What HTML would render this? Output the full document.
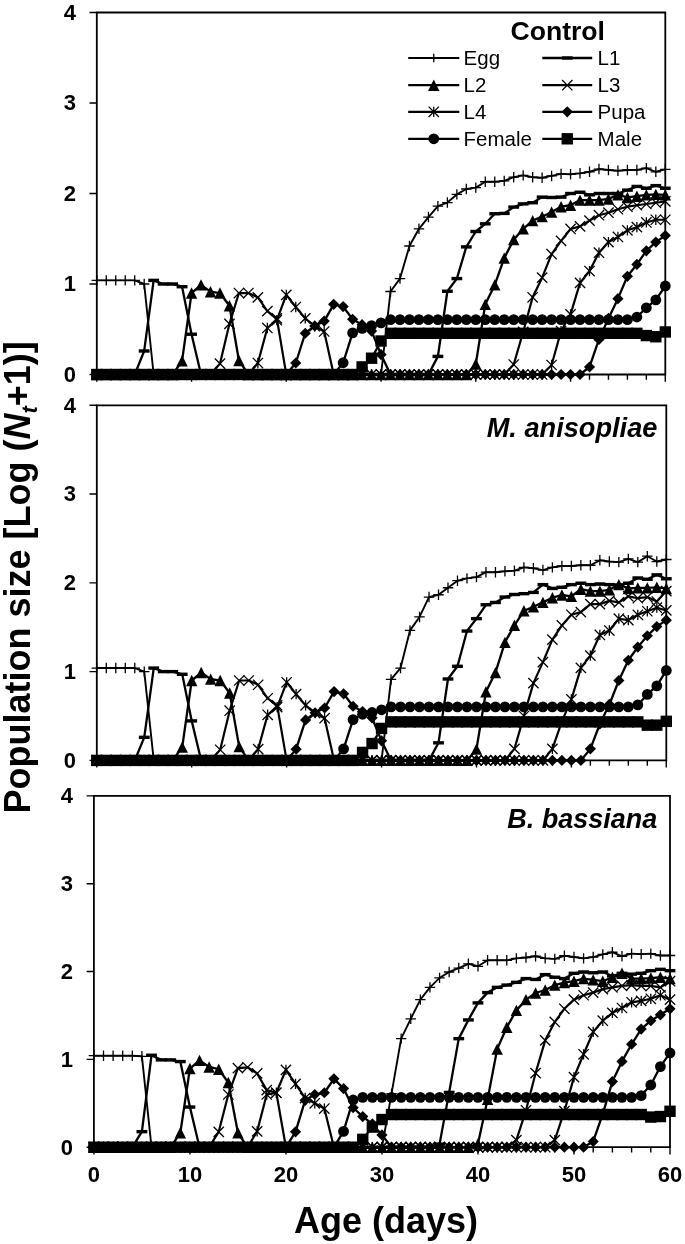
<!DOCTYPE html>
<html lang="en"><head><meta charset="utf-8"><title>Population size by stage</title>
<style>html,body{margin:0;padding:0;background:#fff}body{width:685px;height:1244px;overflow:hidden}svg{display:block}</style></head>
<body>
<svg width="685" height="1244" viewBox="0 0 685 1244" font-family="'Liberation Sans', sans-serif" fill="#000">
<rect width="685" height="1244" fill="#fff"/>
<g><path d="M96.8 374.5V12.5H665.3V374.5H96.8" fill="none" stroke="#000" stroke-width="1.8"/>
<path d="M89.50 374.50H96.8M89.50 284.00H96.8M89.50 193.50H96.8M89.50 103.00H96.8M89.50 12.50H96.8M96.80 374.5V381.70M115.75 374.5V379.80M134.70 374.5V379.80M153.65 374.5V379.80M172.60 374.5V379.80M191.55 374.5V381.70M210.50 374.5V379.80M229.45 374.5V379.80M248.40 374.5V379.80M267.35 374.5V379.80M286.30 374.5V381.70M305.25 374.5V379.80M324.20 374.5V379.80M343.15 374.5V379.80M362.10 374.5V379.80M381.05 374.5V381.70M400.00 374.5V379.80M418.95 374.5V379.80M437.90 374.5V379.80M456.85 374.5V379.80M475.80 374.5V381.70M494.75 374.5V379.80M513.70 374.5V379.80M532.65 374.5V379.80M551.60 374.5V379.80M570.55 374.5V381.70M589.50 374.5V379.80M608.45 374.5V379.80M627.40 374.5V379.80M646.35 374.5V379.80M665.30 374.5V381.70" fill="none" stroke="#000" stroke-width="1.4"/>
<text x="76.00" y="381.80" font-size="22" font-weight="bold" text-anchor="end">0</text>
<text x="76.00" y="291.30" font-size="22" font-weight="bold" text-anchor="end">1</text>
<text x="76.00" y="200.80" font-size="22" font-weight="bold" text-anchor="end">2</text>
<text x="76.00" y="110.30" font-size="22" font-weight="bold" text-anchor="end">3</text>
<text x="76.00" y="19.80" font-size="22" font-weight="bold" text-anchor="end">4</text>
<polyline fill="none" stroke="#000" stroke-width="1.9" stroke-linejoin="round" points="96.80,280.38 106.27,280.38 115.75,280.38 125.22,280.38 134.70,280.38 144.18,284.00 153.65,374.50 163.12,374.50 172.60,374.50 182.07,374.50 191.55,374.50 201.02,374.50 210.50,374.50 219.97,374.50 229.45,374.50 238.93,374.50 248.40,374.50 257.88,374.50 267.35,374.50 276.82,374.50 286.30,374.50 295.77,374.50 305.25,374.50 314.72,374.50 324.20,374.50 333.68,374.50 343.15,374.50 352.62,374.50 362.10,374.50 371.57,374.50 381.05,374.50 390.52,291.51 400.00,278.57 409.48,245.99 418.95,228.79 428.43,217.03 437.90,206.17 447.38,202.55 456.85,194.41 466.32,188.98 475.80,187.62 485.27,181.74 494.75,181.74 504.23,180.83 513.70,177.21 523.17,175.40 532.65,177.21 542.12,177.75 551.60,175.94 561.07,173.86 570.55,174.31 580.02,173.32 589.50,171.78 598.97,169.06 608.45,169.97 617.92,170.69 627.40,169.97 636.87,169.97 646.35,168.16 655.82,171.78 665.30,169.34"/>
<path d="M91.60 280.38H102.00M96.80 275.18V285.58" stroke="#000" stroke-width="1.3" fill="none"/><path d="M101.07 280.38H111.47M106.27 275.18V285.58" stroke="#000" stroke-width="1.3" fill="none"/><path d="M110.55 280.38H120.95M115.75 275.18V285.58" stroke="#000" stroke-width="1.3" fill="none"/><path d="M120.02 280.38H130.42M125.22 275.18V285.58" stroke="#000" stroke-width="1.3" fill="none"/><path d="M129.50 280.38H139.90M134.70 275.18V285.58" stroke="#000" stroke-width="1.3" fill="none"/><path d="M138.98 284.00H149.38M144.18 278.80V289.20" stroke="#000" stroke-width="1.3" fill="none"/><path d="M148.45 374.50H158.85M153.65 369.30V379.70" stroke="#000" stroke-width="1.3" fill="none"/><path d="M157.93 374.50H168.32M163.12 369.30V379.70" stroke="#000" stroke-width="1.3" fill="none"/><path d="M167.40 374.50H177.80M172.60 369.30V379.70" stroke="#000" stroke-width="1.3" fill="none"/><path d="M176.88 374.50H187.27M182.07 369.30V379.70" stroke="#000" stroke-width="1.3" fill="none"/><path d="M186.35 374.50H196.75M191.55 369.30V379.70" stroke="#000" stroke-width="1.3" fill="none"/><path d="M195.82 374.50H206.22M201.02 369.30V379.70" stroke="#000" stroke-width="1.3" fill="none"/><path d="M205.30 374.50H215.70M210.50 369.30V379.70" stroke="#000" stroke-width="1.3" fill="none"/><path d="M214.78 374.50H225.17M219.97 369.30V379.70" stroke="#000" stroke-width="1.3" fill="none"/><path d="M224.25 374.50H234.65M229.45 369.30V379.70" stroke="#000" stroke-width="1.3" fill="none"/><path d="M233.73 374.50H244.12M238.93 369.30V379.70" stroke="#000" stroke-width="1.3" fill="none"/><path d="M243.20 374.50H253.60M248.40 369.30V379.70" stroke="#000" stroke-width="1.3" fill="none"/><path d="M252.68 374.50H263.07M257.88 369.30V379.70" stroke="#000" stroke-width="1.3" fill="none"/><path d="M262.15 374.50H272.55M267.35 369.30V379.70" stroke="#000" stroke-width="1.3" fill="none"/><path d="M271.62 374.50H282.02M276.82 369.30V379.70" stroke="#000" stroke-width="1.3" fill="none"/><path d="M281.10 374.50H291.50M286.30 369.30V379.70" stroke="#000" stroke-width="1.3" fill="none"/><path d="M290.57 374.50H300.97M295.77 369.30V379.70" stroke="#000" stroke-width="1.3" fill="none"/><path d="M300.05 374.50H310.45M305.25 369.30V379.70" stroke="#000" stroke-width="1.3" fill="none"/><path d="M309.52 374.50H319.92M314.72 369.30V379.70" stroke="#000" stroke-width="1.3" fill="none"/><path d="M319.00 374.50H329.40M324.20 369.30V379.70" stroke="#000" stroke-width="1.3" fill="none"/><path d="M328.48 374.50H338.88M333.68 369.30V379.70" stroke="#000" stroke-width="1.3" fill="none"/><path d="M337.95 374.50H348.35M343.15 369.30V379.70" stroke="#000" stroke-width="1.3" fill="none"/><path d="M347.43 374.50H357.82M352.62 369.30V379.70" stroke="#000" stroke-width="1.3" fill="none"/><path d="M356.90 374.50H367.30M362.10 369.30V379.70" stroke="#000" stroke-width="1.3" fill="none"/><path d="M366.38 374.50H376.77M371.57 369.30V379.70" stroke="#000" stroke-width="1.3" fill="none"/><path d="M375.85 374.50H386.25M381.05 369.30V379.70" stroke="#000" stroke-width="1.3" fill="none"/><path d="M385.32 291.51H395.72M390.52 286.31V296.71" stroke="#000" stroke-width="1.3" fill="none"/><path d="M394.80 278.57H405.20M400.00 273.37V283.77" stroke="#000" stroke-width="1.3" fill="none"/><path d="M404.28 245.99H414.68M409.48 240.79V251.19" stroke="#000" stroke-width="1.3" fill="none"/><path d="M413.75 228.79H424.15M418.95 223.59V233.99" stroke="#000" stroke-width="1.3" fill="none"/><path d="M423.23 217.03H433.62M428.43 211.83V222.23" stroke="#000" stroke-width="1.3" fill="none"/><path d="M432.70 206.17H443.10M437.90 200.97V211.37" stroke="#000" stroke-width="1.3" fill="none"/><path d="M442.18 202.55H452.57M447.38 197.35V207.75" stroke="#000" stroke-width="1.3" fill="none"/><path d="M451.65 194.41H462.05M456.85 189.21V199.60" stroke="#000" stroke-width="1.3" fill="none"/><path d="M461.12 188.98H471.52M466.32 183.78V194.18" stroke="#000" stroke-width="1.3" fill="none"/><path d="M470.60 187.62H481.00M475.80 182.42V192.82" stroke="#000" stroke-width="1.3" fill="none"/><path d="M480.07 181.74H490.47M485.27 176.54V186.94" stroke="#000" stroke-width="1.3" fill="none"/><path d="M489.55 181.74H499.95M494.75 176.54V186.94" stroke="#000" stroke-width="1.3" fill="none"/><path d="M499.03 180.83H509.43M504.23 175.63V186.03" stroke="#000" stroke-width="1.3" fill="none"/><path d="M508.50 177.21H518.90M513.70 172.01V182.41" stroke="#000" stroke-width="1.3" fill="none"/><path d="M517.97 175.40H528.38M523.17 170.20V180.60" stroke="#000" stroke-width="1.3" fill="none"/><path d="M527.45 177.21H537.85M532.65 172.01V182.41" stroke="#000" stroke-width="1.3" fill="none"/><path d="M536.92 177.75H547.33M542.12 172.55V182.95" stroke="#000" stroke-width="1.3" fill="none"/><path d="M546.40 175.94H556.80M551.60 170.74V181.14" stroke="#000" stroke-width="1.3" fill="none"/><path d="M555.87 173.86H566.27M561.07 168.66V179.06" stroke="#000" stroke-width="1.3" fill="none"/><path d="M565.35 174.31H575.75M570.55 169.11V179.51" stroke="#000" stroke-width="1.3" fill="none"/><path d="M574.82 173.32H585.23M580.02 168.12V178.52" stroke="#000" stroke-width="1.3" fill="none"/><path d="M584.30 171.78H594.70M589.50 166.58V176.98" stroke="#000" stroke-width="1.3" fill="none"/><path d="M593.77 169.06H604.17M598.97 163.87V174.26" stroke="#000" stroke-width="1.3" fill="none"/><path d="M603.25 169.97H613.65M608.45 164.77V175.17" stroke="#000" stroke-width="1.3" fill="none"/><path d="M612.72 170.69H623.12M617.92 165.49V175.89" stroke="#000" stroke-width="1.3" fill="none"/><path d="M622.20 169.97H632.60M627.40 164.77V175.17" stroke="#000" stroke-width="1.3" fill="none"/><path d="M631.67 169.97H642.07M636.87 164.77V175.17" stroke="#000" stroke-width="1.3" fill="none"/><path d="M641.15 168.16H651.55M646.35 162.96V173.36" stroke="#000" stroke-width="1.3" fill="none"/><path d="M650.62 171.78H661.02M655.82 166.58V176.98" stroke="#000" stroke-width="1.3" fill="none"/><path d="M660.10 169.34H670.50M665.30 164.14V174.54" stroke="#000" stroke-width="1.3" fill="none"/>
<polyline fill="none" stroke="#000" stroke-width="2.3" stroke-linejoin="round" points="96.80,374.50 106.27,374.50 115.75,374.50 125.22,374.50 134.70,374.50 144.18,350.97 153.65,280.38 163.12,284.00 172.60,284.00 182.07,286.72 191.55,334.23 201.02,374.50 210.50,374.50 219.97,374.50 229.45,374.50 238.93,374.50 248.40,374.50 257.88,374.50 267.35,374.50 276.82,374.50 286.30,374.50 295.77,374.50 305.25,374.50 314.72,374.50 324.20,374.50 333.68,374.50 343.15,374.50 352.62,374.50 362.10,374.50 371.57,374.50 381.05,374.50 390.52,374.50 400.00,374.50 409.48,374.50 418.95,374.50 428.43,374.50 437.90,356.40 447.38,291.24 456.85,278.57 466.32,246.90 475.80,231.51 485.27,223.82 494.75,213.77 504.23,213.41 513.70,207.07 523.17,203.91 532.65,202.73 542.12,197.12 551.60,197.48 561.07,197.12 570.55,193.50 580.02,192.23 589.50,194.86 598.97,193.50 608.45,193.50 617.92,193.50 627.40,190.15 636.87,186.44 646.35,188.25 655.82,185.63 665.30,188.25"/>
<rect x="91.40" y="372.80" width="10.80" height="3.4" fill="#000"/><rect x="100.87" y="372.80" width="10.80" height="3.4" fill="#000"/><rect x="110.35" y="372.80" width="10.80" height="3.4" fill="#000"/><rect x="119.82" y="372.80" width="10.80" height="3.4" fill="#000"/><rect x="129.30" y="372.80" width="10.80" height="3.4" fill="#000"/><rect x="138.78" y="349.27" width="10.80" height="3.4" fill="#000"/><rect x="148.25" y="278.68" width="10.80" height="3.4" fill="#000"/><rect x="157.72" y="282.30" width="10.80" height="3.4" fill="#000"/><rect x="167.20" y="282.30" width="10.80" height="3.4" fill="#000"/><rect x="176.67" y="285.02" width="10.80" height="3.4" fill="#000"/><rect x="186.15" y="332.53" width="10.80" height="3.4" fill="#000"/><rect x="195.62" y="372.80" width="10.80" height="3.4" fill="#000"/><rect x="205.10" y="372.80" width="10.80" height="3.4" fill="#000"/><rect x="214.57" y="372.80" width="10.80" height="3.4" fill="#000"/><rect x="224.05" y="372.80" width="10.80" height="3.4" fill="#000"/><rect x="233.53" y="372.80" width="10.80" height="3.4" fill="#000"/><rect x="243.00" y="372.80" width="10.80" height="3.4" fill="#000"/><rect x="252.47" y="372.80" width="10.80" height="3.4" fill="#000"/><rect x="261.95" y="372.80" width="10.80" height="3.4" fill="#000"/><rect x="271.43" y="372.80" width="10.80" height="3.4" fill="#000"/><rect x="280.90" y="372.80" width="10.80" height="3.4" fill="#000"/><rect x="290.38" y="372.80" width="10.80" height="3.4" fill="#000"/><rect x="299.85" y="372.80" width="10.80" height="3.4" fill="#000"/><rect x="309.32" y="372.80" width="10.80" height="3.4" fill="#000"/><rect x="318.80" y="372.80" width="10.80" height="3.4" fill="#000"/><rect x="328.28" y="372.80" width="10.80" height="3.4" fill="#000"/><rect x="337.75" y="372.80" width="10.80" height="3.4" fill="#000"/><rect x="347.23" y="372.80" width="10.80" height="3.4" fill="#000"/><rect x="356.70" y="372.80" width="10.80" height="3.4" fill="#000"/><rect x="366.18" y="372.80" width="10.80" height="3.4" fill="#000"/><rect x="375.65" y="372.80" width="10.80" height="3.4" fill="#000"/><rect x="385.12" y="372.80" width="10.80" height="3.4" fill="#000"/><rect x="394.60" y="372.80" width="10.80" height="3.4" fill="#000"/><rect x="404.08" y="372.80" width="10.80" height="3.4" fill="#000"/><rect x="413.55" y="372.80" width="10.80" height="3.4" fill="#000"/><rect x="423.03" y="372.80" width="10.80" height="3.4" fill="#000"/><rect x="432.50" y="354.70" width="10.80" height="3.4" fill="#000"/><rect x="441.98" y="289.54" width="10.80" height="3.4" fill="#000"/><rect x="451.45" y="276.87" width="10.80" height="3.4" fill="#000"/><rect x="460.93" y="245.20" width="10.80" height="3.4" fill="#000"/><rect x="470.40" y="229.81" width="10.80" height="3.4" fill="#000"/><rect x="479.88" y="222.12" width="10.80" height="3.4" fill="#000"/><rect x="489.35" y="212.07" width="10.80" height="3.4" fill="#000"/><rect x="498.83" y="211.71" width="10.80" height="3.4" fill="#000"/><rect x="508.30" y="205.38" width="10.80" height="3.4" fill="#000"/><rect x="517.77" y="202.21" width="10.80" height="3.4" fill="#000"/><rect x="527.25" y="201.03" width="10.80" height="3.4" fill="#000"/><rect x="536.73" y="195.42" width="10.80" height="3.4" fill="#000"/><rect x="546.20" y="195.78" width="10.80" height="3.4" fill="#000"/><rect x="555.67" y="195.42" width="10.80" height="3.4" fill="#000"/><rect x="565.15" y="191.80" width="10.80" height="3.4" fill="#000"/><rect x="574.62" y="190.53" width="10.80" height="3.4" fill="#000"/><rect x="584.10" y="193.16" width="10.80" height="3.4" fill="#000"/><rect x="593.57" y="191.80" width="10.80" height="3.4" fill="#000"/><rect x="603.05" y="191.80" width="10.80" height="3.4" fill="#000"/><rect x="612.52" y="191.80" width="10.80" height="3.4" fill="#000"/><rect x="622.00" y="188.45" width="10.80" height="3.4" fill="#000"/><rect x="631.47" y="184.74" width="10.80" height="3.4" fill="#000"/><rect x="640.95" y="186.55" width="10.80" height="3.4" fill="#000"/><rect x="650.42" y="183.93" width="10.80" height="3.4" fill="#000"/><rect x="659.90" y="186.55" width="10.80" height="3.4" fill="#000"/>
<polyline fill="none" stroke="#000" stroke-width="2.3" stroke-linejoin="round" points="96.80,374.50 106.27,374.50 115.75,374.50 125.22,374.50 134.70,374.50 144.18,374.50 153.65,374.50 163.12,374.50 172.60,374.50 182.07,360.93 191.55,293.05 201.02,284.90 210.50,291.69 219.97,293.05 229.45,305.72 238.93,360.47 248.40,374.50 257.88,374.50 267.35,374.50 276.82,374.50 286.30,374.50 295.77,374.50 305.25,374.50 314.72,374.50 324.20,374.50 333.68,374.50 343.15,374.50 352.62,374.50 362.10,374.50 371.57,374.50 381.05,374.50 390.52,374.50 400.00,374.50 409.48,374.50 418.95,374.50 428.43,374.50 437.90,374.50 447.38,374.50 456.85,374.50 466.32,374.50 475.80,364.00 485.27,304.36 494.75,284.90 504.23,258.12 513.70,239.66 523.17,228.79 532.65,220.65 542.12,216.67 551.60,211.96 561.07,206.71 570.55,205.26 580.02,200.11 589.50,200.11 598.97,200.11 608.45,198.93 617.92,194.86 627.40,197.48 636.87,196.22 646.35,194.86 655.82,194.41 665.30,194.86"/>
<path d="M96.80 368.80L102.50 380.20H91.10Z" fill="#000"/><path d="M106.27 368.80L111.97 380.20H100.57Z" fill="#000"/><path d="M115.75 368.80L121.45 380.20H110.05Z" fill="#000"/><path d="M125.22 368.80L130.92 380.20H119.52Z" fill="#000"/><path d="M134.70 368.80L140.40 380.20H129.00Z" fill="#000"/><path d="M144.18 368.80L149.88 380.20H138.48Z" fill="#000"/><path d="M153.65 368.80L159.35 380.20H147.95Z" fill="#000"/><path d="M163.12 368.80L168.82 380.20H157.43Z" fill="#000"/><path d="M172.60 368.80L178.30 380.20H166.90Z" fill="#000"/><path d="M182.07 355.23L187.77 366.62H176.38Z" fill="#000"/><path d="M191.55 287.35L197.25 298.75H185.85Z" fill="#000"/><path d="M201.02 279.20L206.72 290.60H195.32Z" fill="#000"/><path d="M210.50 285.99L216.20 297.39H204.80Z" fill="#000"/><path d="M219.97 287.35L225.67 298.75H214.28Z" fill="#000"/><path d="M229.45 300.02L235.15 311.42H223.75Z" fill="#000"/><path d="M238.93 354.77L244.62 366.17H233.23Z" fill="#000"/><path d="M248.40 368.80L254.10 380.20H242.70Z" fill="#000"/><path d="M257.88 368.80L263.57 380.20H252.18Z" fill="#000"/><path d="M267.35 368.80L273.05 380.20H261.65Z" fill="#000"/><path d="M276.82 368.80L282.52 380.20H271.12Z" fill="#000"/><path d="M286.30 368.80L292.00 380.20H280.60Z" fill="#000"/><path d="M295.77 368.80L301.47 380.20H290.07Z" fill="#000"/><path d="M305.25 368.80L310.95 380.20H299.55Z" fill="#000"/><path d="M314.72 368.80L320.42 380.20H309.02Z" fill="#000"/><path d="M324.20 368.80L329.90 380.20H318.50Z" fill="#000"/><path d="M333.68 368.80L339.38 380.20H327.98Z" fill="#000"/><path d="M343.15 368.80L348.85 380.20H337.45Z" fill="#000"/><path d="M352.62 368.80L358.32 380.20H346.93Z" fill="#000"/><path d="M362.10 368.80L367.80 380.20H356.40Z" fill="#000"/><path d="M371.57 368.80L377.27 380.20H365.88Z" fill="#000"/><path d="M381.05 368.80L386.75 380.20H375.35Z" fill="#000"/><path d="M390.52 368.80L396.22 380.20H384.82Z" fill="#000"/><path d="M400.00 368.80L405.70 380.20H394.30Z" fill="#000"/><path d="M409.48 368.80L415.18 380.20H403.78Z" fill="#000"/><path d="M418.95 368.80L424.65 380.20H413.25Z" fill="#000"/><path d="M428.43 368.80L434.12 380.20H422.73Z" fill="#000"/><path d="M437.90 368.80L443.60 380.20H432.20Z" fill="#000"/><path d="M447.38 368.80L453.07 380.20H441.68Z" fill="#000"/><path d="M456.85 368.80L462.55 380.20H451.15Z" fill="#000"/><path d="M466.32 368.80L472.02 380.20H460.62Z" fill="#000"/><path d="M475.80 358.30L481.50 369.70H470.10Z" fill="#000"/><path d="M485.27 298.66L490.97 310.06H479.57Z" fill="#000"/><path d="M494.75 279.20L500.45 290.60H489.05Z" fill="#000"/><path d="M504.23 252.42L509.93 263.82H498.53Z" fill="#000"/><path d="M513.70 233.96L519.40 245.35H508.00Z" fill="#000"/><path d="M523.17 223.09L528.88 234.49H517.47Z" fill="#000"/><path d="M532.65 214.95L538.35 226.35H526.95Z" fill="#000"/><path d="M542.12 210.97L547.83 222.37H536.42Z" fill="#000"/><path d="M551.60 206.26L557.30 217.66H545.90Z" fill="#000"/><path d="M561.07 201.01L566.77 212.41H555.37Z" fill="#000"/><path d="M570.55 199.56L576.25 210.96H564.85Z" fill="#000"/><path d="M580.02 194.41L585.73 205.81H574.32Z" fill="#000"/><path d="M589.50 194.41L595.20 205.81H583.80Z" fill="#000"/><path d="M598.97 194.41L604.67 205.81H593.27Z" fill="#000"/><path d="M608.45 193.23L614.15 204.63H602.75Z" fill="#000"/><path d="M617.92 189.16L623.62 200.56H612.22Z" fill="#000"/><path d="M627.40 191.78L633.10 203.18H621.70Z" fill="#000"/><path d="M636.87 190.52L642.57 201.91H631.17Z" fill="#000"/><path d="M646.35 189.16L652.05 200.56H640.65Z" fill="#000"/><path d="M655.82 188.71L661.52 200.10H650.12Z" fill="#000"/><path d="M665.30 189.16L671.00 200.56H659.60Z" fill="#000"/>
<polyline fill="none" stroke="#000" stroke-width="2.2" stroke-linejoin="round" points="96.80,374.50 106.27,374.50 115.75,374.50 125.22,374.50 134.70,374.50 144.18,374.50 153.65,374.50 163.12,374.50 172.60,374.50 182.07,374.50 191.55,374.50 201.02,374.50 210.50,374.50 219.97,363.64 229.45,323.82 238.93,293.05 248.40,293.05 257.88,297.39 267.35,311.15 276.82,318.39 286.30,374.50 295.77,374.50 305.25,374.50 314.72,374.50 324.20,374.50 333.68,374.50 343.15,374.50 352.62,374.50 362.10,374.50 371.57,374.50 381.05,374.50 390.52,374.50 400.00,374.50 409.48,374.50 418.95,374.50 428.43,374.50 437.90,374.50 447.38,374.50 456.85,374.50 466.32,374.50 475.80,374.50 485.27,374.50 494.75,374.50 504.23,374.50 513.70,364.55 523.17,331.97 532.65,297.30 542.12,277.66 551.60,254.13 561.07,240.83 570.55,228.98 580.02,226.35 589.50,220.65 598.97,215.22 608.45,212.69 617.92,209.25 627.40,206.71 636.87,205.26 646.35,204.00 655.82,202.73 665.30,201.37"/>
<path d="M91.65 369.35L101.95 379.65M91.65 379.65L101.95 369.35" stroke="#000" stroke-width="1.3" fill="none"/><path d="M101.12 369.35L111.42 379.65M101.12 379.65L111.42 369.35" stroke="#000" stroke-width="1.3" fill="none"/><path d="M110.60 369.35L120.90 379.65M110.60 379.65L120.90 369.35" stroke="#000" stroke-width="1.3" fill="none"/><path d="M120.07 369.35L130.38 379.65M120.07 379.65L130.38 369.35" stroke="#000" stroke-width="1.3" fill="none"/><path d="M129.55 369.35L139.85 379.65M129.55 379.65L139.85 369.35" stroke="#000" stroke-width="1.3" fill="none"/><path d="M139.03 369.35L149.33 379.65M139.03 379.65L149.33 369.35" stroke="#000" stroke-width="1.3" fill="none"/><path d="M148.50 369.35L158.80 379.65M148.50 379.65L158.80 369.35" stroke="#000" stroke-width="1.3" fill="none"/><path d="M157.97 369.35L168.28 379.65M157.97 379.65L168.28 369.35" stroke="#000" stroke-width="1.3" fill="none"/><path d="M167.45 369.35L177.75 379.65M167.45 379.65L177.75 369.35" stroke="#000" stroke-width="1.3" fill="none"/><path d="M176.92 369.35L187.22 379.65M176.92 379.65L187.22 369.35" stroke="#000" stroke-width="1.3" fill="none"/><path d="M186.40 369.35L196.70 379.65M186.40 379.65L196.70 369.35" stroke="#000" stroke-width="1.3" fill="none"/><path d="M195.87 369.35L206.17 379.65M195.87 379.65L206.17 369.35" stroke="#000" stroke-width="1.3" fill="none"/><path d="M205.35 369.35L215.65 379.65M205.35 379.65L215.65 369.35" stroke="#000" stroke-width="1.3" fill="none"/><path d="M214.82 358.49L225.12 368.79M214.82 368.79L225.12 358.49" stroke="#000" stroke-width="1.3" fill="none"/><path d="M224.30 318.67L234.60 328.97M224.30 328.97L234.60 318.67" stroke="#000" stroke-width="1.3" fill="none"/><path d="M233.78 287.90L244.08 298.20M233.78 298.20L244.08 287.90" stroke="#000" stroke-width="1.3" fill="none"/><path d="M243.25 287.90L253.55 298.20M243.25 298.20L253.55 287.90" stroke="#000" stroke-width="1.3" fill="none"/><path d="M252.72 292.24L263.02 302.54M252.72 302.54L263.02 292.24" stroke="#000" stroke-width="1.3" fill="none"/><path d="M262.20 306.00L272.50 316.30M262.20 316.30L272.50 306.00" stroke="#000" stroke-width="1.3" fill="none"/><path d="M271.68 313.24L281.97 323.54M271.68 323.54L281.97 313.24" stroke="#000" stroke-width="1.3" fill="none"/><path d="M281.15 369.35L291.45 379.65M281.15 379.65L291.45 369.35" stroke="#000" stroke-width="1.3" fill="none"/><path d="M290.62 369.35L300.92 379.65M290.62 379.65L300.92 369.35" stroke="#000" stroke-width="1.3" fill="none"/><path d="M300.10 369.35L310.40 379.65M300.10 379.65L310.40 369.35" stroke="#000" stroke-width="1.3" fill="none"/><path d="M309.57 369.35L319.87 379.65M309.57 379.65L319.87 369.35" stroke="#000" stroke-width="1.3" fill="none"/><path d="M319.05 369.35L329.35 379.65M319.05 379.65L329.35 369.35" stroke="#000" stroke-width="1.3" fill="none"/><path d="M328.53 369.35L338.82 379.65M328.53 379.65L338.82 369.35" stroke="#000" stroke-width="1.3" fill="none"/><path d="M338.00 369.35L348.30 379.65M338.00 379.65L348.30 369.35" stroke="#000" stroke-width="1.3" fill="none"/><path d="M347.48 369.35L357.77 379.65M347.48 379.65L357.77 369.35" stroke="#000" stroke-width="1.3" fill="none"/><path d="M356.95 369.35L367.25 379.65M356.95 379.65L367.25 369.35" stroke="#000" stroke-width="1.3" fill="none"/><path d="M366.43 369.35L376.72 379.65M366.43 379.65L376.72 369.35" stroke="#000" stroke-width="1.3" fill="none"/><path d="M375.90 369.35L386.20 379.65M375.90 379.65L386.20 369.35" stroke="#000" stroke-width="1.3" fill="none"/><path d="M385.38 369.35L395.67 379.65M385.38 379.65L395.67 369.35" stroke="#000" stroke-width="1.3" fill="none"/><path d="M394.85 369.35L405.15 379.65M394.85 379.65L405.15 369.35" stroke="#000" stroke-width="1.3" fill="none"/><path d="M404.33 369.35L414.62 379.65M404.33 379.65L414.62 369.35" stroke="#000" stroke-width="1.3" fill="none"/><path d="M413.80 369.35L424.10 379.65M413.80 379.65L424.10 369.35" stroke="#000" stroke-width="1.3" fill="none"/><path d="M423.28 369.35L433.57 379.65M423.28 379.65L433.57 369.35" stroke="#000" stroke-width="1.3" fill="none"/><path d="M432.75 369.35L443.05 379.65M432.75 379.65L443.05 369.35" stroke="#000" stroke-width="1.3" fill="none"/><path d="M442.23 369.35L452.52 379.65M442.23 379.65L452.52 369.35" stroke="#000" stroke-width="1.3" fill="none"/><path d="M451.70 369.35L462.00 379.65M451.70 379.65L462.00 369.35" stroke="#000" stroke-width="1.3" fill="none"/><path d="M461.18 369.35L471.47 379.65M461.18 379.65L471.47 369.35" stroke="#000" stroke-width="1.3" fill="none"/><path d="M470.65 369.35L480.95 379.65M470.65 379.65L480.95 369.35" stroke="#000" stroke-width="1.3" fill="none"/><path d="M480.12 369.35L490.42 379.65M480.12 379.65L490.42 369.35" stroke="#000" stroke-width="1.3" fill="none"/><path d="M489.60 369.35L499.90 379.65M489.60 379.65L499.90 369.35" stroke="#000" stroke-width="1.3" fill="none"/><path d="M499.08 369.35L509.38 379.65M499.08 379.65L509.38 369.35" stroke="#000" stroke-width="1.3" fill="none"/><path d="M508.55 359.40L518.85 369.69M508.55 369.69L518.85 359.40" stroke="#000" stroke-width="1.3" fill="none"/><path d="M518.02 326.82L528.32 337.12M518.02 337.12L528.32 326.82" stroke="#000" stroke-width="1.3" fill="none"/><path d="M527.50 292.15L537.80 302.45M527.50 302.45L537.80 292.15" stroke="#000" stroke-width="1.3" fill="none"/><path d="M536.98 272.51L547.27 282.81M536.98 282.81L547.27 272.51" stroke="#000" stroke-width="1.3" fill="none"/><path d="M546.45 248.98L556.75 259.28M546.45 259.28L556.75 248.98" stroke="#000" stroke-width="1.3" fill="none"/><path d="M555.92 235.68L566.22 245.98M555.92 245.98L566.22 235.68" stroke="#000" stroke-width="1.3" fill="none"/><path d="M565.40 223.83L575.70 234.13M565.40 234.13L575.70 223.83" stroke="#000" stroke-width="1.3" fill="none"/><path d="M574.88 221.20L585.17 231.50M574.88 231.50L585.17 221.20" stroke="#000" stroke-width="1.3" fill="none"/><path d="M584.35 215.50L594.65 225.80M584.35 225.80L594.65 215.50" stroke="#000" stroke-width="1.3" fill="none"/><path d="M593.82 210.07L604.12 220.37M593.82 220.37L604.12 210.07" stroke="#000" stroke-width="1.3" fill="none"/><path d="M603.30 207.54L613.60 217.84M603.30 217.84L613.60 207.54" stroke="#000" stroke-width="1.3" fill="none"/><path d="M612.77 204.10L623.07 214.40M612.77 214.40L623.07 204.10" stroke="#000" stroke-width="1.3" fill="none"/><path d="M622.25 201.56L632.55 211.86M622.25 211.86L632.55 201.56" stroke="#000" stroke-width="1.3" fill="none"/><path d="M631.72 200.11L642.02 210.41M631.72 210.41L642.02 200.11" stroke="#000" stroke-width="1.3" fill="none"/><path d="M641.20 198.85L651.50 209.15M641.20 209.15L651.50 198.85" stroke="#000" stroke-width="1.3" fill="none"/><path d="M650.67 197.58L660.97 207.88M650.67 207.88L660.97 197.58" stroke="#000" stroke-width="1.3" fill="none"/><path d="M660.15 196.22L670.45 206.52M660.15 206.52L670.45 196.22" stroke="#000" stroke-width="1.3" fill="none"/>
<polyline fill="none" stroke="#000" stroke-width="2.2" stroke-linejoin="round" points="96.80,374.50 106.27,374.50 115.75,374.50 125.22,374.50 134.70,374.50 144.18,374.50 153.65,374.50 163.12,374.50 172.60,374.50 182.07,374.50 191.55,374.50 201.02,374.50 210.50,374.50 219.97,374.50 229.45,374.50 238.93,374.50 248.40,374.50 257.88,363.01 267.35,327.98 276.82,320.20 286.30,294.86 295.77,306.99 305.25,318.39 314.72,326.26 324.20,331.51 333.68,374.50 343.15,374.50 352.62,374.50 362.10,374.50 371.57,374.50 381.05,374.50 390.52,374.50 400.00,374.50 409.48,374.50 418.95,374.50 428.43,374.50 437.90,374.50 447.38,374.50 456.85,374.50 466.32,374.50 475.80,374.50 485.27,374.50 494.75,374.50 504.23,374.50 513.70,374.50 523.17,374.50 532.65,374.50 542.12,374.50 551.60,365.00 561.07,331.06 570.55,314.32 580.02,282.87 589.50,271.06 598.97,252.69 608.45,242.10 617.92,236.94 627.40,230.33 636.87,227.17 646.35,222.46 655.82,219.75 665.30,219.75"/>
<path d="M91.65 369.35L101.95 379.65M91.65 379.65L101.95 369.35M96.80 369.35V379.65" stroke="#000" stroke-width="1.3" fill="none"/><path d="M101.12 369.35L111.42 379.65M101.12 379.65L111.42 369.35M106.27 369.35V379.65" stroke="#000" stroke-width="1.3" fill="none"/><path d="M110.60 369.35L120.90 379.65M110.60 379.65L120.90 369.35M115.75 369.35V379.65" stroke="#000" stroke-width="1.3" fill="none"/><path d="M120.07 369.35L130.38 379.65M120.07 379.65L130.38 369.35M125.22 369.35V379.65" stroke="#000" stroke-width="1.3" fill="none"/><path d="M129.55 369.35L139.85 379.65M129.55 379.65L139.85 369.35M134.70 369.35V379.65" stroke="#000" stroke-width="1.3" fill="none"/><path d="M139.03 369.35L149.33 379.65M139.03 379.65L149.33 369.35M144.18 369.35V379.65" stroke="#000" stroke-width="1.3" fill="none"/><path d="M148.50 369.35L158.80 379.65M148.50 379.65L158.80 369.35M153.65 369.35V379.65" stroke="#000" stroke-width="1.3" fill="none"/><path d="M157.97 369.35L168.28 379.65M157.97 379.65L168.28 369.35M163.12 369.35V379.65" stroke="#000" stroke-width="1.3" fill="none"/><path d="M167.45 369.35L177.75 379.65M167.45 379.65L177.75 369.35M172.60 369.35V379.65" stroke="#000" stroke-width="1.3" fill="none"/><path d="M176.92 369.35L187.22 379.65M176.92 379.65L187.22 369.35M182.07 369.35V379.65" stroke="#000" stroke-width="1.3" fill="none"/><path d="M186.40 369.35L196.70 379.65M186.40 379.65L196.70 369.35M191.55 369.35V379.65" stroke="#000" stroke-width="1.3" fill="none"/><path d="M195.87 369.35L206.17 379.65M195.87 379.65L206.17 369.35M201.02 369.35V379.65" stroke="#000" stroke-width="1.3" fill="none"/><path d="M205.35 369.35L215.65 379.65M205.35 379.65L215.65 369.35M210.50 369.35V379.65" stroke="#000" stroke-width="1.3" fill="none"/><path d="M214.82 369.35L225.12 379.65M214.82 379.65L225.12 369.35M219.97 369.35V379.65" stroke="#000" stroke-width="1.3" fill="none"/><path d="M224.30 369.35L234.60 379.65M224.30 379.65L234.60 369.35M229.45 369.35V379.65" stroke="#000" stroke-width="1.3" fill="none"/><path d="M233.78 369.35L244.08 379.65M233.78 379.65L244.08 369.35M238.93 369.35V379.65" stroke="#000" stroke-width="1.3" fill="none"/><path d="M243.25 369.35L253.55 379.65M243.25 379.65L253.55 369.35M248.40 369.35V379.65" stroke="#000" stroke-width="1.3" fill="none"/><path d="M252.72 357.86L263.02 368.16M252.72 368.16L263.02 357.86M257.88 357.86V368.16" stroke="#000" stroke-width="1.3" fill="none"/><path d="M262.20 322.83L272.50 333.13M262.20 333.13L272.50 322.83M267.35 322.83V333.13" stroke="#000" stroke-width="1.3" fill="none"/><path d="M271.68 315.05L281.97 325.35M271.68 325.35L281.97 315.05M276.82 315.05V325.35" stroke="#000" stroke-width="1.3" fill="none"/><path d="M281.15 289.71L291.45 300.01M281.15 300.01L291.45 289.71M286.30 289.71V300.01" stroke="#000" stroke-width="1.3" fill="none"/><path d="M290.62 301.84L300.92 312.14M290.62 312.14L300.92 301.84M295.77 301.84V312.14" stroke="#000" stroke-width="1.3" fill="none"/><path d="M300.10 313.24L310.40 323.54M300.10 323.54L310.40 313.24M305.25 313.24V323.54" stroke="#000" stroke-width="1.3" fill="none"/><path d="M309.57 321.11L319.87 331.41M309.57 331.41L319.87 321.11M314.72 321.11V331.41" stroke="#000" stroke-width="1.3" fill="none"/><path d="M319.05 326.36L329.35 336.66M319.05 336.66L329.35 326.36M324.20 326.36V336.66" stroke="#000" stroke-width="1.3" fill="none"/><path d="M328.53 369.35L338.82 379.65M328.53 379.65L338.82 369.35M333.68 369.35V379.65" stroke="#000" stroke-width="1.3" fill="none"/><path d="M338.00 369.35L348.30 379.65M338.00 379.65L348.30 369.35M343.15 369.35V379.65" stroke="#000" stroke-width="1.3" fill="none"/><path d="M347.48 369.35L357.77 379.65M347.48 379.65L357.77 369.35M352.62 369.35V379.65" stroke="#000" stroke-width="1.3" fill="none"/><path d="M356.95 369.35L367.25 379.65M356.95 379.65L367.25 369.35M362.10 369.35V379.65" stroke="#000" stroke-width="1.3" fill="none"/><path d="M366.43 369.35L376.72 379.65M366.43 379.65L376.72 369.35M371.57 369.35V379.65" stroke="#000" stroke-width="1.3" fill="none"/><path d="M375.90 369.35L386.20 379.65M375.90 379.65L386.20 369.35M381.05 369.35V379.65" stroke="#000" stroke-width="1.3" fill="none"/><path d="M385.38 369.35L395.67 379.65M385.38 379.65L395.67 369.35M390.52 369.35V379.65" stroke="#000" stroke-width="1.3" fill="none"/><path d="M394.85 369.35L405.15 379.65M394.85 379.65L405.15 369.35M400.00 369.35V379.65" stroke="#000" stroke-width="1.3" fill="none"/><path d="M404.33 369.35L414.62 379.65M404.33 379.65L414.62 369.35M409.48 369.35V379.65" stroke="#000" stroke-width="1.3" fill="none"/><path d="M413.80 369.35L424.10 379.65M413.80 379.65L424.10 369.35M418.95 369.35V379.65" stroke="#000" stroke-width="1.3" fill="none"/><path d="M423.28 369.35L433.57 379.65M423.28 379.65L433.57 369.35M428.43 369.35V379.65" stroke="#000" stroke-width="1.3" fill="none"/><path d="M432.75 369.35L443.05 379.65M432.75 379.65L443.05 369.35M437.90 369.35V379.65" stroke="#000" stroke-width="1.3" fill="none"/><path d="M442.23 369.35L452.52 379.65M442.23 379.65L452.52 369.35M447.38 369.35V379.65" stroke="#000" stroke-width="1.3" fill="none"/><path d="M451.70 369.35L462.00 379.65M451.70 379.65L462.00 369.35M456.85 369.35V379.65" stroke="#000" stroke-width="1.3" fill="none"/><path d="M461.18 369.35L471.47 379.65M461.18 379.65L471.47 369.35M466.32 369.35V379.65" stroke="#000" stroke-width="1.3" fill="none"/><path d="M470.65 369.35L480.95 379.65M470.65 379.65L480.95 369.35M475.80 369.35V379.65" stroke="#000" stroke-width="1.3" fill="none"/><path d="M480.12 369.35L490.42 379.65M480.12 379.65L490.42 369.35M485.27 369.35V379.65" stroke="#000" stroke-width="1.3" fill="none"/><path d="M489.60 369.35L499.90 379.65M489.60 379.65L499.90 369.35M494.75 369.35V379.65" stroke="#000" stroke-width="1.3" fill="none"/><path d="M499.08 369.35L509.38 379.65M499.08 379.65L509.38 369.35M504.23 369.35V379.65" stroke="#000" stroke-width="1.3" fill="none"/><path d="M508.55 369.35L518.85 379.65M508.55 379.65L518.85 369.35M513.70 369.35V379.65" stroke="#000" stroke-width="1.3" fill="none"/><path d="M518.02 369.35L528.32 379.65M518.02 379.65L528.32 369.35M523.17 369.35V379.65" stroke="#000" stroke-width="1.3" fill="none"/><path d="M527.50 369.35L537.80 379.65M527.50 379.65L537.80 369.35M532.65 369.35V379.65" stroke="#000" stroke-width="1.3" fill="none"/><path d="M536.98 369.35L547.27 379.65M536.98 379.65L547.27 369.35M542.12 369.35V379.65" stroke="#000" stroke-width="1.3" fill="none"/><path d="M546.45 359.85L556.75 370.15M546.45 370.15L556.75 359.85M551.60 359.85V370.15" stroke="#000" stroke-width="1.3" fill="none"/><path d="M555.92 325.91L566.22 336.21M555.92 336.21L566.22 325.91M561.07 325.91V336.21" stroke="#000" stroke-width="1.3" fill="none"/><path d="M565.40 309.17L575.70 319.47M565.40 319.47L575.70 309.17M570.55 309.17V319.47" stroke="#000" stroke-width="1.3" fill="none"/><path d="M574.88 277.72L585.17 288.02M574.88 288.02L585.17 277.72M580.02 277.72V288.02" stroke="#000" stroke-width="1.3" fill="none"/><path d="M584.35 265.91L594.65 276.21M584.35 276.21L594.65 265.91M589.50 265.91V276.21" stroke="#000" stroke-width="1.3" fill="none"/><path d="M593.82 247.54L604.12 257.84M593.82 257.84L604.12 247.54M598.97 247.54V257.84" stroke="#000" stroke-width="1.3" fill="none"/><path d="M603.30 236.95L613.60 247.25M603.30 247.25L613.60 236.95M608.45 236.95V247.25" stroke="#000" stroke-width="1.3" fill="none"/><path d="M612.77 231.79L623.07 242.09M612.77 242.09L623.07 231.79M617.92 231.79V242.09" stroke="#000" stroke-width="1.3" fill="none"/><path d="M622.25 225.18L632.55 235.48M622.25 235.48L632.55 225.18M627.40 225.18V235.48" stroke="#000" stroke-width="1.3" fill="none"/><path d="M631.72 222.02L642.02 232.32M631.72 232.32L642.02 222.02M636.87 222.02V232.32" stroke="#000" stroke-width="1.3" fill="none"/><path d="M641.20 217.31L651.50 227.61M641.20 227.61L651.50 217.31M646.35 217.31V227.61" stroke="#000" stroke-width="1.3" fill="none"/><path d="M650.67 214.59L660.97 224.90M650.67 224.90L660.97 214.59M655.82 214.59V224.90" stroke="#000" stroke-width="1.3" fill="none"/><path d="M660.15 214.59L670.45 224.90M660.15 224.90L670.45 214.59M665.30 214.59V224.90" stroke="#000" stroke-width="1.3" fill="none"/>
<polyline fill="none" stroke="#000" stroke-width="2.3" stroke-linejoin="round" points="96.80,374.50 106.27,374.50 115.75,374.50 125.22,374.50 134.70,374.50 144.18,374.50 153.65,374.50 163.12,374.50 172.60,374.50 182.07,374.50 191.55,374.50 201.02,374.50 210.50,374.50 219.97,374.50 229.45,374.50 238.93,374.50 248.40,374.50 257.88,374.50 267.35,374.50 276.82,374.50 286.30,374.50 295.77,363.01 305.25,333.23 314.72,325.90 324.20,321.11 333.68,304.36 343.15,306.62 352.62,319.30 362.10,324.73 371.57,331.06 381.05,354.59 390.52,374.50 400.00,374.50 409.48,374.50 418.95,374.50 428.43,374.50 437.90,374.50 447.38,374.50 456.85,374.50 466.32,374.50 475.80,374.50 485.27,374.50 494.75,374.50 504.23,374.50 513.70,374.50 523.17,374.50 532.65,374.50 542.12,374.50 551.60,374.50 561.07,374.50 570.55,374.50 580.02,374.50 589.50,366.99 598.97,339.39 608.45,318.39 617.92,298.66 627.40,276.31 636.87,264.45 646.35,250.79 655.82,242.10 665.30,235.58"/>
<path d="M96.80 368.90L102.40 374.50L96.80 380.10L91.20 374.50Z" fill="#000"/><path d="M106.27 368.90L111.87 374.50L106.27 380.10L100.67 374.50Z" fill="#000"/><path d="M115.75 368.90L121.35 374.50L115.75 380.10L110.15 374.50Z" fill="#000"/><path d="M125.22 368.90L130.82 374.50L125.22 380.10L119.62 374.50Z" fill="#000"/><path d="M134.70 368.90L140.30 374.50L134.70 380.10L129.10 374.50Z" fill="#000"/><path d="M144.18 368.90L149.78 374.50L144.18 380.10L138.58 374.50Z" fill="#000"/><path d="M153.65 368.90L159.25 374.50L153.65 380.10L148.05 374.50Z" fill="#000"/><path d="M163.12 368.90L168.72 374.50L163.12 380.10L157.53 374.50Z" fill="#000"/><path d="M172.60 368.90L178.20 374.50L172.60 380.10L167.00 374.50Z" fill="#000"/><path d="M182.07 368.90L187.67 374.50L182.07 380.10L176.47 374.50Z" fill="#000"/><path d="M191.55 368.90L197.15 374.50L191.55 380.10L185.95 374.50Z" fill="#000"/><path d="M201.02 368.90L206.62 374.50L201.02 380.10L195.42 374.50Z" fill="#000"/><path d="M210.50 368.90L216.10 374.50L210.50 380.10L204.90 374.50Z" fill="#000"/><path d="M219.97 368.90L225.57 374.50L219.97 380.10L214.38 374.50Z" fill="#000"/><path d="M229.45 368.90L235.05 374.50L229.45 380.10L223.85 374.50Z" fill="#000"/><path d="M238.93 368.90L244.53 374.50L238.93 380.10L233.33 374.50Z" fill="#000"/><path d="M248.40 368.90L254.00 374.50L248.40 380.10L242.80 374.50Z" fill="#000"/><path d="M257.88 368.90L263.48 374.50L257.88 380.10L252.28 374.50Z" fill="#000"/><path d="M267.35 368.90L272.95 374.50L267.35 380.10L261.75 374.50Z" fill="#000"/><path d="M276.82 368.90L282.43 374.50L276.82 380.10L271.22 374.50Z" fill="#000"/><path d="M286.30 368.90L291.90 374.50L286.30 380.10L280.70 374.50Z" fill="#000"/><path d="M295.77 357.41L301.38 363.01L295.77 368.61L290.17 363.01Z" fill="#000"/><path d="M305.25 327.63L310.85 333.23L305.25 338.83L299.65 333.23Z" fill="#000"/><path d="M314.72 320.30L320.32 325.90L314.72 331.50L309.12 325.90Z" fill="#000"/><path d="M324.20 315.50L329.80 321.11L324.20 326.71L318.60 321.11Z" fill="#000"/><path d="M333.68 298.76L339.28 304.36L333.68 309.96L328.07 304.36Z" fill="#000"/><path d="M343.15 301.02L348.75 306.62L343.15 312.23L337.55 306.62Z" fill="#000"/><path d="M352.62 313.69L358.23 319.30L352.62 324.90L347.02 319.30Z" fill="#000"/><path d="M362.10 319.12L367.70 324.73L362.10 330.33L356.50 324.73Z" fill="#000"/><path d="M371.57 325.46L377.18 331.06L371.57 336.66L365.97 331.06Z" fill="#000"/><path d="M381.05 348.99L386.65 354.59L381.05 360.19L375.45 354.59Z" fill="#000"/><path d="M390.52 368.90L396.12 374.50L390.52 380.10L384.92 374.50Z" fill="#000"/><path d="M400.00 368.90L405.60 374.50L400.00 380.10L394.40 374.50Z" fill="#000"/><path d="M409.48 368.90L415.08 374.50L409.48 380.10L403.88 374.50Z" fill="#000"/><path d="M418.95 368.90L424.55 374.50L418.95 380.10L413.35 374.50Z" fill="#000"/><path d="M428.43 368.90L434.03 374.50L428.43 380.10L422.82 374.50Z" fill="#000"/><path d="M437.90 368.90L443.50 374.50L437.90 380.10L432.30 374.50Z" fill="#000"/><path d="M447.38 368.90L452.98 374.50L447.38 380.10L441.77 374.50Z" fill="#000"/><path d="M456.85 368.90L462.45 374.50L456.85 380.10L451.25 374.50Z" fill="#000"/><path d="M466.32 368.90L471.93 374.50L466.32 380.10L460.72 374.50Z" fill="#000"/><path d="M475.80 368.90L481.40 374.50L475.80 380.10L470.20 374.50Z" fill="#000"/><path d="M485.27 368.90L490.88 374.50L485.27 380.10L479.67 374.50Z" fill="#000"/><path d="M494.75 368.90L500.35 374.50L494.75 380.10L489.15 374.50Z" fill="#000"/><path d="M504.23 368.90L509.83 374.50L504.23 380.10L498.62 374.50Z" fill="#000"/><path d="M513.70 368.90L519.30 374.50L513.70 380.10L508.10 374.50Z" fill="#000"/><path d="M523.17 368.90L528.77 374.50L523.17 380.10L517.57 374.50Z" fill="#000"/><path d="M532.65 368.90L538.25 374.50L532.65 380.10L527.05 374.50Z" fill="#000"/><path d="M542.12 368.90L547.73 374.50L542.12 380.10L536.52 374.50Z" fill="#000"/><path d="M551.60 368.90L557.20 374.50L551.60 380.10L546.00 374.50Z" fill="#000"/><path d="M561.07 368.90L566.67 374.50L561.07 380.10L555.47 374.50Z" fill="#000"/><path d="M570.55 368.90L576.15 374.50L570.55 380.10L564.95 374.50Z" fill="#000"/><path d="M580.02 368.90L585.62 374.50L580.02 380.10L574.42 374.50Z" fill="#000"/><path d="M589.50 361.39L595.10 366.99L589.50 372.59L583.90 366.99Z" fill="#000"/><path d="M598.97 333.79L604.57 339.39L598.97 344.99L593.37 339.39Z" fill="#000"/><path d="M608.45 312.79L614.05 318.39L608.45 323.99L602.85 318.39Z" fill="#000"/><path d="M617.92 293.06L623.52 298.66L617.92 304.26L612.32 298.66Z" fill="#000"/><path d="M627.40 270.71L633.00 276.31L627.40 281.91L621.80 276.31Z" fill="#000"/><path d="M636.87 258.85L642.47 264.45L636.87 270.05L631.27 264.45Z" fill="#000"/><path d="M646.35 245.19L651.95 250.79L646.35 256.39L640.75 250.79Z" fill="#000"/><path d="M655.82 236.50L661.42 242.10L655.82 247.70L650.22 242.10Z" fill="#000"/><path d="M665.30 229.98L670.90 235.58L665.30 241.18L659.70 235.58Z" fill="#000"/>
<polyline fill="none" stroke="#000" stroke-width="2.3" stroke-linejoin="round" points="96.80,374.50 106.27,374.50 115.75,374.50 125.22,374.50 134.70,374.50 144.18,374.50 153.65,374.50 163.12,374.50 172.60,374.50 182.07,374.50 191.55,374.50 201.02,374.50 210.50,374.50 219.97,374.50 229.45,374.50 238.93,374.50 248.40,374.50 257.88,374.50 267.35,374.50 276.82,374.50 286.30,374.50 295.77,374.50 305.25,374.50 314.72,374.50 324.20,374.50 333.68,374.50 343.15,362.74 352.62,332.87 362.10,328.35 371.57,325.63 381.05,322.92 390.52,319.66 400.00,319.66 409.48,319.66 418.95,319.66 428.43,319.66 437.90,319.66 447.38,319.66 456.85,319.66 466.32,319.66 475.80,319.66 485.27,319.66 494.75,319.66 504.23,319.66 513.70,319.66 523.17,319.66 532.65,319.66 542.12,319.66 551.60,319.66 561.07,319.66 570.55,319.66 580.02,319.66 589.50,319.66 598.97,319.66 608.45,319.66 617.92,319.66 627.40,319.66 636.87,317.03 646.35,307.80 655.82,299.93 665.30,285.99"/>
<circle cx="96.80" cy="374.50" r="5.40" fill="#000"/><circle cx="106.27" cy="374.50" r="5.40" fill="#000"/><circle cx="115.75" cy="374.50" r="5.40" fill="#000"/><circle cx="125.22" cy="374.50" r="5.40" fill="#000"/><circle cx="134.70" cy="374.50" r="5.40" fill="#000"/><circle cx="144.18" cy="374.50" r="5.40" fill="#000"/><circle cx="153.65" cy="374.50" r="5.40" fill="#000"/><circle cx="163.12" cy="374.50" r="5.40" fill="#000"/><circle cx="172.60" cy="374.50" r="5.40" fill="#000"/><circle cx="182.07" cy="374.50" r="5.40" fill="#000"/><circle cx="191.55" cy="374.50" r="5.40" fill="#000"/><circle cx="201.02" cy="374.50" r="5.40" fill="#000"/><circle cx="210.50" cy="374.50" r="5.40" fill="#000"/><circle cx="219.97" cy="374.50" r="5.40" fill="#000"/><circle cx="229.45" cy="374.50" r="5.40" fill="#000"/><circle cx="238.93" cy="374.50" r="5.40" fill="#000"/><circle cx="248.40" cy="374.50" r="5.40" fill="#000"/><circle cx="257.88" cy="374.50" r="5.40" fill="#000"/><circle cx="267.35" cy="374.50" r="5.40" fill="#000"/><circle cx="276.82" cy="374.50" r="5.40" fill="#000"/><circle cx="286.30" cy="374.50" r="5.40" fill="#000"/><circle cx="295.77" cy="374.50" r="5.40" fill="#000"/><circle cx="305.25" cy="374.50" r="5.40" fill="#000"/><circle cx="314.72" cy="374.50" r="5.40" fill="#000"/><circle cx="324.20" cy="374.50" r="5.40" fill="#000"/><circle cx="333.68" cy="374.50" r="5.40" fill="#000"/><circle cx="343.15" cy="362.74" r="5.40" fill="#000"/><circle cx="352.62" cy="332.87" r="5.40" fill="#000"/><circle cx="362.10" cy="328.35" r="5.40" fill="#000"/><circle cx="371.57" cy="325.63" r="5.40" fill="#000"/><circle cx="381.05" cy="322.92" r="5.40" fill="#000"/><circle cx="390.52" cy="319.66" r="5.40" fill="#000"/><circle cx="400.00" cy="319.66" r="5.40" fill="#000"/><circle cx="409.48" cy="319.66" r="5.40" fill="#000"/><circle cx="418.95" cy="319.66" r="5.40" fill="#000"/><circle cx="428.43" cy="319.66" r="5.40" fill="#000"/><circle cx="437.90" cy="319.66" r="5.40" fill="#000"/><circle cx="447.38" cy="319.66" r="5.40" fill="#000"/><circle cx="456.85" cy="319.66" r="5.40" fill="#000"/><circle cx="466.32" cy="319.66" r="5.40" fill="#000"/><circle cx="475.80" cy="319.66" r="5.40" fill="#000"/><circle cx="485.27" cy="319.66" r="5.40" fill="#000"/><circle cx="494.75" cy="319.66" r="5.40" fill="#000"/><circle cx="504.23" cy="319.66" r="5.40" fill="#000"/><circle cx="513.70" cy="319.66" r="5.40" fill="#000"/><circle cx="523.17" cy="319.66" r="5.40" fill="#000"/><circle cx="532.65" cy="319.66" r="5.40" fill="#000"/><circle cx="542.12" cy="319.66" r="5.40" fill="#000"/><circle cx="551.60" cy="319.66" r="5.40" fill="#000"/><circle cx="561.07" cy="319.66" r="5.40" fill="#000"/><circle cx="570.55" cy="319.66" r="5.40" fill="#000"/><circle cx="580.02" cy="319.66" r="5.40" fill="#000"/><circle cx="589.50" cy="319.66" r="5.40" fill="#000"/><circle cx="598.97" cy="319.66" r="5.40" fill="#000"/><circle cx="608.45" cy="319.66" r="5.40" fill="#000"/><circle cx="617.92" cy="319.66" r="5.40" fill="#000"/><circle cx="627.40" cy="319.66" r="5.40" fill="#000"/><circle cx="636.87" cy="317.03" r="5.40" fill="#000"/><circle cx="646.35" cy="307.80" r="5.40" fill="#000"/><circle cx="655.82" cy="299.93" r="5.40" fill="#000"/><circle cx="665.30" cy="285.99" r="5.40" fill="#000"/>
<polyline fill="none" stroke="#000" stroke-width="2.3" stroke-linejoin="round" points="96.80,374.50 106.27,374.50 115.75,374.50 125.22,374.50 134.70,374.50 144.18,374.50 153.65,374.50 163.12,374.50 172.60,374.50 182.07,374.50 191.55,374.50 201.02,374.50 210.50,374.50 219.97,374.50 229.45,374.50 238.93,374.50 248.40,374.50 257.88,374.50 267.35,374.50 276.82,374.50 286.30,374.50 295.77,374.50 305.25,374.50 314.72,374.50 324.20,374.50 333.68,374.50 343.15,374.50 352.62,374.50 362.10,366.90 371.57,358.21 381.05,341.01 390.52,333.32 400.00,333.32 409.48,333.32 418.95,333.32 428.43,333.32 437.90,333.32 447.38,333.32 456.85,333.32 466.32,333.32 475.80,333.32 485.27,333.32 494.75,333.32 504.23,333.32 513.70,333.32 523.17,333.32 532.65,333.32 542.12,333.32 551.60,333.32 561.07,333.32 570.55,333.32 580.02,333.32 589.50,333.32 598.97,333.32 608.45,333.32 617.92,333.32 627.40,333.32 636.87,333.32 646.35,335.58 655.82,336.76 665.30,331.97"/>
<rect x="91.10" y="368.80" width="11.40" height="11.40" fill="#000"/><rect x="100.57" y="368.80" width="11.40" height="11.40" fill="#000"/><rect x="110.05" y="368.80" width="11.40" height="11.40" fill="#000"/><rect x="119.52" y="368.80" width="11.40" height="11.40" fill="#000"/><rect x="129.00" y="368.80" width="11.40" height="11.40" fill="#000"/><rect x="138.48" y="368.80" width="11.40" height="11.40" fill="#000"/><rect x="147.95" y="368.80" width="11.40" height="11.40" fill="#000"/><rect x="157.43" y="368.80" width="11.40" height="11.40" fill="#000"/><rect x="166.90" y="368.80" width="11.40" height="11.40" fill="#000"/><rect x="176.38" y="368.80" width="11.40" height="11.40" fill="#000"/><rect x="185.85" y="368.80" width="11.40" height="11.40" fill="#000"/><rect x="195.32" y="368.80" width="11.40" height="11.40" fill="#000"/><rect x="204.80" y="368.80" width="11.40" height="11.40" fill="#000"/><rect x="214.28" y="368.80" width="11.40" height="11.40" fill="#000"/><rect x="223.75" y="368.80" width="11.40" height="11.40" fill="#000"/><rect x="233.23" y="368.80" width="11.40" height="11.40" fill="#000"/><rect x="242.70" y="368.80" width="11.40" height="11.40" fill="#000"/><rect x="252.18" y="368.80" width="11.40" height="11.40" fill="#000"/><rect x="261.65" y="368.80" width="11.40" height="11.40" fill="#000"/><rect x="271.12" y="368.80" width="11.40" height="11.40" fill="#000"/><rect x="280.60" y="368.80" width="11.40" height="11.40" fill="#000"/><rect x="290.07" y="368.80" width="11.40" height="11.40" fill="#000"/><rect x="299.55" y="368.80" width="11.40" height="11.40" fill="#000"/><rect x="309.02" y="368.80" width="11.40" height="11.40" fill="#000"/><rect x="318.50" y="368.80" width="11.40" height="11.40" fill="#000"/><rect x="327.98" y="368.80" width="11.40" height="11.40" fill="#000"/><rect x="337.45" y="368.80" width="11.40" height="11.40" fill="#000"/><rect x="346.93" y="368.80" width="11.40" height="11.40" fill="#000"/><rect x="356.40" y="361.20" width="11.40" height="11.40" fill="#000"/><rect x="365.88" y="352.51" width="11.40" height="11.40" fill="#000"/><rect x="375.35" y="335.31" width="11.40" height="11.40" fill="#000"/><rect x="384.82" y="327.62" width="11.40" height="11.40" fill="#000"/><rect x="394.30" y="327.62" width="11.40" height="11.40" fill="#000"/><rect x="403.78" y="327.62" width="11.40" height="11.40" fill="#000"/><rect x="413.25" y="327.62" width="11.40" height="11.40" fill="#000"/><rect x="422.73" y="327.62" width="11.40" height="11.40" fill="#000"/><rect x="432.20" y="327.62" width="11.40" height="11.40" fill="#000"/><rect x="441.68" y="327.62" width="11.40" height="11.40" fill="#000"/><rect x="451.15" y="327.62" width="11.40" height="11.40" fill="#000"/><rect x="460.62" y="327.62" width="11.40" height="11.40" fill="#000"/><rect x="470.10" y="327.62" width="11.40" height="11.40" fill="#000"/><rect x="479.57" y="327.62" width="11.40" height="11.40" fill="#000"/><rect x="489.05" y="327.62" width="11.40" height="11.40" fill="#000"/><rect x="498.53" y="327.62" width="11.40" height="11.40" fill="#000"/><rect x="508.00" y="327.62" width="11.40" height="11.40" fill="#000"/><rect x="517.47" y="327.62" width="11.40" height="11.40" fill="#000"/><rect x="526.95" y="327.62" width="11.40" height="11.40" fill="#000"/><rect x="536.42" y="327.62" width="11.40" height="11.40" fill="#000"/><rect x="545.90" y="327.62" width="11.40" height="11.40" fill="#000"/><rect x="555.37" y="327.62" width="11.40" height="11.40" fill="#000"/><rect x="564.85" y="327.62" width="11.40" height="11.40" fill="#000"/><rect x="574.32" y="327.62" width="11.40" height="11.40" fill="#000"/><rect x="583.80" y="327.62" width="11.40" height="11.40" fill="#000"/><rect x="593.27" y="327.62" width="11.40" height="11.40" fill="#000"/><rect x="602.75" y="327.62" width="11.40" height="11.40" fill="#000"/><rect x="612.22" y="327.62" width="11.40" height="11.40" fill="#000"/><rect x="621.70" y="327.62" width="11.40" height="11.40" fill="#000"/><rect x="631.17" y="327.62" width="11.40" height="11.40" fill="#000"/><rect x="640.65" y="329.88" width="11.40" height="11.40" fill="#000"/><rect x="650.12" y="331.06" width="11.40" height="11.40" fill="#000"/><rect x="659.60" y="326.27" width="11.40" height="11.40" fill="#000"/></g>
<g><path d="M96.8 760.4V405.3H666.3V760.4H96.8" fill="none" stroke="#000" stroke-width="1.8"/>
<path d="M89.50 760.40H96.8M89.50 671.62H96.8M89.50 582.85H96.8M89.50 494.07H96.8M89.50 405.30H96.8M96.80 760.4V767.60M115.78 760.4V765.70M134.77 760.4V765.70M153.75 760.4V765.70M172.73 760.4V765.70M191.72 760.4V767.60M210.70 760.4V765.70M229.68 760.4V765.70M248.67 760.4V765.70M267.65 760.4V765.70M286.63 760.4V767.60M305.62 760.4V765.70M324.60 760.4V765.70M343.58 760.4V765.70M362.57 760.4V765.70M381.55 760.4V767.60M400.53 760.4V765.70M419.52 760.4V765.70M438.50 760.4V765.70M457.48 760.4V765.70M476.47 760.4V767.60M495.45 760.4V765.70M514.43 760.4V765.70M533.42 760.4V765.70M552.40 760.4V765.70M571.38 760.4V767.60M590.37 760.4V765.70M609.35 760.4V765.70M628.33 760.4V765.70M647.32 760.4V765.70M666.30 760.4V767.60" fill="none" stroke="#000" stroke-width="1.4"/>
<text x="76.00" y="767.70" font-size="22" font-weight="bold" text-anchor="end">0</text>
<text x="76.00" y="678.92" font-size="22" font-weight="bold" text-anchor="end">1</text>
<text x="76.00" y="590.15" font-size="22" font-weight="bold" text-anchor="end">2</text>
<text x="76.00" y="501.38" font-size="22" font-weight="bold" text-anchor="end">3</text>
<text x="76.00" y="412.60" font-size="22" font-weight="bold" text-anchor="end">4</text>
<polyline fill="none" stroke="#000" stroke-width="1.9" stroke-linejoin="round" points="96.80,668.07 106.29,668.07 115.78,668.07 125.28,668.07 134.77,668.07 144.26,671.62 153.75,760.40 163.24,760.40 172.73,760.40 182.23,760.40 191.72,760.40 201.21,760.40 210.70,760.40 220.19,760.40 229.68,760.40 239.18,760.40 248.67,760.40 258.16,760.40 267.65,760.40 277.14,760.40 286.63,760.40 296.12,760.40 305.62,760.40 315.11,760.40 324.60,760.40 334.09,760.40 343.58,760.40 353.08,760.40 362.57,760.40 372.06,760.40 381.55,760.40 391.04,679.44 400.53,668.07 410.03,630.34 419.52,616.94 429.01,597.05 438.50,594.75 447.99,587.73 457.48,580.72 466.98,578.41 476.47,577.17 485.96,572.20 495.45,572.20 504.94,571.31 514.43,570.69 523.92,567.40 533.42,568.20 542.91,570.07 552.40,567.40 561.89,565.98 571.38,565.98 580.88,565.27 590.37,565.27 599.86,560.30 609.35,561.54 618.84,562.17 628.33,558.88 637.82,562.17 647.32,556.22 656.81,561.54 666.30,559.50"/>
<path d="M91.60 668.07H102.00M96.80 662.87V673.27" stroke="#000" stroke-width="1.3" fill="none"/><path d="M101.09 668.07H111.49M106.29 662.87V673.27" stroke="#000" stroke-width="1.3" fill="none"/><path d="M110.58 668.07H120.98M115.78 662.87V673.27" stroke="#000" stroke-width="1.3" fill="none"/><path d="M120.08 668.07H130.47M125.28 662.87V673.27" stroke="#000" stroke-width="1.3" fill="none"/><path d="M129.57 668.07H139.97M134.77 662.87V673.27" stroke="#000" stroke-width="1.3" fill="none"/><path d="M139.06 671.62H149.46M144.26 666.42V676.83" stroke="#000" stroke-width="1.3" fill="none"/><path d="M148.55 760.40H158.95M153.75 755.20V765.60" stroke="#000" stroke-width="1.3" fill="none"/><path d="M158.04 760.40H168.44M163.24 755.20V765.60" stroke="#000" stroke-width="1.3" fill="none"/><path d="M167.53 760.40H177.93M172.73 755.20V765.60" stroke="#000" stroke-width="1.3" fill="none"/><path d="M177.03 760.40H187.43M182.23 755.20V765.60" stroke="#000" stroke-width="1.3" fill="none"/><path d="M186.52 760.40H196.92M191.72 755.20V765.60" stroke="#000" stroke-width="1.3" fill="none"/><path d="M196.01 760.40H206.41M201.21 755.20V765.60" stroke="#000" stroke-width="1.3" fill="none"/><path d="M205.50 760.40H215.90M210.70 755.20V765.60" stroke="#000" stroke-width="1.3" fill="none"/><path d="M214.99 760.40H225.39M220.19 755.20V765.60" stroke="#000" stroke-width="1.3" fill="none"/><path d="M224.48 760.40H234.88M229.68 755.20V765.60" stroke="#000" stroke-width="1.3" fill="none"/><path d="M233.98 760.40H244.38M239.18 755.20V765.60" stroke="#000" stroke-width="1.3" fill="none"/><path d="M243.47 760.40H253.87M248.67 755.20V765.60" stroke="#000" stroke-width="1.3" fill="none"/><path d="M252.96 760.40H263.36M258.16 755.20V765.60" stroke="#000" stroke-width="1.3" fill="none"/><path d="M262.45 760.40H272.85M267.65 755.20V765.60" stroke="#000" stroke-width="1.3" fill="none"/><path d="M271.94 760.40H282.34M277.14 755.20V765.60" stroke="#000" stroke-width="1.3" fill="none"/><path d="M281.43 760.40H291.83M286.63 755.20V765.60" stroke="#000" stroke-width="1.3" fill="none"/><path d="M290.93 760.40H301.32M296.12 755.20V765.60" stroke="#000" stroke-width="1.3" fill="none"/><path d="M300.42 760.40H310.82M305.62 755.20V765.60" stroke="#000" stroke-width="1.3" fill="none"/><path d="M309.91 760.40H320.31M315.11 755.20V765.60" stroke="#000" stroke-width="1.3" fill="none"/><path d="M319.40 760.40H329.80M324.60 755.20V765.60" stroke="#000" stroke-width="1.3" fill="none"/><path d="M328.89 760.40H339.29M334.09 755.20V765.60" stroke="#000" stroke-width="1.3" fill="none"/><path d="M338.38 760.40H348.78M343.58 755.20V765.60" stroke="#000" stroke-width="1.3" fill="none"/><path d="M347.88 760.40H358.28M353.08 755.20V765.60" stroke="#000" stroke-width="1.3" fill="none"/><path d="M357.37 760.40H367.77M362.57 755.20V765.60" stroke="#000" stroke-width="1.3" fill="none"/><path d="M366.86 760.40H377.26M372.06 755.20V765.60" stroke="#000" stroke-width="1.3" fill="none"/><path d="M376.35 760.40H386.75M381.55 755.20V765.60" stroke="#000" stroke-width="1.3" fill="none"/><path d="M385.84 679.44H396.24M391.04 674.24V684.64" stroke="#000" stroke-width="1.3" fill="none"/><path d="M395.33 668.07H405.73M400.53 662.87V673.27" stroke="#000" stroke-width="1.3" fill="none"/><path d="M404.83 630.34H415.23M410.03 625.14V635.54" stroke="#000" stroke-width="1.3" fill="none"/><path d="M414.32 616.94H424.72M419.52 611.74V622.14" stroke="#000" stroke-width="1.3" fill="none"/><path d="M423.81 597.05H434.21M429.01 591.85V602.25" stroke="#000" stroke-width="1.3" fill="none"/><path d="M433.30 594.75H443.70M438.50 589.55V599.95" stroke="#000" stroke-width="1.3" fill="none"/><path d="M442.79 587.73H453.19M447.99 582.53V592.93" stroke="#000" stroke-width="1.3" fill="none"/><path d="M452.28 580.72H462.68M457.48 575.52V585.92" stroke="#000" stroke-width="1.3" fill="none"/><path d="M461.78 578.41H472.18M466.98 573.21V583.61" stroke="#000" stroke-width="1.3" fill="none"/><path d="M471.27 577.17H481.67M476.47 571.97V582.37" stroke="#000" stroke-width="1.3" fill="none"/><path d="M480.76 572.20H491.16M485.96 567.00V577.40" stroke="#000" stroke-width="1.3" fill="none"/><path d="M490.25 572.20H500.65M495.45 567.00V577.40" stroke="#000" stroke-width="1.3" fill="none"/><path d="M499.74 571.31H510.14M504.94 566.11V576.51" stroke="#000" stroke-width="1.3" fill="none"/><path d="M509.23 570.69H519.63M514.43 565.49V575.89" stroke="#000" stroke-width="1.3" fill="none"/><path d="M518.72 567.40H529.12M523.92 562.20V572.60" stroke="#000" stroke-width="1.3" fill="none"/><path d="M528.22 568.20H538.62M533.42 563.00V573.40" stroke="#000" stroke-width="1.3" fill="none"/><path d="M537.71 570.07H548.11M542.91 564.87V575.27" stroke="#000" stroke-width="1.3" fill="none"/><path d="M547.20 567.40H557.60M552.40 562.20V572.60" stroke="#000" stroke-width="1.3" fill="none"/><path d="M556.69 565.98H567.09M561.89 560.78V571.18" stroke="#000" stroke-width="1.3" fill="none"/><path d="M566.18 565.98H576.58M571.38 560.78V571.18" stroke="#000" stroke-width="1.3" fill="none"/><path d="M575.67 565.27H586.08M580.88 560.07V570.47" stroke="#000" stroke-width="1.3" fill="none"/><path d="M585.17 565.27H595.57M590.37 560.07V570.47" stroke="#000" stroke-width="1.3" fill="none"/><path d="M594.66 560.30H605.06M599.86 555.10V565.50" stroke="#000" stroke-width="1.3" fill="none"/><path d="M604.15 561.54H614.55M609.35 556.34V566.74" stroke="#000" stroke-width="1.3" fill="none"/><path d="M613.64 562.17H624.04M618.84 556.97V567.37" stroke="#000" stroke-width="1.3" fill="none"/><path d="M623.13 558.88H633.53M628.33 553.68V564.08" stroke="#000" stroke-width="1.3" fill="none"/><path d="M632.62 562.17H643.02M637.82 556.97V567.37" stroke="#000" stroke-width="1.3" fill="none"/><path d="M642.12 556.22H652.52M647.32 551.02V561.42" stroke="#000" stroke-width="1.3" fill="none"/><path d="M651.61 561.54H662.01M656.81 556.34V566.74" stroke="#000" stroke-width="1.3" fill="none"/><path d="M661.10 559.50H671.50M666.30 554.30V564.70" stroke="#000" stroke-width="1.3" fill="none"/>
<polyline fill="none" stroke="#000" stroke-width="2.3" stroke-linejoin="round" points="96.80,760.40 106.29,760.40 115.78,760.40 125.28,760.40 134.77,760.40 144.26,737.32 153.75,668.07 163.24,671.62 172.73,671.62 182.23,674.29 191.72,720.90 201.21,760.40 210.70,760.40 220.19,760.40 229.68,760.40 239.18,760.40 248.67,760.40 258.16,760.40 267.65,760.40 277.14,760.40 286.63,760.40 296.12,760.40 305.62,760.40 315.11,760.40 324.60,760.40 334.09,760.40 343.58,760.40 353.08,760.40 362.57,760.40 372.06,760.40 381.55,760.40 391.04,760.40 400.53,760.40 410.03,760.40 419.52,760.40 429.01,760.40 438.50,742.82 447.99,678.99 457.48,666.30 466.98,631.05 476.47,618.63 485.96,604.78 495.45,602.47 504.94,597.05 514.43,594.48 523.92,593.68 533.42,592.44 542.91,584.63 552.40,588.44 561.89,587.29 571.38,584.63 580.88,583.21 590.37,584.63 599.86,584.00 609.35,584.63 618.84,585.07 628.33,583.21 637.82,577.97 647.32,579.30 656.81,574.86 666.30,578.77"/>
<rect x="91.40" y="758.70" width="10.80" height="3.4" fill="#000"/><rect x="100.89" y="758.70" width="10.80" height="3.4" fill="#000"/><rect x="110.38" y="758.70" width="10.80" height="3.4" fill="#000"/><rect x="119.88" y="758.70" width="10.80" height="3.4" fill="#000"/><rect x="129.37" y="758.70" width="10.80" height="3.4" fill="#000"/><rect x="138.86" y="735.62" width="10.80" height="3.4" fill="#000"/><rect x="148.35" y="666.37" width="10.80" height="3.4" fill="#000"/><rect x="157.84" y="669.92" width="10.80" height="3.4" fill="#000"/><rect x="167.33" y="669.92" width="10.80" height="3.4" fill="#000"/><rect x="176.83" y="672.59" width="10.80" height="3.4" fill="#000"/><rect x="186.32" y="719.20" width="10.80" height="3.4" fill="#000"/><rect x="195.81" y="758.70" width="10.80" height="3.4" fill="#000"/><rect x="205.30" y="758.70" width="10.80" height="3.4" fill="#000"/><rect x="214.79" y="758.70" width="10.80" height="3.4" fill="#000"/><rect x="224.28" y="758.70" width="10.80" height="3.4" fill="#000"/><rect x="233.78" y="758.70" width="10.80" height="3.4" fill="#000"/><rect x="243.27" y="758.70" width="10.80" height="3.4" fill="#000"/><rect x="252.76" y="758.70" width="10.80" height="3.4" fill="#000"/><rect x="262.25" y="758.70" width="10.80" height="3.4" fill="#000"/><rect x="271.74" y="758.70" width="10.80" height="3.4" fill="#000"/><rect x="281.23" y="758.70" width="10.80" height="3.4" fill="#000"/><rect x="290.73" y="758.70" width="10.80" height="3.4" fill="#000"/><rect x="300.22" y="758.70" width="10.80" height="3.4" fill="#000"/><rect x="309.71" y="758.70" width="10.80" height="3.4" fill="#000"/><rect x="319.20" y="758.70" width="10.80" height="3.4" fill="#000"/><rect x="328.69" y="758.70" width="10.80" height="3.4" fill="#000"/><rect x="338.18" y="758.70" width="10.80" height="3.4" fill="#000"/><rect x="347.68" y="758.70" width="10.80" height="3.4" fill="#000"/><rect x="357.17" y="758.70" width="10.80" height="3.4" fill="#000"/><rect x="366.66" y="758.70" width="10.80" height="3.4" fill="#000"/><rect x="376.15" y="758.70" width="10.80" height="3.4" fill="#000"/><rect x="385.64" y="758.70" width="10.80" height="3.4" fill="#000"/><rect x="395.13" y="758.70" width="10.80" height="3.4" fill="#000"/><rect x="404.63" y="758.70" width="10.80" height="3.4" fill="#000"/><rect x="414.12" y="758.70" width="10.80" height="3.4" fill="#000"/><rect x="423.61" y="758.70" width="10.80" height="3.4" fill="#000"/><rect x="433.10" y="741.12" width="10.80" height="3.4" fill="#000"/><rect x="442.59" y="677.29" width="10.80" height="3.4" fill="#000"/><rect x="452.08" y="664.60" width="10.80" height="3.4" fill="#000"/><rect x="461.58" y="629.35" width="10.80" height="3.4" fill="#000"/><rect x="471.07" y="616.93" width="10.80" height="3.4" fill="#000"/><rect x="480.56" y="603.08" width="10.80" height="3.4" fill="#000"/><rect x="490.05" y="600.77" width="10.80" height="3.4" fill="#000"/><rect x="499.54" y="595.35" width="10.80" height="3.4" fill="#000"/><rect x="509.03" y="592.78" width="10.80" height="3.4" fill="#000"/><rect x="518.52" y="591.98" width="10.80" height="3.4" fill="#000"/><rect x="528.02" y="590.74" width="10.80" height="3.4" fill="#000"/><rect x="537.51" y="582.93" width="10.80" height="3.4" fill="#000"/><rect x="547.00" y="586.74" width="10.80" height="3.4" fill="#000"/><rect x="556.49" y="585.59" width="10.80" height="3.4" fill="#000"/><rect x="565.98" y="582.93" width="10.80" height="3.4" fill="#000"/><rect x="575.48" y="581.51" width="10.80" height="3.4" fill="#000"/><rect x="584.97" y="582.93" width="10.80" height="3.4" fill="#000"/><rect x="594.46" y="582.30" width="10.80" height="3.4" fill="#000"/><rect x="603.95" y="582.93" width="10.80" height="3.4" fill="#000"/><rect x="613.44" y="583.37" width="10.80" height="3.4" fill="#000"/><rect x="622.93" y="581.51" width="10.80" height="3.4" fill="#000"/><rect x="632.42" y="576.27" width="10.80" height="3.4" fill="#000"/><rect x="641.92" y="577.60" width="10.80" height="3.4" fill="#000"/><rect x="651.41" y="573.16" width="10.80" height="3.4" fill="#000"/><rect x="660.90" y="577.07" width="10.80" height="3.4" fill="#000"/>
<polyline fill="none" stroke="#000" stroke-width="2.3" stroke-linejoin="round" points="96.80,760.40 106.29,760.40 115.78,760.40 125.28,760.40 134.77,760.40 144.26,760.40 153.75,760.40 163.24,760.40 172.73,760.40 182.23,747.08 191.72,680.50 201.21,672.51 210.70,679.17 220.19,680.50 229.68,692.93 239.18,746.64 248.67,760.40 258.16,760.40 267.65,760.40 277.14,760.40 286.63,760.40 296.12,760.40 305.62,760.40 315.11,760.40 324.60,760.40 334.09,760.40 343.58,760.40 353.08,760.40 362.57,760.40 372.06,760.40 381.55,760.40 391.04,760.40 400.53,760.40 410.03,760.40 419.52,760.40 429.01,760.40 438.50,760.40 447.99,760.40 457.48,760.40 466.98,760.40 476.47,749.13 485.96,691.78 495.45,672.60 504.94,642.33 514.43,625.28 523.92,610.81 533.42,606.82 542.91,602.38 552.40,597.68 561.89,595.01 571.38,596.34 580.88,589.24 590.37,591.11 599.86,591.11 609.35,589.77 618.84,584.63 628.33,588.44 637.82,587.91 647.32,587.91 656.81,587.29 666.30,588.44"/>
<path d="M96.80 754.70L102.50 766.10H91.10Z" fill="#000"/><path d="M106.29 754.70L111.99 766.10H100.59Z" fill="#000"/><path d="M115.78 754.70L121.48 766.10H110.08Z" fill="#000"/><path d="M125.28 754.70L130.97 766.10H119.58Z" fill="#000"/><path d="M134.77 754.70L140.47 766.10H129.07Z" fill="#000"/><path d="M144.26 754.70L149.96 766.10H138.56Z" fill="#000"/><path d="M153.75 754.70L159.45 766.10H148.05Z" fill="#000"/><path d="M163.24 754.70L168.94 766.10H157.54Z" fill="#000"/><path d="M172.73 754.70L178.43 766.10H167.03Z" fill="#000"/><path d="M182.23 741.38L187.93 752.78H176.53Z" fill="#000"/><path d="M191.72 674.80L197.42 686.20H186.02Z" fill="#000"/><path d="M201.21 666.81L206.91 678.21H195.51Z" fill="#000"/><path d="M210.70 673.47L216.40 684.87H205.00Z" fill="#000"/><path d="M220.19 674.80L225.89 686.20H214.49Z" fill="#000"/><path d="M229.68 687.23L235.38 698.63H223.98Z" fill="#000"/><path d="M239.18 740.94L244.88 752.34H233.48Z" fill="#000"/><path d="M248.67 754.70L254.37 766.10H242.97Z" fill="#000"/><path d="M258.16 754.70L263.86 766.10H252.46Z" fill="#000"/><path d="M267.65 754.70L273.35 766.10H261.95Z" fill="#000"/><path d="M277.14 754.70L282.84 766.10H271.44Z" fill="#000"/><path d="M286.63 754.70L292.33 766.10H280.93Z" fill="#000"/><path d="M296.12 754.70L301.82 766.10H290.43Z" fill="#000"/><path d="M305.62 754.70L311.32 766.10H299.92Z" fill="#000"/><path d="M315.11 754.70L320.81 766.10H309.41Z" fill="#000"/><path d="M324.60 754.70L330.30 766.10H318.90Z" fill="#000"/><path d="M334.09 754.70L339.79 766.10H328.39Z" fill="#000"/><path d="M343.58 754.70L349.28 766.10H337.88Z" fill="#000"/><path d="M353.08 754.70L358.78 766.10H347.38Z" fill="#000"/><path d="M362.57 754.70L368.27 766.10H356.87Z" fill="#000"/><path d="M372.06 754.70L377.76 766.10H366.36Z" fill="#000"/><path d="M381.55 754.70L387.25 766.10H375.85Z" fill="#000"/><path d="M391.04 754.70L396.74 766.10H385.34Z" fill="#000"/><path d="M400.53 754.70L406.23 766.10H394.83Z" fill="#000"/><path d="M410.03 754.70L415.73 766.10H404.33Z" fill="#000"/><path d="M419.52 754.70L425.22 766.10H413.82Z" fill="#000"/><path d="M429.01 754.70L434.71 766.10H423.31Z" fill="#000"/><path d="M438.50 754.70L444.20 766.10H432.80Z" fill="#000"/><path d="M447.99 754.70L453.69 766.10H442.29Z" fill="#000"/><path d="M457.48 754.70L463.18 766.10H451.78Z" fill="#000"/><path d="M466.98 754.70L472.68 766.10H461.28Z" fill="#000"/><path d="M476.47 743.43L482.17 754.83H470.77Z" fill="#000"/><path d="M485.96 686.08L491.66 697.48H480.26Z" fill="#000"/><path d="M495.45 666.90L501.15 678.30H489.75Z" fill="#000"/><path d="M504.94 636.63L510.64 648.03H499.24Z" fill="#000"/><path d="M514.43 619.58L520.13 630.98H508.73Z" fill="#000"/><path d="M523.92 605.11L529.62 616.51H518.22Z" fill="#000"/><path d="M533.42 601.12L539.12 612.52H527.72Z" fill="#000"/><path d="M542.91 596.68L548.61 608.08H537.21Z" fill="#000"/><path d="M552.40 591.98L558.10 603.38H546.70Z" fill="#000"/><path d="M561.89 589.31L567.59 600.71H556.19Z" fill="#000"/><path d="M571.38 590.64L577.08 602.04H565.68Z" fill="#000"/><path d="M580.88 583.54L586.58 594.94H575.17Z" fill="#000"/><path d="M590.37 585.41L596.07 596.81H584.67Z" fill="#000"/><path d="M599.86 585.41L605.56 596.81H594.16Z" fill="#000"/><path d="M609.35 584.07L615.05 595.47H603.65Z" fill="#000"/><path d="M618.84 578.93L624.54 590.33H613.14Z" fill="#000"/><path d="M628.33 582.74L634.03 594.14H622.63Z" fill="#000"/><path d="M637.82 582.21L643.52 593.61H632.12Z" fill="#000"/><path d="M647.32 582.21L653.02 593.61H641.62Z" fill="#000"/><path d="M656.81 581.59L662.51 592.99H651.11Z" fill="#000"/><path d="M666.30 582.74L672.00 594.14H660.60Z" fill="#000"/>
<polyline fill="none" stroke="#000" stroke-width="2.2" stroke-linejoin="round" points="96.80,760.40 106.29,760.40 115.78,760.40 125.28,760.40 134.77,760.40 144.26,760.40 153.75,760.40 163.24,760.40 172.73,760.40 182.23,760.40 191.72,760.40 201.21,760.40 210.70,760.40 220.19,749.75 229.68,710.69 239.18,680.50 248.67,680.50 258.16,684.76 267.65,698.26 277.14,705.36 286.63,760.40 296.12,760.40 305.62,760.40 315.11,760.40 324.60,760.40 334.09,760.40 343.58,760.40 353.08,760.40 362.57,760.40 372.06,760.40 381.55,760.40 391.04,760.40 400.53,760.40 410.03,760.40 419.52,760.40 429.01,760.40 438.50,760.40 447.99,760.40 457.48,760.40 466.98,760.40 476.47,760.40 485.96,760.40 495.45,760.40 504.94,760.40 514.43,748.86 523.92,716.01 533.42,683.17 542.91,662.13 552.40,639.67 561.89,625.46 571.38,614.81 580.88,612.15 590.37,604.16 599.86,604.16 609.35,600.87 618.84,602.38 628.33,596.34 637.82,598.21 647.32,597.05 656.81,601.49 666.30,591.11"/>
<path d="M91.65 755.25L101.95 765.55M91.65 765.55L101.95 755.25" stroke="#000" stroke-width="1.3" fill="none"/><path d="M101.14 755.25L111.44 765.55M101.14 765.55L111.44 755.25" stroke="#000" stroke-width="1.3" fill="none"/><path d="M110.63 755.25L120.93 765.55M110.63 765.55L120.93 755.25" stroke="#000" stroke-width="1.3" fill="none"/><path d="M120.12 755.25L130.43 765.55M120.12 765.55L130.43 755.25" stroke="#000" stroke-width="1.3" fill="none"/><path d="M129.62 755.25L139.92 765.55M129.62 765.55L139.92 755.25" stroke="#000" stroke-width="1.3" fill="none"/><path d="M139.11 755.25L149.41 765.55M139.11 765.55L149.41 755.25" stroke="#000" stroke-width="1.3" fill="none"/><path d="M148.60 755.25L158.90 765.55M148.60 765.55L158.90 755.25" stroke="#000" stroke-width="1.3" fill="none"/><path d="M158.09 755.25L168.39 765.55M158.09 765.55L168.39 755.25" stroke="#000" stroke-width="1.3" fill="none"/><path d="M167.58 755.25L177.88 765.55M167.58 765.55L177.88 755.25" stroke="#000" stroke-width="1.3" fill="none"/><path d="M177.08 755.25L187.38 765.55M177.08 765.55L187.38 755.25" stroke="#000" stroke-width="1.3" fill="none"/><path d="M186.57 755.25L196.87 765.55M186.57 765.55L196.87 755.25" stroke="#000" stroke-width="1.3" fill="none"/><path d="M196.06 755.25L206.36 765.55M196.06 765.55L206.36 755.25" stroke="#000" stroke-width="1.3" fill="none"/><path d="M205.55 755.25L215.85 765.55M205.55 765.55L215.85 755.25" stroke="#000" stroke-width="1.3" fill="none"/><path d="M215.04 744.60L225.34 754.90M215.04 754.90L225.34 744.60" stroke="#000" stroke-width="1.3" fill="none"/><path d="M224.53 705.54L234.83 715.84M224.53 715.84L234.83 705.54" stroke="#000" stroke-width="1.3" fill="none"/><path d="M234.03 675.35L244.33 685.65M234.03 685.65L244.33 675.35" stroke="#000" stroke-width="1.3" fill="none"/><path d="M243.52 675.35L253.82 685.65M243.52 685.65L253.82 675.35" stroke="#000" stroke-width="1.3" fill="none"/><path d="M253.01 679.61L263.31 689.91M253.01 689.91L263.31 679.61" stroke="#000" stroke-width="1.3" fill="none"/><path d="M262.50 693.11L272.80 703.41M262.50 703.41L272.80 693.11" stroke="#000" stroke-width="1.3" fill="none"/><path d="M271.99 700.21L282.29 710.51M271.99 710.51L282.29 700.21" stroke="#000" stroke-width="1.3" fill="none"/><path d="M281.48 755.25L291.78 765.55M281.48 765.55L291.78 755.25" stroke="#000" stroke-width="1.3" fill="none"/><path d="M290.98 755.25L301.27 765.55M290.98 765.55L301.27 755.25" stroke="#000" stroke-width="1.3" fill="none"/><path d="M300.47 755.25L310.77 765.55M300.47 765.55L310.77 755.25" stroke="#000" stroke-width="1.3" fill="none"/><path d="M309.96 755.25L320.26 765.55M309.96 765.55L320.26 755.25" stroke="#000" stroke-width="1.3" fill="none"/><path d="M319.45 755.25L329.75 765.55M319.45 765.55L329.75 755.25" stroke="#000" stroke-width="1.3" fill="none"/><path d="M328.94 755.25L339.24 765.55M328.94 765.55L339.24 755.25" stroke="#000" stroke-width="1.3" fill="none"/><path d="M338.43 755.25L348.73 765.55M338.43 765.55L348.73 755.25" stroke="#000" stroke-width="1.3" fill="none"/><path d="M347.93 755.25L358.23 765.55M347.93 765.55L358.23 755.25" stroke="#000" stroke-width="1.3" fill="none"/><path d="M357.42 755.25L367.72 765.55M357.42 765.55L367.72 755.25" stroke="#000" stroke-width="1.3" fill="none"/><path d="M366.91 755.25L377.21 765.55M366.91 765.55L377.21 755.25" stroke="#000" stroke-width="1.3" fill="none"/><path d="M376.40 755.25L386.70 765.55M376.40 765.55L386.70 755.25" stroke="#000" stroke-width="1.3" fill="none"/><path d="M385.89 755.25L396.19 765.55M385.89 765.55L396.19 755.25" stroke="#000" stroke-width="1.3" fill="none"/><path d="M395.38 755.25L405.68 765.55M395.38 765.55L405.68 755.25" stroke="#000" stroke-width="1.3" fill="none"/><path d="M404.88 755.25L415.18 765.55M404.88 765.55L415.18 755.25" stroke="#000" stroke-width="1.3" fill="none"/><path d="M414.37 755.25L424.67 765.55M414.37 765.55L424.67 755.25" stroke="#000" stroke-width="1.3" fill="none"/><path d="M423.86 755.25L434.16 765.55M423.86 765.55L434.16 755.25" stroke="#000" stroke-width="1.3" fill="none"/><path d="M433.35 755.25L443.65 765.55M433.35 765.55L443.65 755.25" stroke="#000" stroke-width="1.3" fill="none"/><path d="M442.84 755.25L453.14 765.55M442.84 765.55L453.14 755.25" stroke="#000" stroke-width="1.3" fill="none"/><path d="M452.33 755.25L462.63 765.55M452.33 765.55L462.63 755.25" stroke="#000" stroke-width="1.3" fill="none"/><path d="M461.83 755.25L472.12 765.55M461.83 765.55L472.12 755.25" stroke="#000" stroke-width="1.3" fill="none"/><path d="M471.32 755.25L481.62 765.55M471.32 765.55L481.62 755.25" stroke="#000" stroke-width="1.3" fill="none"/><path d="M480.81 755.25L491.11 765.55M480.81 765.55L491.11 755.25" stroke="#000" stroke-width="1.3" fill="none"/><path d="M490.30 755.25L500.60 765.55M490.30 765.55L500.60 755.25" stroke="#000" stroke-width="1.3" fill="none"/><path d="M499.79 755.25L510.09 765.55M499.79 765.55L510.09 755.25" stroke="#000" stroke-width="1.3" fill="none"/><path d="M509.28 743.71L519.58 754.01M509.28 754.01L519.58 743.71" stroke="#000" stroke-width="1.3" fill="none"/><path d="M518.77 710.86L529.07 721.16M518.77 721.16L529.07 710.86" stroke="#000" stroke-width="1.3" fill="none"/><path d="M528.27 678.02L538.57 688.32M528.27 688.32L538.57 678.02" stroke="#000" stroke-width="1.3" fill="none"/><path d="M537.76 656.98L548.06 667.28M537.76 667.28L548.06 656.98" stroke="#000" stroke-width="1.3" fill="none"/><path d="M547.25 634.52L557.55 644.82M547.25 644.82L557.55 634.52" stroke="#000" stroke-width="1.3" fill="none"/><path d="M556.74 620.31L567.04 630.61M556.74 630.61L567.04 620.31" stroke="#000" stroke-width="1.3" fill="none"/><path d="M566.23 609.66L576.53 619.96M566.23 619.96L576.53 609.66" stroke="#000" stroke-width="1.3" fill="none"/><path d="M575.73 607.00L586.02 617.30M575.73 617.30L586.02 607.00" stroke="#000" stroke-width="1.3" fill="none"/><path d="M585.22 599.01L595.52 609.31M585.22 609.31L595.52 599.01" stroke="#000" stroke-width="1.3" fill="none"/><path d="M594.71 599.01L605.01 609.31M594.71 609.31L605.01 599.01" stroke="#000" stroke-width="1.3" fill="none"/><path d="M604.20 595.72L614.50 606.02M604.20 606.02L614.50 595.72" stroke="#000" stroke-width="1.3" fill="none"/><path d="M613.69 597.23L623.99 607.53M613.69 607.53L623.99 597.23" stroke="#000" stroke-width="1.3" fill="none"/><path d="M623.18 591.19L633.48 601.49M623.18 601.49L633.48 591.19" stroke="#000" stroke-width="1.3" fill="none"/><path d="M632.67 593.06L642.97 603.36M632.67 603.36L642.97 593.06" stroke="#000" stroke-width="1.3" fill="none"/><path d="M642.17 591.90L652.47 602.20M642.17 602.20L652.47 591.90" stroke="#000" stroke-width="1.3" fill="none"/><path d="M651.66 596.34L661.96 606.64M651.66 606.64L661.96 596.34" stroke="#000" stroke-width="1.3" fill="none"/><path d="M661.15 585.96L671.45 596.26M661.15 596.26L671.45 585.96" stroke="#000" stroke-width="1.3" fill="none"/>
<polyline fill="none" stroke="#000" stroke-width="2.2" stroke-linejoin="round" points="96.80,760.40 106.29,760.40 115.78,760.40 125.28,760.40 134.77,760.40 144.26,760.40 153.75,760.40 163.24,760.40 172.73,760.40 182.23,760.40 191.72,760.40 201.21,760.40 210.70,760.40 220.19,760.40 229.68,760.40 239.18,760.40 248.67,760.40 258.16,749.13 267.65,714.77 277.14,707.13 286.63,682.28 296.12,694.17 305.62,705.36 315.11,713.08 324.60,718.23 334.09,760.40 343.58,760.40 353.08,760.40 362.57,760.40 372.06,760.40 381.55,760.40 391.04,760.40 400.53,760.40 410.03,760.40 419.52,760.40 429.01,760.40 438.50,760.40 447.99,760.40 457.48,760.40 466.98,760.40 476.47,760.40 485.96,760.40 495.45,760.40 504.94,760.40 514.43,760.40 523.92,760.40 533.42,760.40 542.91,760.40 552.40,748.86 561.89,721.34 571.38,699.41 580.88,667.90 590.37,655.65 599.86,634.96 609.35,630.52 618.84,618.72 628.33,620.14 637.82,614.81 647.32,611.26 656.81,607.71 666.30,610.37"/>
<path d="M91.65 755.25L101.95 765.55M91.65 765.55L101.95 755.25M96.80 755.25V765.55" stroke="#000" stroke-width="1.3" fill="none"/><path d="M101.14 755.25L111.44 765.55M101.14 765.55L111.44 755.25M106.29 755.25V765.55" stroke="#000" stroke-width="1.3" fill="none"/><path d="M110.63 755.25L120.93 765.55M110.63 765.55L120.93 755.25M115.78 755.25V765.55" stroke="#000" stroke-width="1.3" fill="none"/><path d="M120.12 755.25L130.43 765.55M120.12 765.55L130.43 755.25M125.28 755.25V765.55" stroke="#000" stroke-width="1.3" fill="none"/><path d="M129.62 755.25L139.92 765.55M129.62 765.55L139.92 755.25M134.77 755.25V765.55" stroke="#000" stroke-width="1.3" fill="none"/><path d="M139.11 755.25L149.41 765.55M139.11 765.55L149.41 755.25M144.26 755.25V765.55" stroke="#000" stroke-width="1.3" fill="none"/><path d="M148.60 755.25L158.90 765.55M148.60 765.55L158.90 755.25M153.75 755.25V765.55" stroke="#000" stroke-width="1.3" fill="none"/><path d="M158.09 755.25L168.39 765.55M158.09 765.55L168.39 755.25M163.24 755.25V765.55" stroke="#000" stroke-width="1.3" fill="none"/><path d="M167.58 755.25L177.88 765.55M167.58 765.55L177.88 755.25M172.73 755.25V765.55" stroke="#000" stroke-width="1.3" fill="none"/><path d="M177.08 755.25L187.38 765.55M177.08 765.55L187.38 755.25M182.23 755.25V765.55" stroke="#000" stroke-width="1.3" fill="none"/><path d="M186.57 755.25L196.87 765.55M186.57 765.55L196.87 755.25M191.72 755.25V765.55" stroke="#000" stroke-width="1.3" fill="none"/><path d="M196.06 755.25L206.36 765.55M196.06 765.55L206.36 755.25M201.21 755.25V765.55" stroke="#000" stroke-width="1.3" fill="none"/><path d="M205.55 755.25L215.85 765.55M205.55 765.55L215.85 755.25M210.70 755.25V765.55" stroke="#000" stroke-width="1.3" fill="none"/><path d="M215.04 755.25L225.34 765.55M215.04 765.55L225.34 755.25M220.19 755.25V765.55" stroke="#000" stroke-width="1.3" fill="none"/><path d="M224.53 755.25L234.83 765.55M224.53 765.55L234.83 755.25M229.68 755.25V765.55" stroke="#000" stroke-width="1.3" fill="none"/><path d="M234.03 755.25L244.33 765.55M234.03 765.55L244.33 755.25M239.18 755.25V765.55" stroke="#000" stroke-width="1.3" fill="none"/><path d="M243.52 755.25L253.82 765.55M243.52 765.55L253.82 755.25M248.67 755.25V765.55" stroke="#000" stroke-width="1.3" fill="none"/><path d="M253.01 743.98L263.31 754.28M253.01 754.28L263.31 743.98M258.16 743.98V754.28" stroke="#000" stroke-width="1.3" fill="none"/><path d="M262.50 709.62L272.80 719.92M262.50 719.92L272.80 709.62M267.65 709.62V719.92" stroke="#000" stroke-width="1.3" fill="none"/><path d="M271.99 701.99L282.29 712.28M271.99 712.28L282.29 701.99M277.14 701.99V712.28" stroke="#000" stroke-width="1.3" fill="none"/><path d="M281.48 677.13L291.78 687.43M281.48 687.43L291.78 677.13M286.63 677.13V687.43" stroke="#000" stroke-width="1.3" fill="none"/><path d="M290.98 689.02L301.27 699.32M290.98 699.32L301.27 689.02M296.12 689.02V699.32" stroke="#000" stroke-width="1.3" fill="none"/><path d="M300.47 700.21L310.77 710.51M300.47 710.51L310.77 700.21M305.62 700.21V710.51" stroke="#000" stroke-width="1.3" fill="none"/><path d="M309.96 707.93L320.26 718.23M309.96 718.23L320.26 707.93M315.11 707.93V718.23" stroke="#000" stroke-width="1.3" fill="none"/><path d="M319.45 713.08L329.75 723.38M319.45 723.38L329.75 713.08M324.60 713.08V723.38" stroke="#000" stroke-width="1.3" fill="none"/><path d="M328.94 755.25L339.24 765.55M328.94 765.55L339.24 755.25M334.09 755.25V765.55" stroke="#000" stroke-width="1.3" fill="none"/><path d="M338.43 755.25L348.73 765.55M338.43 765.55L348.73 755.25M343.58 755.25V765.55" stroke="#000" stroke-width="1.3" fill="none"/><path d="M347.93 755.25L358.23 765.55M347.93 765.55L358.23 755.25M353.08 755.25V765.55" stroke="#000" stroke-width="1.3" fill="none"/><path d="M357.42 755.25L367.72 765.55M357.42 765.55L367.72 755.25M362.57 755.25V765.55" stroke="#000" stroke-width="1.3" fill="none"/><path d="M366.91 755.25L377.21 765.55M366.91 765.55L377.21 755.25M372.06 755.25V765.55" stroke="#000" stroke-width="1.3" fill="none"/><path d="M376.40 755.25L386.70 765.55M376.40 765.55L386.70 755.25M381.55 755.25V765.55" stroke="#000" stroke-width="1.3" fill="none"/><path d="M385.89 755.25L396.19 765.55M385.89 765.55L396.19 755.25M391.04 755.25V765.55" stroke="#000" stroke-width="1.3" fill="none"/><path d="M395.38 755.25L405.68 765.55M395.38 765.55L405.68 755.25M400.53 755.25V765.55" stroke="#000" stroke-width="1.3" fill="none"/><path d="M404.88 755.25L415.18 765.55M404.88 765.55L415.18 755.25M410.03 755.25V765.55" stroke="#000" stroke-width="1.3" fill="none"/><path d="M414.37 755.25L424.67 765.55M414.37 765.55L424.67 755.25M419.52 755.25V765.55" stroke="#000" stroke-width="1.3" fill="none"/><path d="M423.86 755.25L434.16 765.55M423.86 765.55L434.16 755.25M429.01 755.25V765.55" stroke="#000" stroke-width="1.3" fill="none"/><path d="M433.35 755.25L443.65 765.55M433.35 765.55L443.65 755.25M438.50 755.25V765.55" stroke="#000" stroke-width="1.3" fill="none"/><path d="M442.84 755.25L453.14 765.55M442.84 765.55L453.14 755.25M447.99 755.25V765.55" stroke="#000" stroke-width="1.3" fill="none"/><path d="M452.33 755.25L462.63 765.55M452.33 765.55L462.63 755.25M457.48 755.25V765.55" stroke="#000" stroke-width="1.3" fill="none"/><path d="M461.83 755.25L472.12 765.55M461.83 765.55L472.12 755.25M466.98 755.25V765.55" stroke="#000" stroke-width="1.3" fill="none"/><path d="M471.32 755.25L481.62 765.55M471.32 765.55L481.62 755.25M476.47 755.25V765.55" stroke="#000" stroke-width="1.3" fill="none"/><path d="M480.81 755.25L491.11 765.55M480.81 765.55L491.11 755.25M485.96 755.25V765.55" stroke="#000" stroke-width="1.3" fill="none"/><path d="M490.30 755.25L500.60 765.55M490.30 765.55L500.60 755.25M495.45 755.25V765.55" stroke="#000" stroke-width="1.3" fill="none"/><path d="M499.79 755.25L510.09 765.55M499.79 765.55L510.09 755.25M504.94 755.25V765.55" stroke="#000" stroke-width="1.3" fill="none"/><path d="M509.28 755.25L519.58 765.55M509.28 765.55L519.58 755.25M514.43 755.25V765.55" stroke="#000" stroke-width="1.3" fill="none"/><path d="M518.77 755.25L529.07 765.55M518.77 765.55L529.07 755.25M523.92 755.25V765.55" stroke="#000" stroke-width="1.3" fill="none"/><path d="M528.27 755.25L538.57 765.55M528.27 765.55L538.57 755.25M533.42 755.25V765.55" stroke="#000" stroke-width="1.3" fill="none"/><path d="M537.76 755.25L548.06 765.55M537.76 765.55L548.06 755.25M542.91 755.25V765.55" stroke="#000" stroke-width="1.3" fill="none"/><path d="M547.25 743.71L557.55 754.01M547.25 754.01L557.55 743.71M552.40 743.71V754.01" stroke="#000" stroke-width="1.3" fill="none"/><path d="M556.74 716.19L567.04 726.49M556.74 726.49L567.04 716.19M561.89 716.19V726.49" stroke="#000" stroke-width="1.3" fill="none"/><path d="M566.23 694.26L576.53 704.56M566.23 704.56L576.53 694.26M571.38 694.26V704.56" stroke="#000" stroke-width="1.3" fill="none"/><path d="M575.73 662.75L586.02 673.05M575.73 673.05L586.02 662.75M580.88 662.75V673.05" stroke="#000" stroke-width="1.3" fill="none"/><path d="M585.22 650.50L595.52 660.80M585.22 660.80L595.52 650.50M590.37 650.50V660.80" stroke="#000" stroke-width="1.3" fill="none"/><path d="M594.71 629.81L605.01 640.11M594.71 640.11L605.01 629.81M599.86 629.81V640.11" stroke="#000" stroke-width="1.3" fill="none"/><path d="M604.20 625.37L614.50 635.67M604.20 635.67L614.50 625.37M609.35 625.37V635.67" stroke="#000" stroke-width="1.3" fill="none"/><path d="M613.69 613.57L623.99 623.87M613.69 623.87L623.99 613.57M618.84 613.57V623.87" stroke="#000" stroke-width="1.3" fill="none"/><path d="M623.18 614.99L633.48 625.29M623.18 625.29L633.48 614.99M628.33 614.99V625.29" stroke="#000" stroke-width="1.3" fill="none"/><path d="M632.67 609.66L642.97 619.96M632.67 619.96L642.97 609.66M637.82 609.66V619.96" stroke="#000" stroke-width="1.3" fill="none"/><path d="M642.17 606.11L652.47 616.41M642.17 616.41L652.47 606.11M647.32 606.11V616.41" stroke="#000" stroke-width="1.3" fill="none"/><path d="M651.66 602.56L661.96 612.86M651.66 612.86L661.96 602.56M656.81 602.56V612.86" stroke="#000" stroke-width="1.3" fill="none"/><path d="M661.15 605.22L671.45 615.52M661.15 615.52L671.45 605.22M666.30 605.22V615.52" stroke="#000" stroke-width="1.3" fill="none"/>
<polyline fill="none" stroke="#000" stroke-width="2.3" stroke-linejoin="round" points="96.80,760.40 106.29,760.40 115.78,760.40 125.28,760.40 134.77,760.40 144.26,760.40 153.75,760.40 163.24,760.40 172.73,760.40 182.23,760.40 191.72,760.40 201.21,760.40 210.70,760.40 220.19,760.40 229.68,760.40 239.18,760.40 248.67,760.40 258.16,760.40 267.65,760.40 277.14,760.40 286.63,760.40 296.12,749.13 305.62,719.92 315.11,712.73 324.60,708.02 334.09,691.60 343.58,693.82 353.08,706.25 362.57,711.57 372.06,717.79 381.55,740.87 391.04,760.40 400.53,760.40 410.03,760.40 419.52,760.40 429.01,760.40 438.50,760.40 447.99,760.40 457.48,760.40 466.98,760.40 476.47,760.40 485.96,760.40 495.45,760.40 504.94,760.40 514.43,760.40 523.92,760.40 533.42,760.40 542.91,760.40 552.40,760.40 561.89,760.40 571.38,760.40 580.88,760.40 590.37,748.86 599.86,724.00 609.35,704.47 618.84,680.50 628.33,660.26 637.82,647.12 647.32,635.76 656.81,626.62 666.30,620.14"/>
<path d="M96.80 754.80L102.40 760.40L96.80 766.00L91.20 760.40Z" fill="#000"/><path d="M106.29 754.80L111.89 760.40L106.29 766.00L100.69 760.40Z" fill="#000"/><path d="M115.78 754.80L121.38 760.40L115.78 766.00L110.18 760.40Z" fill="#000"/><path d="M125.28 754.80L130.88 760.40L125.28 766.00L119.68 760.40Z" fill="#000"/><path d="M134.77 754.80L140.37 760.40L134.77 766.00L129.17 760.40Z" fill="#000"/><path d="M144.26 754.80L149.86 760.40L144.26 766.00L138.66 760.40Z" fill="#000"/><path d="M153.75 754.80L159.35 760.40L153.75 766.00L148.15 760.40Z" fill="#000"/><path d="M163.24 754.80L168.84 760.40L163.24 766.00L157.64 760.40Z" fill="#000"/><path d="M172.73 754.80L178.33 760.40L172.73 766.00L167.13 760.40Z" fill="#000"/><path d="M182.23 754.80L187.83 760.40L182.23 766.00L176.63 760.40Z" fill="#000"/><path d="M191.72 754.80L197.32 760.40L191.72 766.00L186.12 760.40Z" fill="#000"/><path d="M201.21 754.80L206.81 760.40L201.21 766.00L195.61 760.40Z" fill="#000"/><path d="M210.70 754.80L216.30 760.40L210.70 766.00L205.10 760.40Z" fill="#000"/><path d="M220.19 754.80L225.79 760.40L220.19 766.00L214.59 760.40Z" fill="#000"/><path d="M229.68 754.80L235.28 760.40L229.68 766.00L224.08 760.40Z" fill="#000"/><path d="M239.18 754.80L244.78 760.40L239.18 766.00L233.58 760.40Z" fill="#000"/><path d="M248.67 754.80L254.27 760.40L248.67 766.00L243.07 760.40Z" fill="#000"/><path d="M258.16 754.80L263.76 760.40L258.16 766.00L252.56 760.40Z" fill="#000"/><path d="M267.65 754.80L273.25 760.40L267.65 766.00L262.05 760.40Z" fill="#000"/><path d="M277.14 754.80L282.74 760.40L277.14 766.00L271.54 760.40Z" fill="#000"/><path d="M286.63 754.80L292.23 760.40L286.63 766.00L281.03 760.40Z" fill="#000"/><path d="M296.12 743.53L301.73 749.13L296.12 754.73L290.52 749.13Z" fill="#000"/><path d="M305.62 714.32L311.22 719.92L305.62 725.52L300.02 719.92Z" fill="#000"/><path d="M315.11 707.13L320.71 712.73L315.11 718.33L309.51 712.73Z" fill="#000"/><path d="M324.60 702.42L330.20 708.02L324.60 713.62L319.00 708.02Z" fill="#000"/><path d="M334.09 686.00L339.69 691.60L334.09 697.20L328.49 691.60Z" fill="#000"/><path d="M343.58 688.22L349.18 693.82L343.58 699.42L337.98 693.82Z" fill="#000"/><path d="M353.08 700.65L358.68 706.25L353.08 711.85L347.48 706.25Z" fill="#000"/><path d="M362.57 705.97L368.17 711.57L362.57 717.17L356.97 711.57Z" fill="#000"/><path d="M372.06 712.19L377.66 717.79L372.06 723.39L366.46 717.79Z" fill="#000"/><path d="M381.55 735.27L387.15 740.87L381.55 746.47L375.95 740.87Z" fill="#000"/><path d="M391.04 754.80L396.64 760.40L391.04 766.00L385.44 760.40Z" fill="#000"/><path d="M400.53 754.80L406.13 760.40L400.53 766.00L394.93 760.40Z" fill="#000"/><path d="M410.03 754.80L415.63 760.40L410.03 766.00L404.43 760.40Z" fill="#000"/><path d="M419.52 754.80L425.12 760.40L419.52 766.00L413.92 760.40Z" fill="#000"/><path d="M429.01 754.80L434.61 760.40L429.01 766.00L423.41 760.40Z" fill="#000"/><path d="M438.50 754.80L444.10 760.40L438.50 766.00L432.90 760.40Z" fill="#000"/><path d="M447.99 754.80L453.59 760.40L447.99 766.00L442.39 760.40Z" fill="#000"/><path d="M457.48 754.80L463.08 760.40L457.48 766.00L451.88 760.40Z" fill="#000"/><path d="M466.98 754.80L472.58 760.40L466.98 766.00L461.38 760.40Z" fill="#000"/><path d="M476.47 754.80L482.07 760.40L476.47 766.00L470.87 760.40Z" fill="#000"/><path d="M485.96 754.80L491.56 760.40L485.96 766.00L480.36 760.40Z" fill="#000"/><path d="M495.45 754.80L501.05 760.40L495.45 766.00L489.85 760.40Z" fill="#000"/><path d="M504.94 754.80L510.54 760.40L504.94 766.00L499.34 760.40Z" fill="#000"/><path d="M514.43 754.80L520.03 760.40L514.43 766.00L508.83 760.40Z" fill="#000"/><path d="M523.92 754.80L529.52 760.40L523.92 766.00L518.32 760.40Z" fill="#000"/><path d="M533.42 754.80L539.02 760.40L533.42 766.00L527.82 760.40Z" fill="#000"/><path d="M542.91 754.80L548.51 760.40L542.91 766.00L537.31 760.40Z" fill="#000"/><path d="M552.40 754.80L558.00 760.40L552.40 766.00L546.80 760.40Z" fill="#000"/><path d="M561.89 754.80L567.49 760.40L561.89 766.00L556.29 760.40Z" fill="#000"/><path d="M571.38 754.80L576.98 760.40L571.38 766.00L565.78 760.40Z" fill="#000"/><path d="M580.88 754.80L586.48 760.40L580.88 766.00L575.27 760.40Z" fill="#000"/><path d="M590.37 743.26L595.97 748.86L590.37 754.46L584.77 748.86Z" fill="#000"/><path d="M599.86 718.40L605.46 724.00L599.86 729.60L594.26 724.00Z" fill="#000"/><path d="M609.35 698.87L614.95 704.47L609.35 710.07L603.75 704.47Z" fill="#000"/><path d="M618.84 674.90L624.44 680.50L618.84 686.10L613.24 680.50Z" fill="#000"/><path d="M628.33 654.66L633.93 660.26L628.33 665.86L622.73 660.26Z" fill="#000"/><path d="M637.82 641.52L643.42 647.12L637.82 652.72L632.22 647.12Z" fill="#000"/><path d="M647.32 630.16L652.92 635.76L647.32 641.36L641.72 635.76Z" fill="#000"/><path d="M656.81 621.02L662.41 626.62L656.81 632.22L651.21 626.62Z" fill="#000"/><path d="M666.30 614.54L671.90 620.14L666.30 625.74L660.70 620.14Z" fill="#000"/>
<polyline fill="none" stroke="#000" stroke-width="2.3" stroke-linejoin="round" points="96.80,760.40 106.29,760.40 115.78,760.40 125.28,760.40 134.77,760.40 144.26,760.40 153.75,760.40 163.24,760.40 172.73,760.40 182.23,760.40 191.72,760.40 201.21,760.40 210.70,760.40 220.19,760.40 229.68,760.40 239.18,760.40 248.67,760.40 258.16,760.40 267.65,760.40 277.14,760.40 286.63,760.40 296.12,760.40 305.62,760.40 315.11,760.40 324.60,760.40 334.09,760.40 343.58,748.86 353.08,719.56 362.57,714.24 372.06,712.46 381.55,709.80 391.04,706.87 400.53,706.87 410.03,706.87 419.52,706.87 429.01,706.87 438.50,706.87 447.99,706.87 457.48,706.87 466.98,706.87 476.47,706.87 485.96,706.87 495.45,706.87 504.94,706.87 514.43,706.87 523.92,706.87 533.42,706.87 542.91,706.87 552.40,706.87 561.89,706.87 571.38,706.87 580.88,706.87 590.37,706.87 599.86,706.87 609.35,706.87 618.84,706.87 628.33,706.87 637.82,704.92 647.32,694.44 656.81,685.83 666.30,670.47"/>
<circle cx="96.80" cy="760.40" r="5.40" fill="#000"/><circle cx="106.29" cy="760.40" r="5.40" fill="#000"/><circle cx="115.78" cy="760.40" r="5.40" fill="#000"/><circle cx="125.28" cy="760.40" r="5.40" fill="#000"/><circle cx="134.77" cy="760.40" r="5.40" fill="#000"/><circle cx="144.26" cy="760.40" r="5.40" fill="#000"/><circle cx="153.75" cy="760.40" r="5.40" fill="#000"/><circle cx="163.24" cy="760.40" r="5.40" fill="#000"/><circle cx="172.73" cy="760.40" r="5.40" fill="#000"/><circle cx="182.23" cy="760.40" r="5.40" fill="#000"/><circle cx="191.72" cy="760.40" r="5.40" fill="#000"/><circle cx="201.21" cy="760.40" r="5.40" fill="#000"/><circle cx="210.70" cy="760.40" r="5.40" fill="#000"/><circle cx="220.19" cy="760.40" r="5.40" fill="#000"/><circle cx="229.68" cy="760.40" r="5.40" fill="#000"/><circle cx="239.18" cy="760.40" r="5.40" fill="#000"/><circle cx="248.67" cy="760.40" r="5.40" fill="#000"/><circle cx="258.16" cy="760.40" r="5.40" fill="#000"/><circle cx="267.65" cy="760.40" r="5.40" fill="#000"/><circle cx="277.14" cy="760.40" r="5.40" fill="#000"/><circle cx="286.63" cy="760.40" r="5.40" fill="#000"/><circle cx="296.12" cy="760.40" r="5.40" fill="#000"/><circle cx="305.62" cy="760.40" r="5.40" fill="#000"/><circle cx="315.11" cy="760.40" r="5.40" fill="#000"/><circle cx="324.60" cy="760.40" r="5.40" fill="#000"/><circle cx="334.09" cy="760.40" r="5.40" fill="#000"/><circle cx="343.58" cy="748.86" r="5.40" fill="#000"/><circle cx="353.08" cy="719.56" r="5.40" fill="#000"/><circle cx="362.57" cy="714.24" r="5.40" fill="#000"/><circle cx="372.06" cy="712.46" r="5.40" fill="#000"/><circle cx="381.55" cy="709.80" r="5.40" fill="#000"/><circle cx="391.04" cy="706.87" r="5.40" fill="#000"/><circle cx="400.53" cy="706.87" r="5.40" fill="#000"/><circle cx="410.03" cy="706.87" r="5.40" fill="#000"/><circle cx="419.52" cy="706.87" r="5.40" fill="#000"/><circle cx="429.01" cy="706.87" r="5.40" fill="#000"/><circle cx="438.50" cy="706.87" r="5.40" fill="#000"/><circle cx="447.99" cy="706.87" r="5.40" fill="#000"/><circle cx="457.48" cy="706.87" r="5.40" fill="#000"/><circle cx="466.98" cy="706.87" r="5.40" fill="#000"/><circle cx="476.47" cy="706.87" r="5.40" fill="#000"/><circle cx="485.96" cy="706.87" r="5.40" fill="#000"/><circle cx="495.45" cy="706.87" r="5.40" fill="#000"/><circle cx="504.94" cy="706.87" r="5.40" fill="#000"/><circle cx="514.43" cy="706.87" r="5.40" fill="#000"/><circle cx="523.92" cy="706.87" r="5.40" fill="#000"/><circle cx="533.42" cy="706.87" r="5.40" fill="#000"/><circle cx="542.91" cy="706.87" r="5.40" fill="#000"/><circle cx="552.40" cy="706.87" r="5.40" fill="#000"/><circle cx="561.89" cy="706.87" r="5.40" fill="#000"/><circle cx="571.38" cy="706.87" r="5.40" fill="#000"/><circle cx="580.88" cy="706.87" r="5.40" fill="#000"/><circle cx="590.37" cy="706.87" r="5.40" fill="#000"/><circle cx="599.86" cy="706.87" r="5.40" fill="#000"/><circle cx="609.35" cy="706.87" r="5.40" fill="#000"/><circle cx="618.84" cy="706.87" r="5.40" fill="#000"/><circle cx="628.33" cy="706.87" r="5.40" fill="#000"/><circle cx="637.82" cy="704.92" r="5.40" fill="#000"/><circle cx="647.32" cy="694.44" r="5.40" fill="#000"/><circle cx="656.81" cy="685.83" r="5.40" fill="#000"/><circle cx="666.30" cy="670.47" r="5.40" fill="#000"/>
<polyline fill="none" stroke="#000" stroke-width="2.3" stroke-linejoin="round" points="96.80,760.40 106.29,760.40 115.78,760.40 125.28,760.40 134.77,760.40 144.26,760.40 153.75,760.40 163.24,760.40 172.73,760.40 182.23,760.40 191.72,760.40 201.21,760.40 210.70,760.40 220.19,760.40 229.68,760.40 239.18,760.40 248.67,760.40 258.16,760.40 267.65,760.40 277.14,760.40 286.63,760.40 296.12,760.40 305.62,760.40 315.11,760.40 324.60,760.40 334.09,760.40 343.58,760.40 353.08,760.40 362.57,752.41 372.06,743.53 381.55,728.44 391.04,721.87 400.53,721.87 410.03,721.87 419.52,721.87 429.01,721.87 438.50,721.87 447.99,721.87 457.48,721.87 466.98,721.87 476.47,721.87 485.96,721.87 495.45,721.87 504.94,721.87 514.43,721.87 523.92,721.87 533.42,721.87 542.91,721.87 552.40,721.87 561.89,721.87 571.38,721.87 580.88,721.87 590.37,721.87 599.86,721.87 609.35,721.87 618.84,721.87 628.33,721.87 637.82,721.87 647.32,725.16 656.81,725.16 666.30,721.34"/>
<rect x="91.10" y="754.70" width="11.40" height="11.40" fill="#000"/><rect x="100.59" y="754.70" width="11.40" height="11.40" fill="#000"/><rect x="110.08" y="754.70" width="11.40" height="11.40" fill="#000"/><rect x="119.58" y="754.70" width="11.40" height="11.40" fill="#000"/><rect x="129.07" y="754.70" width="11.40" height="11.40" fill="#000"/><rect x="138.56" y="754.70" width="11.40" height="11.40" fill="#000"/><rect x="148.05" y="754.70" width="11.40" height="11.40" fill="#000"/><rect x="157.54" y="754.70" width="11.40" height="11.40" fill="#000"/><rect x="167.03" y="754.70" width="11.40" height="11.40" fill="#000"/><rect x="176.53" y="754.70" width="11.40" height="11.40" fill="#000"/><rect x="186.02" y="754.70" width="11.40" height="11.40" fill="#000"/><rect x="195.51" y="754.70" width="11.40" height="11.40" fill="#000"/><rect x="205.00" y="754.70" width="11.40" height="11.40" fill="#000"/><rect x="214.49" y="754.70" width="11.40" height="11.40" fill="#000"/><rect x="223.98" y="754.70" width="11.40" height="11.40" fill="#000"/><rect x="233.48" y="754.70" width="11.40" height="11.40" fill="#000"/><rect x="242.97" y="754.70" width="11.40" height="11.40" fill="#000"/><rect x="252.46" y="754.70" width="11.40" height="11.40" fill="#000"/><rect x="261.95" y="754.70" width="11.40" height="11.40" fill="#000"/><rect x="271.44" y="754.70" width="11.40" height="11.40" fill="#000"/><rect x="280.93" y="754.70" width="11.40" height="11.40" fill="#000"/><rect x="290.43" y="754.70" width="11.40" height="11.40" fill="#000"/><rect x="299.92" y="754.70" width="11.40" height="11.40" fill="#000"/><rect x="309.41" y="754.70" width="11.40" height="11.40" fill="#000"/><rect x="318.90" y="754.70" width="11.40" height="11.40" fill="#000"/><rect x="328.39" y="754.70" width="11.40" height="11.40" fill="#000"/><rect x="337.88" y="754.70" width="11.40" height="11.40" fill="#000"/><rect x="347.38" y="754.70" width="11.40" height="11.40" fill="#000"/><rect x="356.87" y="746.71" width="11.40" height="11.40" fill="#000"/><rect x="366.36" y="737.83" width="11.40" height="11.40" fill="#000"/><rect x="375.85" y="722.74" width="11.40" height="11.40" fill="#000"/><rect x="385.34" y="716.17" width="11.40" height="11.40" fill="#000"/><rect x="394.83" y="716.17" width="11.40" height="11.40" fill="#000"/><rect x="404.33" y="716.17" width="11.40" height="11.40" fill="#000"/><rect x="413.82" y="716.17" width="11.40" height="11.40" fill="#000"/><rect x="423.31" y="716.17" width="11.40" height="11.40" fill="#000"/><rect x="432.80" y="716.17" width="11.40" height="11.40" fill="#000"/><rect x="442.29" y="716.17" width="11.40" height="11.40" fill="#000"/><rect x="451.78" y="716.17" width="11.40" height="11.40" fill="#000"/><rect x="461.28" y="716.17" width="11.40" height="11.40" fill="#000"/><rect x="470.77" y="716.17" width="11.40" height="11.40" fill="#000"/><rect x="480.26" y="716.17" width="11.40" height="11.40" fill="#000"/><rect x="489.75" y="716.17" width="11.40" height="11.40" fill="#000"/><rect x="499.24" y="716.17" width="11.40" height="11.40" fill="#000"/><rect x="508.73" y="716.17" width="11.40" height="11.40" fill="#000"/><rect x="518.22" y="716.17" width="11.40" height="11.40" fill="#000"/><rect x="527.72" y="716.17" width="11.40" height="11.40" fill="#000"/><rect x="537.21" y="716.17" width="11.40" height="11.40" fill="#000"/><rect x="546.70" y="716.17" width="11.40" height="11.40" fill="#000"/><rect x="556.19" y="716.17" width="11.40" height="11.40" fill="#000"/><rect x="565.68" y="716.17" width="11.40" height="11.40" fill="#000"/><rect x="575.17" y="716.17" width="11.40" height="11.40" fill="#000"/><rect x="584.67" y="716.17" width="11.40" height="11.40" fill="#000"/><rect x="594.16" y="716.17" width="11.40" height="11.40" fill="#000"/><rect x="603.65" y="716.17" width="11.40" height="11.40" fill="#000"/><rect x="613.14" y="716.17" width="11.40" height="11.40" fill="#000"/><rect x="622.63" y="716.17" width="11.40" height="11.40" fill="#000"/><rect x="632.12" y="716.17" width="11.40" height="11.40" fill="#000"/><rect x="641.62" y="719.46" width="11.40" height="11.40" fill="#000"/><rect x="651.11" y="719.46" width="11.40" height="11.40" fill="#000"/><rect x="660.60" y="715.64" width="11.40" height="11.40" fill="#000"/></g>
<g><path d="M93.9 1147.2V795.9H670.0V1147.2H93.9" fill="none" stroke="#000" stroke-width="1.8"/>
<path d="M86.60 1147.20H93.9M86.60 1059.38H93.9M86.60 971.55H93.9M86.60 883.73H93.9M86.60 795.90H93.9M93.90 1147.2V1154.40M113.10 1147.2V1152.50M132.31 1147.2V1152.50M151.51 1147.2V1152.50M170.71 1147.2V1152.50M189.92 1147.2V1154.40M209.12 1147.2V1152.50M228.32 1147.2V1152.50M247.53 1147.2V1152.50M266.73 1147.2V1152.50M285.93 1147.2V1154.40M305.14 1147.2V1152.50M324.34 1147.2V1152.50M343.54 1147.2V1152.50M362.75 1147.2V1152.50M381.95 1147.2V1154.40M401.15 1147.2V1152.50M420.36 1147.2V1152.50M439.56 1147.2V1152.50M458.76 1147.2V1152.50M477.97 1147.2V1154.40M497.17 1147.2V1152.50M516.37 1147.2V1152.50M535.58 1147.2V1152.50M554.78 1147.2V1152.50M573.98 1147.2V1154.40M593.19 1147.2V1152.50M612.39 1147.2V1152.50M631.59 1147.2V1152.50M650.80 1147.2V1152.50M670.00 1147.2V1154.40" fill="none" stroke="#000" stroke-width="1.4"/>
<text x="73.10" y="1154.50" font-size="22" font-weight="bold" text-anchor="end">0</text>
<text x="73.10" y="1066.67" font-size="22" font-weight="bold" text-anchor="end">1</text>
<text x="73.10" y="978.85" font-size="22" font-weight="bold" text-anchor="end">2</text>
<text x="73.10" y="891.02" font-size="22" font-weight="bold" text-anchor="end">3</text>
<text x="73.10" y="803.20" font-size="22" font-weight="bold" text-anchor="end">4</text>
<polyline fill="none" stroke="#000" stroke-width="1.9" stroke-linejoin="round" points="93.90,1055.69 103.50,1055.69 113.10,1055.69 122.71,1055.69 132.31,1055.69 141.91,1056.30 151.51,1147.20 161.11,1147.20 170.71,1147.20 180.31,1147.20 189.92,1147.20 199.52,1147.20 209.12,1147.20 218.72,1147.20 228.32,1147.20 237.93,1147.20 247.53,1147.20 257.13,1147.20 266.73,1147.20 276.33,1147.20 285.93,1147.20 295.53,1147.20 305.14,1147.20 314.74,1147.20 324.34,1147.20 333.94,1147.20 343.54,1147.20 353.14,1147.20 362.75,1147.20 372.35,1147.20 381.95,1147.20 391.55,1093.63 401.15,1038.65 410.75,1018.80 420.36,999.65 429.96,987.36 439.56,977.87 449.16,971.99 458.76,968.04 468.37,963.82 477.97,966.28 487.57,960.31 497.17,960.31 506.77,960.31 516.37,958.38 525.98,957.50 535.58,956.27 545.18,958.38 554.78,958.90 564.38,955.74 573.98,957.06 583.59,958.38 593.19,957.06 602.79,954.42 612.39,952.23 621.99,956.27 631.59,953.63 641.19,954.16 650.80,953.63 660.40,955.48 670.00,955.48"/>
<path d="M88.70 1055.69H99.10M93.90 1050.49V1060.89" stroke="#000" stroke-width="1.3" fill="none"/><path d="M98.30 1055.69H108.70M103.50 1050.49V1060.89" stroke="#000" stroke-width="1.3" fill="none"/><path d="M107.90 1055.69H118.30M113.10 1050.49V1060.89" stroke="#000" stroke-width="1.3" fill="none"/><path d="M117.51 1055.69H127.91M122.71 1050.49V1060.89" stroke="#000" stroke-width="1.3" fill="none"/><path d="M127.11 1055.69H137.51M132.31 1050.49V1060.89" stroke="#000" stroke-width="1.3" fill="none"/><path d="M136.71 1056.30H147.11M141.91 1051.10V1061.50" stroke="#000" stroke-width="1.3" fill="none"/><path d="M146.31 1147.20H156.71M151.51 1142.00V1152.40" stroke="#000" stroke-width="1.3" fill="none"/><path d="M155.91 1147.20H166.31M161.11 1142.00V1152.40" stroke="#000" stroke-width="1.3" fill="none"/><path d="M165.51 1147.20H175.91M170.71 1142.00V1152.40" stroke="#000" stroke-width="1.3" fill="none"/><path d="M175.12 1147.20H185.51M180.31 1142.00V1152.40" stroke="#000" stroke-width="1.3" fill="none"/><path d="M184.72 1147.20H195.12M189.92 1142.00V1152.40" stroke="#000" stroke-width="1.3" fill="none"/><path d="M194.32 1147.20H204.72M199.52 1142.00V1152.40" stroke="#000" stroke-width="1.3" fill="none"/><path d="M203.92 1147.20H214.32M209.12 1142.00V1152.40" stroke="#000" stroke-width="1.3" fill="none"/><path d="M213.52 1147.20H223.92M218.72 1142.00V1152.40" stroke="#000" stroke-width="1.3" fill="none"/><path d="M223.12 1147.20H233.52M228.32 1142.00V1152.40" stroke="#000" stroke-width="1.3" fill="none"/><path d="M232.73 1147.20H243.12M237.93 1142.00V1152.40" stroke="#000" stroke-width="1.3" fill="none"/><path d="M242.33 1147.20H252.73M247.53 1142.00V1152.40" stroke="#000" stroke-width="1.3" fill="none"/><path d="M251.93 1147.20H262.33M257.13 1142.00V1152.40" stroke="#000" stroke-width="1.3" fill="none"/><path d="M261.53 1147.20H271.93M266.73 1142.00V1152.40" stroke="#000" stroke-width="1.3" fill="none"/><path d="M271.13 1147.20H281.53M276.33 1142.00V1152.40" stroke="#000" stroke-width="1.3" fill="none"/><path d="M280.73 1147.20H291.13M285.93 1142.00V1152.40" stroke="#000" stroke-width="1.3" fill="none"/><path d="M290.33 1147.20H300.73M295.53 1142.00V1152.40" stroke="#000" stroke-width="1.3" fill="none"/><path d="M299.94 1147.20H310.34M305.14 1142.00V1152.40" stroke="#000" stroke-width="1.3" fill="none"/><path d="M309.54 1147.20H319.94M314.74 1142.00V1152.40" stroke="#000" stroke-width="1.3" fill="none"/><path d="M319.14 1147.20H329.54M324.34 1142.00V1152.40" stroke="#000" stroke-width="1.3" fill="none"/><path d="M328.74 1147.20H339.14M333.94 1142.00V1152.40" stroke="#000" stroke-width="1.3" fill="none"/><path d="M338.34 1147.20H348.74M343.54 1142.00V1152.40" stroke="#000" stroke-width="1.3" fill="none"/><path d="M347.94 1147.20H358.34M353.14 1142.00V1152.40" stroke="#000" stroke-width="1.3" fill="none"/><path d="M357.55 1147.20H367.95M362.75 1142.00V1152.40" stroke="#000" stroke-width="1.3" fill="none"/><path d="M367.15 1147.20H377.55M372.35 1142.00V1152.40" stroke="#000" stroke-width="1.3" fill="none"/><path d="M376.75 1147.20H387.15M381.95 1142.00V1152.40" stroke="#000" stroke-width="1.3" fill="none"/><path d="M386.35 1093.63H396.75M391.55 1088.43V1098.83" stroke="#000" stroke-width="1.3" fill="none"/><path d="M395.95 1038.65H406.35M401.15 1033.45V1043.85" stroke="#000" stroke-width="1.3" fill="none"/><path d="M405.56 1018.80H415.95M410.75 1013.60V1024.00" stroke="#000" stroke-width="1.3" fill="none"/><path d="M415.16 999.65H425.56M420.36 994.45V1004.85" stroke="#000" stroke-width="1.3" fill="none"/><path d="M424.76 987.36H435.16M429.96 982.16V992.56" stroke="#000" stroke-width="1.3" fill="none"/><path d="M434.36 977.87H444.76M439.56 972.67V983.07" stroke="#000" stroke-width="1.3" fill="none"/><path d="M443.96 971.99H454.36M449.16 966.79V977.19" stroke="#000" stroke-width="1.3" fill="none"/><path d="M453.56 968.04H463.96M458.76 962.84V973.24" stroke="#000" stroke-width="1.3" fill="none"/><path d="M463.17 963.82H473.56M468.37 958.62V969.02" stroke="#000" stroke-width="1.3" fill="none"/><path d="M472.77 966.28H483.17M477.97 961.08V971.48" stroke="#000" stroke-width="1.3" fill="none"/><path d="M482.37 960.31H492.77M487.57 955.11V965.51" stroke="#000" stroke-width="1.3" fill="none"/><path d="M491.97 960.31H502.37M497.17 955.11V965.51" stroke="#000" stroke-width="1.3" fill="none"/><path d="M501.57 960.31H511.97M506.77 955.11V965.51" stroke="#000" stroke-width="1.3" fill="none"/><path d="M511.17 958.38H521.57M516.37 953.18V963.58" stroke="#000" stroke-width="1.3" fill="none"/><path d="M520.77 957.50H531.18M525.98 952.30V962.70" stroke="#000" stroke-width="1.3" fill="none"/><path d="M530.38 956.27H540.78M535.58 951.07V961.47" stroke="#000" stroke-width="1.3" fill="none"/><path d="M539.98 958.38H550.38M545.18 953.18V963.58" stroke="#000" stroke-width="1.3" fill="none"/><path d="M549.58 958.90H559.98M554.78 953.70V964.10" stroke="#000" stroke-width="1.3" fill="none"/><path d="M559.18 955.74H569.58M564.38 950.54V960.94" stroke="#000" stroke-width="1.3" fill="none"/><path d="M568.78 957.06H579.18M573.98 951.86V962.26" stroke="#000" stroke-width="1.3" fill="none"/><path d="M578.38 958.38H588.79M583.59 953.18V963.58" stroke="#000" stroke-width="1.3" fill="none"/><path d="M587.99 957.06H598.39M593.19 951.86V962.26" stroke="#000" stroke-width="1.3" fill="none"/><path d="M597.59 954.42H607.99M602.79 949.22V959.62" stroke="#000" stroke-width="1.3" fill="none"/><path d="M607.19 952.23H617.59M612.39 947.03V957.43" stroke="#000" stroke-width="1.3" fill="none"/><path d="M616.79 956.27H627.19M621.99 951.07V961.47" stroke="#000" stroke-width="1.3" fill="none"/><path d="M626.39 953.63H636.79M631.59 948.43V958.83" stroke="#000" stroke-width="1.3" fill="none"/><path d="M635.99 954.16H646.39M641.19 948.96V959.36" stroke="#000" stroke-width="1.3" fill="none"/><path d="M645.60 953.63H656.00M650.80 948.43V958.83" stroke="#000" stroke-width="1.3" fill="none"/><path d="M655.20 955.48H665.60M660.40 950.28V960.68" stroke="#000" stroke-width="1.3" fill="none"/><path d="M664.80 955.48H675.20M670.00 950.28V960.68" stroke="#000" stroke-width="1.3" fill="none"/>
<polyline fill="none" stroke="#000" stroke-width="2.3" stroke-linejoin="round" points="93.90,1147.20 103.50,1147.20 113.10,1147.20 122.71,1147.20 132.31,1147.20 141.91,1131.65 151.51,1055.25 161.11,1059.90 170.71,1059.90 180.31,1061.57 189.92,1107.06 199.52,1147.20 209.12,1147.20 218.72,1147.20 228.32,1147.20 237.93,1147.20 247.53,1147.20 257.13,1147.20 266.73,1147.20 276.33,1147.20 285.93,1147.20 295.53,1147.20 305.14,1147.20 314.74,1147.20 324.34,1147.20 333.94,1147.20 343.54,1147.20 353.14,1147.20 362.75,1147.20 372.35,1147.20 381.95,1147.20 391.55,1147.20 401.15,1147.20 410.75,1147.20 420.36,1147.20 429.96,1147.20 439.56,1144.13 449.16,1092.40 458.76,1038.65 468.37,1019.94 477.97,1002.90 487.57,992.63 497.17,987.36 506.77,985.08 516.37,982.35 525.98,978.58 535.58,979.45 545.18,974.62 554.78,977.26 564.38,978.58 573.98,973.31 583.59,971.99 593.19,972.78 602.79,971.99 612.39,975.94 621.99,973.31 631.59,974.18 641.19,973.31 650.80,970.67 660.40,969.35 670.00,970.67"/>
<rect x="88.50" y="1145.50" width="10.80" height="3.4" fill="#000"/><rect x="98.10" y="1145.50" width="10.80" height="3.4" fill="#000"/><rect x="107.70" y="1145.50" width="10.80" height="3.4" fill="#000"/><rect x="117.31" y="1145.50" width="10.80" height="3.4" fill="#000"/><rect x="126.91" y="1145.50" width="10.80" height="3.4" fill="#000"/><rect x="136.51" y="1129.95" width="10.80" height="3.4" fill="#000"/><rect x="146.11" y="1053.55" width="10.80" height="3.4" fill="#000"/><rect x="155.71" y="1058.20" width="10.80" height="3.4" fill="#000"/><rect x="165.31" y="1058.20" width="10.80" height="3.4" fill="#000"/><rect x="174.91" y="1059.87" width="10.80" height="3.4" fill="#000"/><rect x="184.52" y="1105.36" width="10.80" height="3.4" fill="#000"/><rect x="194.12" y="1145.50" width="10.80" height="3.4" fill="#000"/><rect x="203.72" y="1145.50" width="10.80" height="3.4" fill="#000"/><rect x="213.32" y="1145.50" width="10.80" height="3.4" fill="#000"/><rect x="222.92" y="1145.50" width="10.80" height="3.4" fill="#000"/><rect x="232.53" y="1145.50" width="10.80" height="3.4" fill="#000"/><rect x="242.13" y="1145.50" width="10.80" height="3.4" fill="#000"/><rect x="251.73" y="1145.50" width="10.80" height="3.4" fill="#000"/><rect x="261.33" y="1145.50" width="10.80" height="3.4" fill="#000"/><rect x="270.93" y="1145.50" width="10.80" height="3.4" fill="#000"/><rect x="280.53" y="1145.50" width="10.80" height="3.4" fill="#000"/><rect x="290.13" y="1145.50" width="10.80" height="3.4" fill="#000"/><rect x="299.74" y="1145.50" width="10.80" height="3.4" fill="#000"/><rect x="309.34" y="1145.50" width="10.80" height="3.4" fill="#000"/><rect x="318.94" y="1145.50" width="10.80" height="3.4" fill="#000"/><rect x="328.54" y="1145.50" width="10.80" height="3.4" fill="#000"/><rect x="338.14" y="1145.50" width="10.80" height="3.4" fill="#000"/><rect x="347.75" y="1145.50" width="10.80" height="3.4" fill="#000"/><rect x="357.35" y="1145.50" width="10.80" height="3.4" fill="#000"/><rect x="366.95" y="1145.50" width="10.80" height="3.4" fill="#000"/><rect x="376.55" y="1145.50" width="10.80" height="3.4" fill="#000"/><rect x="386.15" y="1145.50" width="10.80" height="3.4" fill="#000"/><rect x="395.75" y="1145.50" width="10.80" height="3.4" fill="#000"/><rect x="405.36" y="1145.50" width="10.80" height="3.4" fill="#000"/><rect x="414.96" y="1145.50" width="10.80" height="3.4" fill="#000"/><rect x="424.56" y="1145.50" width="10.80" height="3.4" fill="#000"/><rect x="434.16" y="1142.43" width="10.80" height="3.4" fill="#000"/><rect x="443.76" y="1090.70" width="10.80" height="3.4" fill="#000"/><rect x="453.36" y="1036.95" width="10.80" height="3.4" fill="#000"/><rect x="462.97" y="1018.24" width="10.80" height="3.4" fill="#000"/><rect x="472.57" y="1001.20" width="10.80" height="3.4" fill="#000"/><rect x="482.17" y="990.93" width="10.80" height="3.4" fill="#000"/><rect x="491.77" y="985.66" width="10.80" height="3.4" fill="#000"/><rect x="501.37" y="983.38" width="10.80" height="3.4" fill="#000"/><rect x="510.97" y="980.65" width="10.80" height="3.4" fill="#000"/><rect x="520.58" y="976.88" width="10.80" height="3.4" fill="#000"/><rect x="530.18" y="977.75" width="10.80" height="3.4" fill="#000"/><rect x="539.78" y="972.92" width="10.80" height="3.4" fill="#000"/><rect x="549.38" y="975.56" width="10.80" height="3.4" fill="#000"/><rect x="558.98" y="976.88" width="10.80" height="3.4" fill="#000"/><rect x="568.58" y="971.61" width="10.80" height="3.4" fill="#000"/><rect x="578.19" y="970.29" width="10.80" height="3.4" fill="#000"/><rect x="587.79" y="971.08" width="10.80" height="3.4" fill="#000"/><rect x="597.39" y="970.29" width="10.80" height="3.4" fill="#000"/><rect x="606.99" y="974.24" width="10.80" height="3.4" fill="#000"/><rect x="616.59" y="971.61" width="10.80" height="3.4" fill="#000"/><rect x="626.19" y="972.48" width="10.80" height="3.4" fill="#000"/><rect x="635.79" y="971.61" width="10.80" height="3.4" fill="#000"/><rect x="645.40" y="968.97" width="10.80" height="3.4" fill="#000"/><rect x="655.00" y="967.65" width="10.80" height="3.4" fill="#000"/><rect x="664.60" y="968.97" width="10.80" height="3.4" fill="#000"/>
<polyline fill="none" stroke="#000" stroke-width="2.3" stroke-linejoin="round" points="93.90,1147.20 103.50,1147.20 113.10,1147.20 122.71,1147.20 132.31,1147.20 141.91,1147.20 151.51,1147.20 161.11,1147.20 170.71,1147.20 180.31,1132.80 189.92,1068.51 199.52,1060.34 209.12,1066.93 218.72,1069.21 228.32,1082.56 237.93,1132.80 247.53,1147.20 257.13,1147.20 266.73,1147.20 276.33,1147.20 285.93,1147.20 295.53,1147.20 305.14,1147.20 314.74,1147.20 324.34,1147.20 333.94,1147.20 343.54,1147.20 353.14,1147.20 362.75,1147.20 372.35,1147.20 381.95,1147.20 391.55,1147.20 401.15,1147.20 410.75,1147.20 420.36,1147.20 429.96,1147.20 439.56,1147.20 449.16,1147.20 458.76,1147.20 468.37,1147.20 477.97,1143.69 487.57,1099.42 497.17,1049.10 506.77,1027.32 516.37,1010.37 525.98,999.65 535.58,992.98 545.18,989.99 554.78,985.16 564.38,982.53 573.98,981.21 583.59,978.58 593.19,979.89 602.79,981.21 612.39,977.26 621.99,973.31 631.59,978.58 641.19,978.58 650.80,978.05 660.40,977.26 670.00,978.58"/>
<path d="M93.90 1141.50L99.60 1152.90H88.20Z" fill="#000"/><path d="M103.50 1141.50L109.20 1152.90H97.80Z" fill="#000"/><path d="M113.10 1141.50L118.80 1152.90H107.40Z" fill="#000"/><path d="M122.71 1141.50L128.41 1152.90H117.01Z" fill="#000"/><path d="M132.31 1141.50L138.01 1152.90H126.61Z" fill="#000"/><path d="M141.91 1141.50L147.61 1152.90H136.21Z" fill="#000"/><path d="M151.51 1141.50L157.21 1152.90H145.81Z" fill="#000"/><path d="M161.11 1141.50L166.81 1152.90H155.41Z" fill="#000"/><path d="M170.71 1141.50L176.41 1152.90H165.01Z" fill="#000"/><path d="M180.31 1127.10L186.01 1138.50H174.62Z" fill="#000"/><path d="M189.92 1062.81L195.62 1074.21H184.22Z" fill="#000"/><path d="M199.52 1054.64L205.22 1066.04H193.82Z" fill="#000"/><path d="M209.12 1061.23L214.82 1072.63H203.42Z" fill="#000"/><path d="M218.72 1063.51L224.42 1074.91H213.02Z" fill="#000"/><path d="M228.32 1076.86L234.02 1088.26H222.62Z" fill="#000"/><path d="M237.93 1127.10L243.62 1138.50H232.23Z" fill="#000"/><path d="M247.53 1141.50L253.23 1152.90H241.83Z" fill="#000"/><path d="M257.13 1141.50L262.83 1152.90H251.43Z" fill="#000"/><path d="M266.73 1141.50L272.43 1152.90H261.03Z" fill="#000"/><path d="M276.33 1141.50L282.03 1152.90H270.63Z" fill="#000"/><path d="M285.93 1141.50L291.63 1152.90H280.23Z" fill="#000"/><path d="M295.53 1141.50L301.23 1152.90H289.83Z" fill="#000"/><path d="M305.14 1141.50L310.84 1152.90H299.44Z" fill="#000"/><path d="M314.74 1141.50L320.44 1152.90H309.04Z" fill="#000"/><path d="M324.34 1141.50L330.04 1152.90H318.64Z" fill="#000"/><path d="M333.94 1141.50L339.64 1152.90H328.24Z" fill="#000"/><path d="M343.54 1141.50L349.24 1152.90H337.84Z" fill="#000"/><path d="M353.14 1141.50L358.84 1152.90H347.44Z" fill="#000"/><path d="M362.75 1141.50L368.45 1152.90H357.05Z" fill="#000"/><path d="M372.35 1141.50L378.05 1152.90H366.65Z" fill="#000"/><path d="M381.95 1141.50L387.65 1152.90H376.25Z" fill="#000"/><path d="M391.55 1141.50L397.25 1152.90H385.85Z" fill="#000"/><path d="M401.15 1141.50L406.85 1152.90H395.45Z" fill="#000"/><path d="M410.75 1141.50L416.45 1152.90H405.06Z" fill="#000"/><path d="M420.36 1141.50L426.06 1152.90H414.66Z" fill="#000"/><path d="M429.96 1141.50L435.66 1152.90H424.26Z" fill="#000"/><path d="M439.56 1141.50L445.26 1152.90H433.86Z" fill="#000"/><path d="M449.16 1141.50L454.86 1152.90H443.46Z" fill="#000"/><path d="M458.76 1141.50L464.46 1152.90H453.06Z" fill="#000"/><path d="M468.37 1141.50L474.06 1152.90H462.67Z" fill="#000"/><path d="M477.97 1137.99L483.67 1149.39H472.27Z" fill="#000"/><path d="M487.57 1093.72L493.27 1105.12H481.87Z" fill="#000"/><path d="M497.17 1043.40L502.87 1054.80H491.47Z" fill="#000"/><path d="M506.77 1021.62L512.47 1033.02H501.07Z" fill="#000"/><path d="M516.37 1004.67L522.07 1016.07H510.67Z" fill="#000"/><path d="M525.98 993.95L531.68 1005.35H520.27Z" fill="#000"/><path d="M535.58 987.28L541.28 998.68H529.88Z" fill="#000"/><path d="M545.18 984.29L550.88 995.69H539.48Z" fill="#000"/><path d="M554.78 979.46L560.48 990.86H549.08Z" fill="#000"/><path d="M564.38 976.83L570.08 988.23H558.68Z" fill="#000"/><path d="M573.98 975.51L579.68 986.91H568.28Z" fill="#000"/><path d="M583.59 972.88L589.29 984.28H577.88Z" fill="#000"/><path d="M593.19 974.19L598.89 985.59H587.49Z" fill="#000"/><path d="M602.79 975.51L608.49 986.91H597.09Z" fill="#000"/><path d="M612.39 971.56L618.09 982.96H606.69Z" fill="#000"/><path d="M621.99 967.61L627.69 979.01H616.29Z" fill="#000"/><path d="M631.59 972.88L637.29 984.28H625.89Z" fill="#000"/><path d="M641.19 972.88L646.89 984.28H635.49Z" fill="#000"/><path d="M650.80 972.35L656.50 983.75H645.10Z" fill="#000"/><path d="M660.40 971.56L666.10 982.96H654.70Z" fill="#000"/><path d="M670.00 972.88L675.70 984.28H664.30Z" fill="#000"/>
<polyline fill="none" stroke="#000" stroke-width="2.2" stroke-linejoin="round" points="93.90,1147.20 103.50,1147.20 113.10,1147.20 122.71,1147.20 132.31,1147.20 141.91,1147.20 151.51,1147.20 161.11,1147.20 170.71,1147.20 180.31,1147.20 189.92,1147.20 199.52,1147.20 209.12,1147.20 218.72,1131.83 228.32,1094.51 237.93,1068.16 247.53,1067.28 257.13,1073.43 266.73,1090.11 276.33,1092.75 285.93,1147.20 295.53,1147.20 305.14,1147.20 314.74,1147.20 324.34,1147.20 333.94,1147.20 343.54,1147.20 353.14,1147.20 362.75,1147.20 372.35,1147.20 381.95,1147.20 391.55,1147.20 401.15,1147.20 410.75,1147.20 420.36,1147.20 429.96,1147.20 439.56,1147.20 449.16,1147.20 458.76,1147.20 468.37,1147.20 477.97,1147.20 487.57,1147.20 497.17,1147.20 506.77,1147.20 516.37,1140.17 525.98,1110.31 535.58,1073.16 545.18,1040.32 554.78,1021.96 564.38,1008.79 573.98,999.65 583.59,995.26 593.19,992.63 602.79,989.12 612.39,987.36 621.99,985.95 631.59,985.16 641.19,985.95 650.80,985.95 660.40,987.36 670.00,981.21"/>
<path d="M88.75 1142.05L99.05 1152.35M88.75 1152.35L99.05 1142.05" stroke="#000" stroke-width="1.3" fill="none"/><path d="M98.35 1142.05L108.65 1152.35M98.35 1152.35L108.65 1142.05" stroke="#000" stroke-width="1.3" fill="none"/><path d="M107.95 1142.05L118.25 1152.35M107.95 1152.35L118.25 1142.05" stroke="#000" stroke-width="1.3" fill="none"/><path d="M117.56 1142.05L127.86 1152.35M117.56 1152.35L127.86 1142.05" stroke="#000" stroke-width="1.3" fill="none"/><path d="M127.16 1142.05L137.46 1152.35M127.16 1152.35L137.46 1142.05" stroke="#000" stroke-width="1.3" fill="none"/><path d="M136.76 1142.05L147.06 1152.35M136.76 1152.35L147.06 1142.05" stroke="#000" stroke-width="1.3" fill="none"/><path d="M146.36 1142.05L156.66 1152.35M146.36 1152.35L156.66 1142.05" stroke="#000" stroke-width="1.3" fill="none"/><path d="M155.96 1142.05L166.26 1152.35M155.96 1152.35L166.26 1142.05" stroke="#000" stroke-width="1.3" fill="none"/><path d="M165.56 1142.05L175.86 1152.35M165.56 1152.35L175.86 1142.05" stroke="#000" stroke-width="1.3" fill="none"/><path d="M175.16 1142.05L185.47 1152.35M175.16 1152.35L185.47 1142.05" stroke="#000" stroke-width="1.3" fill="none"/><path d="M184.77 1142.05L195.07 1152.35M184.77 1152.35L195.07 1142.05" stroke="#000" stroke-width="1.3" fill="none"/><path d="M194.37 1142.05L204.67 1152.35M194.37 1152.35L204.67 1142.05" stroke="#000" stroke-width="1.3" fill="none"/><path d="M203.97 1142.05L214.27 1152.35M203.97 1152.35L214.27 1142.05" stroke="#000" stroke-width="1.3" fill="none"/><path d="M213.57 1126.68L223.87 1136.98M213.57 1136.98L223.87 1126.68" stroke="#000" stroke-width="1.3" fill="none"/><path d="M223.17 1089.36L233.47 1099.66M223.17 1099.66L233.47 1089.36" stroke="#000" stroke-width="1.3" fill="none"/><path d="M232.78 1063.01L243.08 1073.31M232.78 1073.31L243.08 1063.01" stroke="#000" stroke-width="1.3" fill="none"/><path d="M242.38 1062.13L252.68 1072.43M242.38 1072.43L252.68 1062.13" stroke="#000" stroke-width="1.3" fill="none"/><path d="M251.98 1068.28L262.28 1078.58M251.98 1078.58L262.28 1068.28" stroke="#000" stroke-width="1.3" fill="none"/><path d="M261.58 1084.96L271.88 1095.26M261.58 1095.26L271.88 1084.96" stroke="#000" stroke-width="1.3" fill="none"/><path d="M271.18 1087.60L281.48 1097.90M271.18 1097.90L281.48 1087.60" stroke="#000" stroke-width="1.3" fill="none"/><path d="M280.78 1142.05L291.08 1152.35M280.78 1152.35L291.08 1142.05" stroke="#000" stroke-width="1.3" fill="none"/><path d="M290.38 1142.05L300.68 1152.35M290.38 1152.35L300.68 1142.05" stroke="#000" stroke-width="1.3" fill="none"/><path d="M299.99 1142.05L310.29 1152.35M299.99 1152.35L310.29 1142.05" stroke="#000" stroke-width="1.3" fill="none"/><path d="M309.59 1142.05L319.89 1152.35M309.59 1152.35L319.89 1142.05" stroke="#000" stroke-width="1.3" fill="none"/><path d="M319.19 1142.05L329.49 1152.35M319.19 1152.35L329.49 1142.05" stroke="#000" stroke-width="1.3" fill="none"/><path d="M328.79 1142.05L339.09 1152.35M328.79 1152.35L339.09 1142.05" stroke="#000" stroke-width="1.3" fill="none"/><path d="M338.39 1142.05L348.69 1152.35M338.39 1152.35L348.69 1142.05" stroke="#000" stroke-width="1.3" fill="none"/><path d="M348.00 1142.05L358.29 1152.35M348.00 1152.35L358.29 1142.05" stroke="#000" stroke-width="1.3" fill="none"/><path d="M357.60 1142.05L367.90 1152.35M357.60 1152.35L367.90 1142.05" stroke="#000" stroke-width="1.3" fill="none"/><path d="M367.20 1142.05L377.50 1152.35M367.20 1152.35L377.50 1142.05" stroke="#000" stroke-width="1.3" fill="none"/><path d="M376.80 1142.05L387.10 1152.35M376.80 1152.35L387.10 1142.05" stroke="#000" stroke-width="1.3" fill="none"/><path d="M386.40 1142.05L396.70 1152.35M386.40 1152.35L396.70 1142.05" stroke="#000" stroke-width="1.3" fill="none"/><path d="M396.00 1142.05L406.30 1152.35M396.00 1152.35L406.30 1142.05" stroke="#000" stroke-width="1.3" fill="none"/><path d="M405.61 1142.05L415.90 1152.35M405.61 1152.35L415.90 1142.05" stroke="#000" stroke-width="1.3" fill="none"/><path d="M415.21 1142.05L425.51 1152.35M415.21 1152.35L425.51 1142.05" stroke="#000" stroke-width="1.3" fill="none"/><path d="M424.81 1142.05L435.11 1152.35M424.81 1152.35L435.11 1142.05" stroke="#000" stroke-width="1.3" fill="none"/><path d="M434.41 1142.05L444.71 1152.35M434.41 1152.35L444.71 1142.05" stroke="#000" stroke-width="1.3" fill="none"/><path d="M444.01 1142.05L454.31 1152.35M444.01 1152.35L454.31 1142.05" stroke="#000" stroke-width="1.3" fill="none"/><path d="M453.61 1142.05L463.91 1152.35M453.61 1152.35L463.91 1142.05" stroke="#000" stroke-width="1.3" fill="none"/><path d="M463.22 1142.05L473.51 1152.35M463.22 1152.35L473.51 1142.05" stroke="#000" stroke-width="1.3" fill="none"/><path d="M472.82 1142.05L483.12 1152.35M472.82 1152.35L483.12 1142.05" stroke="#000" stroke-width="1.3" fill="none"/><path d="M482.42 1142.05L492.72 1152.35M482.42 1152.35L492.72 1142.05" stroke="#000" stroke-width="1.3" fill="none"/><path d="M492.02 1142.05L502.32 1152.35M492.02 1152.35L502.32 1142.05" stroke="#000" stroke-width="1.3" fill="none"/><path d="M501.62 1142.05L511.92 1152.35M501.62 1152.35L511.92 1142.05" stroke="#000" stroke-width="1.3" fill="none"/><path d="M511.22 1135.02L521.52 1145.32M511.22 1145.32L521.52 1135.02" stroke="#000" stroke-width="1.3" fill="none"/><path d="M520.83 1105.16L531.12 1115.46M520.83 1115.46L531.12 1105.16" stroke="#000" stroke-width="1.3" fill="none"/><path d="M530.43 1068.01L540.73 1078.31M530.43 1078.31L540.73 1068.01" stroke="#000" stroke-width="1.3" fill="none"/><path d="M540.03 1035.17L550.33 1045.47M540.03 1045.47L550.33 1035.17" stroke="#000" stroke-width="1.3" fill="none"/><path d="M549.63 1016.81L559.93 1027.11M549.63 1027.11L559.93 1016.81" stroke="#000" stroke-width="1.3" fill="none"/><path d="M559.23 1003.64L569.53 1013.94M559.23 1013.94L569.53 1003.64" stroke="#000" stroke-width="1.3" fill="none"/><path d="M568.83 994.50L579.13 1004.80M568.83 1004.80L579.13 994.50" stroke="#000" stroke-width="1.3" fill="none"/><path d="M578.44 990.11L588.74 1000.41M578.44 1000.41L588.74 990.11" stroke="#000" stroke-width="1.3" fill="none"/><path d="M588.04 987.48L598.34 997.78M588.04 997.78L598.34 987.48" stroke="#000" stroke-width="1.3" fill="none"/><path d="M597.64 983.97L607.94 994.26M597.64 994.26L607.94 983.97" stroke="#000" stroke-width="1.3" fill="none"/><path d="M607.24 982.21L617.54 992.51M607.24 992.51L617.54 982.21" stroke="#000" stroke-width="1.3" fill="none"/><path d="M616.84 980.80L627.14 991.10M616.84 991.10L627.14 980.80" stroke="#000" stroke-width="1.3" fill="none"/><path d="M626.44 980.01L636.74 990.31M626.44 990.31L636.74 980.01" stroke="#000" stroke-width="1.3" fill="none"/><path d="M636.04 980.80L646.34 991.10M636.04 991.10L646.34 980.80" stroke="#000" stroke-width="1.3" fill="none"/><path d="M645.65 980.80L655.95 991.10M645.65 991.10L655.95 980.80" stroke="#000" stroke-width="1.3" fill="none"/><path d="M655.25 982.21L665.55 992.51M655.25 992.51L665.55 982.21" stroke="#000" stroke-width="1.3" fill="none"/><path d="M664.85 976.06L675.15 986.36M664.85 986.36L675.15 976.06" stroke="#000" stroke-width="1.3" fill="none"/>
<polyline fill="none" stroke="#000" stroke-width="2.2" stroke-linejoin="round" points="93.90,1147.20 103.50,1147.20 113.10,1147.20 122.71,1147.20 132.31,1147.20 141.91,1147.20 151.51,1147.20 161.11,1147.20 170.71,1147.20 180.31,1147.20 189.92,1147.20 199.52,1147.20 209.12,1147.20 218.72,1147.20 228.32,1147.20 237.93,1147.20 247.53,1147.20 257.13,1131.39 266.73,1094.51 276.33,1092.75 285.93,1069.91 295.53,1083.97 305.14,1098.02 314.74,1103.29 324.34,1108.56 333.94,1147.20 343.54,1147.20 353.14,1147.20 362.75,1147.20 372.35,1147.20 381.95,1147.20 391.55,1147.20 401.15,1147.20 410.75,1147.20 420.36,1147.20 429.96,1147.20 439.56,1147.20 449.16,1147.20 458.76,1147.20 468.37,1147.20 477.97,1147.20 487.57,1147.20 497.17,1147.20 506.77,1147.20 516.37,1147.20 525.98,1147.20 535.58,1147.20 545.18,1147.20 554.78,1140.17 564.38,1111.19 573.98,1077.12 583.59,1054.28 593.19,1031.89 602.79,1020.73 612.39,1012.83 621.99,1008.00 631.59,1002.29 641.19,1000.88 650.80,998.78 660.40,995.26 670.00,999.65"/>
<path d="M88.75 1142.05L99.05 1152.35M88.75 1152.35L99.05 1142.05M93.90 1142.05V1152.35" stroke="#000" stroke-width="1.3" fill="none"/><path d="M98.35 1142.05L108.65 1152.35M98.35 1152.35L108.65 1142.05M103.50 1142.05V1152.35" stroke="#000" stroke-width="1.3" fill="none"/><path d="M107.95 1142.05L118.25 1152.35M107.95 1152.35L118.25 1142.05M113.10 1142.05V1152.35" stroke="#000" stroke-width="1.3" fill="none"/><path d="M117.56 1142.05L127.86 1152.35M117.56 1152.35L127.86 1142.05M122.71 1142.05V1152.35" stroke="#000" stroke-width="1.3" fill="none"/><path d="M127.16 1142.05L137.46 1152.35M127.16 1152.35L137.46 1142.05M132.31 1142.05V1152.35" stroke="#000" stroke-width="1.3" fill="none"/><path d="M136.76 1142.05L147.06 1152.35M136.76 1152.35L147.06 1142.05M141.91 1142.05V1152.35" stroke="#000" stroke-width="1.3" fill="none"/><path d="M146.36 1142.05L156.66 1152.35M146.36 1152.35L156.66 1142.05M151.51 1142.05V1152.35" stroke="#000" stroke-width="1.3" fill="none"/><path d="M155.96 1142.05L166.26 1152.35M155.96 1152.35L166.26 1142.05M161.11 1142.05V1152.35" stroke="#000" stroke-width="1.3" fill="none"/><path d="M165.56 1142.05L175.86 1152.35M165.56 1152.35L175.86 1142.05M170.71 1142.05V1152.35" stroke="#000" stroke-width="1.3" fill="none"/><path d="M175.16 1142.05L185.47 1152.35M175.16 1152.35L185.47 1142.05M180.31 1142.05V1152.35" stroke="#000" stroke-width="1.3" fill="none"/><path d="M184.77 1142.05L195.07 1152.35M184.77 1152.35L195.07 1142.05M189.92 1142.05V1152.35" stroke="#000" stroke-width="1.3" fill="none"/><path d="M194.37 1142.05L204.67 1152.35M194.37 1152.35L204.67 1142.05M199.52 1142.05V1152.35" stroke="#000" stroke-width="1.3" fill="none"/><path d="M203.97 1142.05L214.27 1152.35M203.97 1152.35L214.27 1142.05M209.12 1142.05V1152.35" stroke="#000" stroke-width="1.3" fill="none"/><path d="M213.57 1142.05L223.87 1152.35M213.57 1152.35L223.87 1142.05M218.72 1142.05V1152.35" stroke="#000" stroke-width="1.3" fill="none"/><path d="M223.17 1142.05L233.47 1152.35M223.17 1152.35L233.47 1142.05M228.32 1142.05V1152.35" stroke="#000" stroke-width="1.3" fill="none"/><path d="M232.78 1142.05L243.08 1152.35M232.78 1152.35L243.08 1142.05M237.93 1142.05V1152.35" stroke="#000" stroke-width="1.3" fill="none"/><path d="M242.38 1142.05L252.68 1152.35M242.38 1152.35L252.68 1142.05M247.53 1142.05V1152.35" stroke="#000" stroke-width="1.3" fill="none"/><path d="M251.98 1126.24L262.28 1136.54M251.98 1136.54L262.28 1126.24M257.13 1126.24V1136.54" stroke="#000" stroke-width="1.3" fill="none"/><path d="M261.58 1089.36L271.88 1099.66M261.58 1099.66L271.88 1089.36M266.73 1089.36V1099.66" stroke="#000" stroke-width="1.3" fill="none"/><path d="M271.18 1087.60L281.48 1097.90M271.18 1097.90L281.48 1087.60M276.33 1087.60V1097.90" stroke="#000" stroke-width="1.3" fill="none"/><path d="M280.78 1064.76L291.08 1075.06M280.78 1075.06L291.08 1064.76M285.93 1064.76V1075.06" stroke="#000" stroke-width="1.3" fill="none"/><path d="M290.38 1078.82L300.68 1089.12M290.38 1089.12L300.68 1078.82M295.53 1078.82V1089.12" stroke="#000" stroke-width="1.3" fill="none"/><path d="M299.99 1092.87L310.29 1103.17M299.99 1103.17L310.29 1092.87M305.14 1092.87V1103.17" stroke="#000" stroke-width="1.3" fill="none"/><path d="M309.59 1098.14L319.89 1108.44M309.59 1108.44L319.89 1098.14M314.74 1098.14V1108.44" stroke="#000" stroke-width="1.3" fill="none"/><path d="M319.19 1103.41L329.49 1113.71M319.19 1113.71L329.49 1103.41M324.34 1103.41V1113.71" stroke="#000" stroke-width="1.3" fill="none"/><path d="M328.79 1142.05L339.09 1152.35M328.79 1152.35L339.09 1142.05M333.94 1142.05V1152.35" stroke="#000" stroke-width="1.3" fill="none"/><path d="M338.39 1142.05L348.69 1152.35M338.39 1152.35L348.69 1142.05M343.54 1142.05V1152.35" stroke="#000" stroke-width="1.3" fill="none"/><path d="M348.00 1142.05L358.29 1152.35M348.00 1152.35L358.29 1142.05M353.14 1142.05V1152.35" stroke="#000" stroke-width="1.3" fill="none"/><path d="M357.60 1142.05L367.90 1152.35M357.60 1152.35L367.90 1142.05M362.75 1142.05V1152.35" stroke="#000" stroke-width="1.3" fill="none"/><path d="M367.20 1142.05L377.50 1152.35M367.20 1152.35L377.50 1142.05M372.35 1142.05V1152.35" stroke="#000" stroke-width="1.3" fill="none"/><path d="M376.80 1142.05L387.10 1152.35M376.80 1152.35L387.10 1142.05M381.95 1142.05V1152.35" stroke="#000" stroke-width="1.3" fill="none"/><path d="M386.40 1142.05L396.70 1152.35M386.40 1152.35L396.70 1142.05M391.55 1142.05V1152.35" stroke="#000" stroke-width="1.3" fill="none"/><path d="M396.00 1142.05L406.30 1152.35M396.00 1152.35L406.30 1142.05M401.15 1142.05V1152.35" stroke="#000" stroke-width="1.3" fill="none"/><path d="M405.61 1142.05L415.90 1152.35M405.61 1152.35L415.90 1142.05M410.75 1142.05V1152.35" stroke="#000" stroke-width="1.3" fill="none"/><path d="M415.21 1142.05L425.51 1152.35M415.21 1152.35L425.51 1142.05M420.36 1142.05V1152.35" stroke="#000" stroke-width="1.3" fill="none"/><path d="M424.81 1142.05L435.11 1152.35M424.81 1152.35L435.11 1142.05M429.96 1142.05V1152.35" stroke="#000" stroke-width="1.3" fill="none"/><path d="M434.41 1142.05L444.71 1152.35M434.41 1152.35L444.71 1142.05M439.56 1142.05V1152.35" stroke="#000" stroke-width="1.3" fill="none"/><path d="M444.01 1142.05L454.31 1152.35M444.01 1152.35L454.31 1142.05M449.16 1142.05V1152.35" stroke="#000" stroke-width="1.3" fill="none"/><path d="M453.61 1142.05L463.91 1152.35M453.61 1152.35L463.91 1142.05M458.76 1142.05V1152.35" stroke="#000" stroke-width="1.3" fill="none"/><path d="M463.22 1142.05L473.51 1152.35M463.22 1152.35L473.51 1142.05M468.37 1142.05V1152.35" stroke="#000" stroke-width="1.3" fill="none"/><path d="M472.82 1142.05L483.12 1152.35M472.82 1152.35L483.12 1142.05M477.97 1142.05V1152.35" stroke="#000" stroke-width="1.3" fill="none"/><path d="M482.42 1142.05L492.72 1152.35M482.42 1152.35L492.72 1142.05M487.57 1142.05V1152.35" stroke="#000" stroke-width="1.3" fill="none"/><path d="M492.02 1142.05L502.32 1152.35M492.02 1152.35L502.32 1142.05M497.17 1142.05V1152.35" stroke="#000" stroke-width="1.3" fill="none"/><path d="M501.62 1142.05L511.92 1152.35M501.62 1152.35L511.92 1142.05M506.77 1142.05V1152.35" stroke="#000" stroke-width="1.3" fill="none"/><path d="M511.22 1142.05L521.52 1152.35M511.22 1152.35L521.52 1142.05M516.37 1142.05V1152.35" stroke="#000" stroke-width="1.3" fill="none"/><path d="M520.83 1142.05L531.12 1152.35M520.83 1152.35L531.12 1142.05M525.98 1142.05V1152.35" stroke="#000" stroke-width="1.3" fill="none"/><path d="M530.43 1142.05L540.73 1152.35M530.43 1152.35L540.73 1142.05M535.58 1142.05V1152.35" stroke="#000" stroke-width="1.3" fill="none"/><path d="M540.03 1142.05L550.33 1152.35M540.03 1152.35L550.33 1142.05M545.18 1142.05V1152.35" stroke="#000" stroke-width="1.3" fill="none"/><path d="M549.63 1135.02L559.93 1145.32M549.63 1145.32L559.93 1135.02M554.78 1135.02V1145.32" stroke="#000" stroke-width="1.3" fill="none"/><path d="M559.23 1106.04L569.53 1116.34M559.23 1116.34L569.53 1106.04M564.38 1106.04V1116.34" stroke="#000" stroke-width="1.3" fill="none"/><path d="M568.83 1071.97L579.13 1082.27M568.83 1082.27L579.13 1071.97M573.98 1071.97V1082.27" stroke="#000" stroke-width="1.3" fill="none"/><path d="M578.44 1049.13L588.74 1059.43M578.44 1059.43L588.74 1049.13M583.59 1049.13V1059.43" stroke="#000" stroke-width="1.3" fill="none"/><path d="M588.04 1026.74L598.34 1037.04M588.04 1037.04L598.34 1026.74M593.19 1026.74V1037.04" stroke="#000" stroke-width="1.3" fill="none"/><path d="M597.64 1015.58L607.94 1025.88M597.64 1025.88L607.94 1015.58M602.79 1015.58V1025.88" stroke="#000" stroke-width="1.3" fill="none"/><path d="M607.24 1007.68L617.54 1017.98M607.24 1017.98L617.54 1007.68M612.39 1007.68V1017.98" stroke="#000" stroke-width="1.3" fill="none"/><path d="M616.84 1002.85L627.14 1013.15M616.84 1013.15L627.14 1002.85M621.99 1002.85V1013.15" stroke="#000" stroke-width="1.3" fill="none"/><path d="M626.44 997.14L636.74 1007.44M626.44 1007.44L636.74 997.14M631.59 997.14V1007.44" stroke="#000" stroke-width="1.3" fill="none"/><path d="M636.04 995.73L646.34 1006.03M636.04 1006.03L646.34 995.73M641.19 995.73V1006.03" stroke="#000" stroke-width="1.3" fill="none"/><path d="M645.65 993.63L655.95 1003.93M645.65 1003.93L655.95 993.63M650.80 993.63V1003.93" stroke="#000" stroke-width="1.3" fill="none"/><path d="M655.25 990.11L665.55 1000.41M655.25 1000.41L665.55 990.11M660.40 990.11V1000.41" stroke="#000" stroke-width="1.3" fill="none"/><path d="M664.85 994.50L675.15 1004.80M664.85 1004.80L675.15 994.50M670.00 994.50V1004.80" stroke="#000" stroke-width="1.3" fill="none"/>
<polyline fill="none" stroke="#000" stroke-width="2.3" stroke-linejoin="round" points="93.90,1147.20 103.50,1147.20 113.10,1147.20 122.71,1147.20 132.31,1147.20 141.91,1147.20 151.51,1147.20 161.11,1147.20 170.71,1147.20 180.31,1147.20 189.92,1147.20 199.52,1147.20 209.12,1147.20 218.72,1147.20 228.32,1147.20 237.93,1147.20 247.53,1147.20 257.13,1147.20 266.73,1147.20 276.33,1147.20 285.93,1147.20 295.53,1131.83 305.14,1100.30 314.74,1094.51 324.34,1092.75 333.94,1078.87 343.54,1088.53 353.14,1107.77 362.75,1116.55 372.35,1123.93 381.95,1134.90 391.55,1147.20 401.15,1147.20 410.75,1147.20 420.36,1147.20 429.96,1147.20 439.56,1147.20 449.16,1147.20 458.76,1147.20 468.37,1147.20 477.97,1147.20 487.57,1147.20 497.17,1147.20 506.77,1147.20 516.37,1147.20 525.98,1147.20 535.58,1147.20 545.18,1147.20 554.78,1147.20 564.38,1147.20 573.98,1147.20 583.59,1147.20 593.19,1141.49 602.79,1113.83 612.39,1081.59 621.99,1061.39 631.59,1044.27 641.19,1029.08 650.80,1020.73 660.40,1014.85 670.00,1008.79"/>
<path d="M93.90 1141.60L99.50 1147.20L93.90 1152.80L88.30 1147.20Z" fill="#000"/><path d="M103.50 1141.60L109.10 1147.20L103.50 1152.80L97.90 1147.20Z" fill="#000"/><path d="M113.10 1141.60L118.70 1147.20L113.10 1152.80L107.50 1147.20Z" fill="#000"/><path d="M122.71 1141.60L128.31 1147.20L122.71 1152.80L117.11 1147.20Z" fill="#000"/><path d="M132.31 1141.60L137.91 1147.20L132.31 1152.80L126.71 1147.20Z" fill="#000"/><path d="M141.91 1141.60L147.51 1147.20L141.91 1152.80L136.31 1147.20Z" fill="#000"/><path d="M151.51 1141.60L157.11 1147.20L151.51 1152.80L145.91 1147.20Z" fill="#000"/><path d="M161.11 1141.60L166.71 1147.20L161.11 1152.80L155.51 1147.20Z" fill="#000"/><path d="M170.71 1141.60L176.31 1147.20L170.71 1152.80L165.11 1147.20Z" fill="#000"/><path d="M180.31 1141.60L185.91 1147.20L180.31 1152.80L174.72 1147.20Z" fill="#000"/><path d="M189.92 1141.60L195.52 1147.20L189.92 1152.80L184.32 1147.20Z" fill="#000"/><path d="M199.52 1141.60L205.12 1147.20L199.52 1152.80L193.92 1147.20Z" fill="#000"/><path d="M209.12 1141.60L214.72 1147.20L209.12 1152.80L203.52 1147.20Z" fill="#000"/><path d="M218.72 1141.60L224.32 1147.20L218.72 1152.80L213.12 1147.20Z" fill="#000"/><path d="M228.32 1141.60L233.92 1147.20L228.32 1152.80L222.72 1147.20Z" fill="#000"/><path d="M237.93 1141.60L243.53 1147.20L237.93 1152.80L232.33 1147.20Z" fill="#000"/><path d="M247.53 1141.60L253.13 1147.20L247.53 1152.80L241.93 1147.20Z" fill="#000"/><path d="M257.13 1141.60L262.73 1147.20L257.13 1152.80L251.53 1147.20Z" fill="#000"/><path d="M266.73 1141.60L272.33 1147.20L266.73 1152.80L261.13 1147.20Z" fill="#000"/><path d="M276.33 1141.60L281.93 1147.20L276.33 1152.80L270.73 1147.20Z" fill="#000"/><path d="M285.93 1141.60L291.53 1147.20L285.93 1152.80L280.33 1147.20Z" fill="#000"/><path d="M295.53 1126.23L301.13 1131.83L295.53 1137.43L289.93 1131.83Z" fill="#000"/><path d="M305.14 1094.70L310.74 1100.30L305.14 1105.90L299.54 1100.30Z" fill="#000"/><path d="M314.74 1088.91L320.34 1094.51L314.74 1100.11L309.14 1094.51Z" fill="#000"/><path d="M324.34 1087.15L329.94 1092.75L324.34 1098.35L318.74 1092.75Z" fill="#000"/><path d="M333.94 1073.27L339.54 1078.87L333.94 1084.47L328.34 1078.87Z" fill="#000"/><path d="M343.54 1082.93L349.14 1088.53L343.54 1094.13L337.94 1088.53Z" fill="#000"/><path d="M353.14 1102.17L358.75 1107.77L353.14 1113.37L347.54 1107.77Z" fill="#000"/><path d="M362.75 1110.95L368.35 1116.55L362.75 1122.15L357.15 1116.55Z" fill="#000"/><path d="M372.35 1118.33L377.95 1123.93L372.35 1129.53L366.75 1123.93Z" fill="#000"/><path d="M381.95 1129.30L387.55 1134.90L381.95 1140.50L376.35 1134.90Z" fill="#000"/><path d="M391.55 1141.60L397.15 1147.20L391.55 1152.80L385.95 1147.20Z" fill="#000"/><path d="M401.15 1141.60L406.75 1147.20L401.15 1152.80L395.55 1147.20Z" fill="#000"/><path d="M410.75 1141.60L416.36 1147.20L410.75 1152.80L405.15 1147.20Z" fill="#000"/><path d="M420.36 1141.60L425.96 1147.20L420.36 1152.80L414.76 1147.20Z" fill="#000"/><path d="M429.96 1141.60L435.56 1147.20L429.96 1152.80L424.36 1147.20Z" fill="#000"/><path d="M439.56 1141.60L445.16 1147.20L439.56 1152.80L433.96 1147.20Z" fill="#000"/><path d="M449.16 1141.60L454.76 1147.20L449.16 1152.80L443.56 1147.20Z" fill="#000"/><path d="M458.76 1141.60L464.36 1147.20L458.76 1152.80L453.16 1147.20Z" fill="#000"/><path d="M468.37 1141.60L473.97 1147.20L468.37 1152.80L462.76 1147.20Z" fill="#000"/><path d="M477.97 1141.60L483.57 1147.20L477.97 1152.80L472.37 1147.20Z" fill="#000"/><path d="M487.57 1141.60L493.17 1147.20L487.57 1152.80L481.97 1147.20Z" fill="#000"/><path d="M497.17 1141.60L502.77 1147.20L497.17 1152.80L491.57 1147.20Z" fill="#000"/><path d="M506.77 1141.60L512.37 1147.20L506.77 1152.80L501.17 1147.20Z" fill="#000"/><path d="M516.37 1141.60L521.97 1147.20L516.37 1152.80L510.77 1147.20Z" fill="#000"/><path d="M525.98 1141.60L531.58 1147.20L525.98 1152.80L520.38 1147.20Z" fill="#000"/><path d="M535.58 1141.60L541.18 1147.20L535.58 1152.80L529.98 1147.20Z" fill="#000"/><path d="M545.18 1141.60L550.78 1147.20L545.18 1152.80L539.58 1147.20Z" fill="#000"/><path d="M554.78 1141.60L560.38 1147.20L554.78 1152.80L549.18 1147.20Z" fill="#000"/><path d="M564.38 1141.60L569.98 1147.20L564.38 1152.80L558.78 1147.20Z" fill="#000"/><path d="M573.98 1141.60L579.58 1147.20L573.98 1152.80L568.38 1147.20Z" fill="#000"/><path d="M583.59 1141.60L589.19 1147.20L583.59 1152.80L577.99 1147.20Z" fill="#000"/><path d="M593.19 1135.89L598.79 1141.49L593.19 1147.09L587.59 1141.49Z" fill="#000"/><path d="M602.79 1108.23L608.39 1113.83L602.79 1119.43L597.19 1113.83Z" fill="#000"/><path d="M612.39 1075.99L617.99 1081.59L612.39 1087.19L606.79 1081.59Z" fill="#000"/><path d="M621.99 1055.79L627.59 1061.39L621.99 1066.99L616.39 1061.39Z" fill="#000"/><path d="M631.59 1038.67L637.19 1044.27L631.59 1049.87L625.99 1044.27Z" fill="#000"/><path d="M641.19 1023.48L646.79 1029.08L641.19 1034.68L635.59 1029.08Z" fill="#000"/><path d="M650.80 1015.13L656.40 1020.73L650.80 1026.33L645.20 1020.73Z" fill="#000"/><path d="M660.40 1009.25L666.00 1014.85L660.40 1020.45L654.80 1014.85Z" fill="#000"/><path d="M670.00 1003.19L675.60 1008.79L670.00 1014.39L664.40 1008.79Z" fill="#000"/>
<polyline fill="none" stroke="#000" stroke-width="2.3" stroke-linejoin="round" points="93.90,1147.20 103.50,1147.20 113.10,1147.20 122.71,1147.20 132.31,1147.20 141.91,1147.20 151.51,1147.20 161.11,1147.20 170.71,1147.20 180.31,1147.20 189.92,1147.20 199.52,1147.20 209.12,1147.20 218.72,1147.20 228.32,1147.20 237.93,1147.20 247.53,1147.20 257.13,1147.20 266.73,1147.20 276.33,1147.20 285.93,1147.20 295.53,1147.20 305.14,1147.20 314.74,1147.20 324.34,1147.20 333.94,1147.20 343.54,1131.39 353.14,1099.95 362.75,1097.32 372.35,1097.32 381.95,1097.32 391.55,1097.32 401.15,1097.32 410.75,1097.32 420.36,1097.32 429.96,1097.32 439.56,1097.32 449.16,1097.32 458.76,1097.32 468.37,1097.32 477.97,1097.32 487.57,1097.32 497.17,1097.32 506.77,1097.32 516.37,1097.32 525.98,1097.32 535.58,1097.32 545.18,1097.32 554.78,1097.32 564.38,1097.32 573.98,1097.32 583.59,1097.32 593.19,1097.32 602.79,1097.32 612.39,1097.32 621.99,1097.32 631.59,1097.32 641.19,1095.56 650.80,1085.02 660.40,1066.58 670.00,1052.96"/>
<circle cx="93.90" cy="1147.20" r="5.40" fill="#000"/><circle cx="103.50" cy="1147.20" r="5.40" fill="#000"/><circle cx="113.10" cy="1147.20" r="5.40" fill="#000"/><circle cx="122.71" cy="1147.20" r="5.40" fill="#000"/><circle cx="132.31" cy="1147.20" r="5.40" fill="#000"/><circle cx="141.91" cy="1147.20" r="5.40" fill="#000"/><circle cx="151.51" cy="1147.20" r="5.40" fill="#000"/><circle cx="161.11" cy="1147.20" r="5.40" fill="#000"/><circle cx="170.71" cy="1147.20" r="5.40" fill="#000"/><circle cx="180.31" cy="1147.20" r="5.40" fill="#000"/><circle cx="189.92" cy="1147.20" r="5.40" fill="#000"/><circle cx="199.52" cy="1147.20" r="5.40" fill="#000"/><circle cx="209.12" cy="1147.20" r="5.40" fill="#000"/><circle cx="218.72" cy="1147.20" r="5.40" fill="#000"/><circle cx="228.32" cy="1147.20" r="5.40" fill="#000"/><circle cx="237.93" cy="1147.20" r="5.40" fill="#000"/><circle cx="247.53" cy="1147.20" r="5.40" fill="#000"/><circle cx="257.13" cy="1147.20" r="5.40" fill="#000"/><circle cx="266.73" cy="1147.20" r="5.40" fill="#000"/><circle cx="276.33" cy="1147.20" r="5.40" fill="#000"/><circle cx="285.93" cy="1147.20" r="5.40" fill="#000"/><circle cx="295.53" cy="1147.20" r="5.40" fill="#000"/><circle cx="305.14" cy="1147.20" r="5.40" fill="#000"/><circle cx="314.74" cy="1147.20" r="5.40" fill="#000"/><circle cx="324.34" cy="1147.20" r="5.40" fill="#000"/><circle cx="333.94" cy="1147.20" r="5.40" fill="#000"/><circle cx="343.54" cy="1131.39" r="5.40" fill="#000"/><circle cx="353.14" cy="1099.95" r="5.40" fill="#000"/><circle cx="362.75" cy="1097.32" r="5.40" fill="#000"/><circle cx="372.35" cy="1097.32" r="5.40" fill="#000"/><circle cx="381.95" cy="1097.32" r="5.40" fill="#000"/><circle cx="391.55" cy="1097.32" r="5.40" fill="#000"/><circle cx="401.15" cy="1097.32" r="5.40" fill="#000"/><circle cx="410.75" cy="1097.32" r="5.40" fill="#000"/><circle cx="420.36" cy="1097.32" r="5.40" fill="#000"/><circle cx="429.96" cy="1097.32" r="5.40" fill="#000"/><circle cx="439.56" cy="1097.32" r="5.40" fill="#000"/><circle cx="449.16" cy="1097.32" r="5.40" fill="#000"/><circle cx="458.76" cy="1097.32" r="5.40" fill="#000"/><circle cx="468.37" cy="1097.32" r="5.40" fill="#000"/><circle cx="477.97" cy="1097.32" r="5.40" fill="#000"/><circle cx="487.57" cy="1097.32" r="5.40" fill="#000"/><circle cx="497.17" cy="1097.32" r="5.40" fill="#000"/><circle cx="506.77" cy="1097.32" r="5.40" fill="#000"/><circle cx="516.37" cy="1097.32" r="5.40" fill="#000"/><circle cx="525.98" cy="1097.32" r="5.40" fill="#000"/><circle cx="535.58" cy="1097.32" r="5.40" fill="#000"/><circle cx="545.18" cy="1097.32" r="5.40" fill="#000"/><circle cx="554.78" cy="1097.32" r="5.40" fill="#000"/><circle cx="564.38" cy="1097.32" r="5.40" fill="#000"/><circle cx="573.98" cy="1097.32" r="5.40" fill="#000"/><circle cx="583.59" cy="1097.32" r="5.40" fill="#000"/><circle cx="593.19" cy="1097.32" r="5.40" fill="#000"/><circle cx="602.79" cy="1097.32" r="5.40" fill="#000"/><circle cx="612.39" cy="1097.32" r="5.40" fill="#000"/><circle cx="621.99" cy="1097.32" r="5.40" fill="#000"/><circle cx="631.59" cy="1097.32" r="5.40" fill="#000"/><circle cx="641.19" cy="1095.56" r="5.40" fill="#000"/><circle cx="650.80" cy="1085.02" r="5.40" fill="#000"/><circle cx="660.40" cy="1066.58" r="5.40" fill="#000"/><circle cx="670.00" cy="1052.96" r="5.40" fill="#000"/>
<polyline fill="none" stroke="#000" stroke-width="2.3" stroke-linejoin="round" points="93.90,1147.20 103.50,1147.20 113.10,1147.20 122.71,1147.20 132.31,1147.20 141.91,1147.20 151.51,1147.20 161.11,1147.20 170.71,1147.20 180.31,1147.20 189.92,1147.20 199.52,1147.20 209.12,1147.20 218.72,1147.20 228.32,1147.20 237.93,1147.20 247.53,1147.20 257.13,1147.20 266.73,1147.20 276.33,1147.20 285.93,1147.20 295.53,1147.20 305.14,1147.20 314.74,1147.20 324.34,1147.20 333.94,1147.20 343.54,1147.20 353.14,1147.20 362.75,1139.38 372.35,1127.09 381.95,1119.54 391.55,1114.53 401.15,1114.53 410.75,1114.53 420.36,1114.53 429.96,1114.53 439.56,1114.53 449.16,1114.53 458.76,1114.53 468.37,1114.53 477.97,1114.53 487.57,1114.53 497.17,1114.53 506.77,1114.53 516.37,1114.53 525.98,1114.53 535.58,1114.53 545.18,1114.53 554.78,1114.53 564.38,1114.53 573.98,1114.53 583.59,1114.53 593.19,1114.53 602.79,1114.53 612.39,1114.53 621.99,1114.53 631.59,1114.53 641.19,1114.53 650.80,1117.08 660.40,1116.55 670.00,1111.28"/>
<rect x="88.20" y="1141.50" width="11.40" height="11.40" fill="#000"/><rect x="97.80" y="1141.50" width="11.40" height="11.40" fill="#000"/><rect x="107.40" y="1141.50" width="11.40" height="11.40" fill="#000"/><rect x="117.01" y="1141.50" width="11.40" height="11.40" fill="#000"/><rect x="126.61" y="1141.50" width="11.40" height="11.40" fill="#000"/><rect x="136.21" y="1141.50" width="11.40" height="11.40" fill="#000"/><rect x="145.81" y="1141.50" width="11.40" height="11.40" fill="#000"/><rect x="155.41" y="1141.50" width="11.40" height="11.40" fill="#000"/><rect x="165.01" y="1141.50" width="11.40" height="11.40" fill="#000"/><rect x="174.62" y="1141.50" width="11.40" height="11.40" fill="#000"/><rect x="184.22" y="1141.50" width="11.40" height="11.40" fill="#000"/><rect x="193.82" y="1141.50" width="11.40" height="11.40" fill="#000"/><rect x="203.42" y="1141.50" width="11.40" height="11.40" fill="#000"/><rect x="213.02" y="1141.50" width="11.40" height="11.40" fill="#000"/><rect x="222.62" y="1141.50" width="11.40" height="11.40" fill="#000"/><rect x="232.23" y="1141.50" width="11.40" height="11.40" fill="#000"/><rect x="241.83" y="1141.50" width="11.40" height="11.40" fill="#000"/><rect x="251.43" y="1141.50" width="11.40" height="11.40" fill="#000"/><rect x="261.03" y="1141.50" width="11.40" height="11.40" fill="#000"/><rect x="270.63" y="1141.50" width="11.40" height="11.40" fill="#000"/><rect x="280.23" y="1141.50" width="11.40" height="11.40" fill="#000"/><rect x="289.83" y="1141.50" width="11.40" height="11.40" fill="#000"/><rect x="299.44" y="1141.50" width="11.40" height="11.40" fill="#000"/><rect x="309.04" y="1141.50" width="11.40" height="11.40" fill="#000"/><rect x="318.64" y="1141.50" width="11.40" height="11.40" fill="#000"/><rect x="328.24" y="1141.50" width="11.40" height="11.40" fill="#000"/><rect x="337.84" y="1141.50" width="11.40" height="11.40" fill="#000"/><rect x="347.44" y="1141.50" width="11.40" height="11.40" fill="#000"/><rect x="357.05" y="1133.68" width="11.40" height="11.40" fill="#000"/><rect x="366.65" y="1121.39" width="11.40" height="11.40" fill="#000"/><rect x="376.25" y="1113.84" width="11.40" height="11.40" fill="#000"/><rect x="385.85" y="1108.83" width="11.40" height="11.40" fill="#000"/><rect x="395.45" y="1108.83" width="11.40" height="11.40" fill="#000"/><rect x="405.06" y="1108.83" width="11.40" height="11.40" fill="#000"/><rect x="414.66" y="1108.83" width="11.40" height="11.40" fill="#000"/><rect x="424.26" y="1108.83" width="11.40" height="11.40" fill="#000"/><rect x="433.86" y="1108.83" width="11.40" height="11.40" fill="#000"/><rect x="443.46" y="1108.83" width="11.40" height="11.40" fill="#000"/><rect x="453.06" y="1108.83" width="11.40" height="11.40" fill="#000"/><rect x="462.67" y="1108.83" width="11.40" height="11.40" fill="#000"/><rect x="472.27" y="1108.83" width="11.40" height="11.40" fill="#000"/><rect x="481.87" y="1108.83" width="11.40" height="11.40" fill="#000"/><rect x="491.47" y="1108.83" width="11.40" height="11.40" fill="#000"/><rect x="501.07" y="1108.83" width="11.40" height="11.40" fill="#000"/><rect x="510.67" y="1108.83" width="11.40" height="11.40" fill="#000"/><rect x="520.27" y="1108.83" width="11.40" height="11.40" fill="#000"/><rect x="529.88" y="1108.83" width="11.40" height="11.40" fill="#000"/><rect x="539.48" y="1108.83" width="11.40" height="11.40" fill="#000"/><rect x="549.08" y="1108.83" width="11.40" height="11.40" fill="#000"/><rect x="558.68" y="1108.83" width="11.40" height="11.40" fill="#000"/><rect x="568.28" y="1108.83" width="11.40" height="11.40" fill="#000"/><rect x="577.88" y="1108.83" width="11.40" height="11.40" fill="#000"/><rect x="587.49" y="1108.83" width="11.40" height="11.40" fill="#000"/><rect x="597.09" y="1108.83" width="11.40" height="11.40" fill="#000"/><rect x="606.69" y="1108.83" width="11.40" height="11.40" fill="#000"/><rect x="616.29" y="1108.83" width="11.40" height="11.40" fill="#000"/><rect x="625.89" y="1108.83" width="11.40" height="11.40" fill="#000"/><rect x="635.49" y="1108.83" width="11.40" height="11.40" fill="#000"/><rect x="645.10" y="1111.38" width="11.40" height="11.40" fill="#000"/><rect x="654.70" y="1110.85" width="11.40" height="11.40" fill="#000"/><rect x="664.30" y="1105.58" width="11.40" height="11.40" fill="#000"/></g>
<text x="93.90" y="1182.3" font-size="22" font-weight="bold" text-anchor="middle">0</text>
<text x="189.92" y="1182.3" font-size="22" font-weight="bold" text-anchor="middle">10</text>
<text x="285.93" y="1182.3" font-size="22" font-weight="bold" text-anchor="middle">20</text>
<text x="381.95" y="1182.3" font-size="22" font-weight="bold" text-anchor="middle">30</text>
<text x="477.97" y="1182.3" font-size="22" font-weight="bold" text-anchor="middle">40</text>
<text x="573.98" y="1182.3" font-size="22" font-weight="bold" text-anchor="middle">50</text>
<text x="670.00" y="1182.3" font-size="22" font-weight="bold" text-anchor="middle">60</text>
<text x="386" y="1232.6" font-size="36" font-weight="bold" text-anchor="middle">Age (days)</text>
<text transform="translate(30.3 813.6) rotate(-90)" font-size="36" font-weight="bold">Population size [Log (<tspan font-style="italic">N</tspan><tspan font-style="italic" font-size="22" dy="7">t</tspan><tspan dy="-7">+1)]</tspan></text>
<text x="605" y="39.8" font-size="26.6" font-weight="bold" text-anchor="end">Control</text>
<text x="657.4" y="437.4" font-size="27.2" font-weight="bold" font-style="italic" text-anchor="end">M. anisopliae</text>
<text x="657.4" y="828" font-size="27" font-weight="bold" font-style="italic" text-anchor="end">B. bassiana</text>
<path d="M408.2 58.0H459.3" stroke="#000" stroke-width="1.9"/>
<path d="M429.51 58.00H437.99M433.75 53.76V62.24" stroke="#000" stroke-width="1.3" fill="none"/>
<text x="463.6" y="65.00" font-size="20.5">Egg</text>
<path d="M542.3 58.0H592.2" stroke="#000" stroke-width="2.3"/>
<rect x="561.85" y="56.30" width="10.80" height="3.4" fill="#000"/>
<text x="597.6" y="65.00" font-size="20.5">L1</text>
<path d="M408.2 85.2H459.3" stroke="#000" stroke-width="2.3"/>
<path d="M433.75 79.50L439.45 90.90H428.05Z" fill="#000"/>
<text x="463.6" y="92.20" font-size="20.5">L2</text>
<path d="M542.3 85.2H592.2" stroke="#000" stroke-width="2.2"/>
<path d="M562.10 80.05L572.40 90.35M562.10 90.35L572.40 80.05" stroke="#000" stroke-width="1.3" fill="none"/>
<text x="597.6" y="92.20" font-size="20.5">L3</text>
<path d="M408.2 111.8H459.3" stroke="#000" stroke-width="2.2"/>
<path d="M428.60 106.65L438.90 116.95M428.60 116.95L438.90 106.65M433.75 106.65V116.95" stroke="#000" stroke-width="1.3" fill="none"/>
<text x="463.6" y="118.80" font-size="20.5">L4</text>
<path d="M542.3 111.8H592.2" stroke="#000" stroke-width="2.3"/>
<path d="M567.25 106.20L572.85 111.80L567.25 117.40L561.65 111.80Z" fill="#000"/>
<text x="597.6" y="118.80" font-size="20.5">Pupa</text>
<path d="M408.2 138.8H459.3" stroke="#000" stroke-width="2.3"/>
<circle cx="433.75" cy="138.80" r="5.40" fill="#000"/>
<text x="463.6" y="145.80" font-size="20.5">Female</text>
<path d="M542.3 138.8H592.2" stroke="#000" stroke-width="2.3"/>
<rect x="561.55" y="133.10" width="11.40" height="11.40" fill="#000"/>
<text x="597.6" y="145.80" font-size="20.5">Male</text>
</svg>
</body></html>
